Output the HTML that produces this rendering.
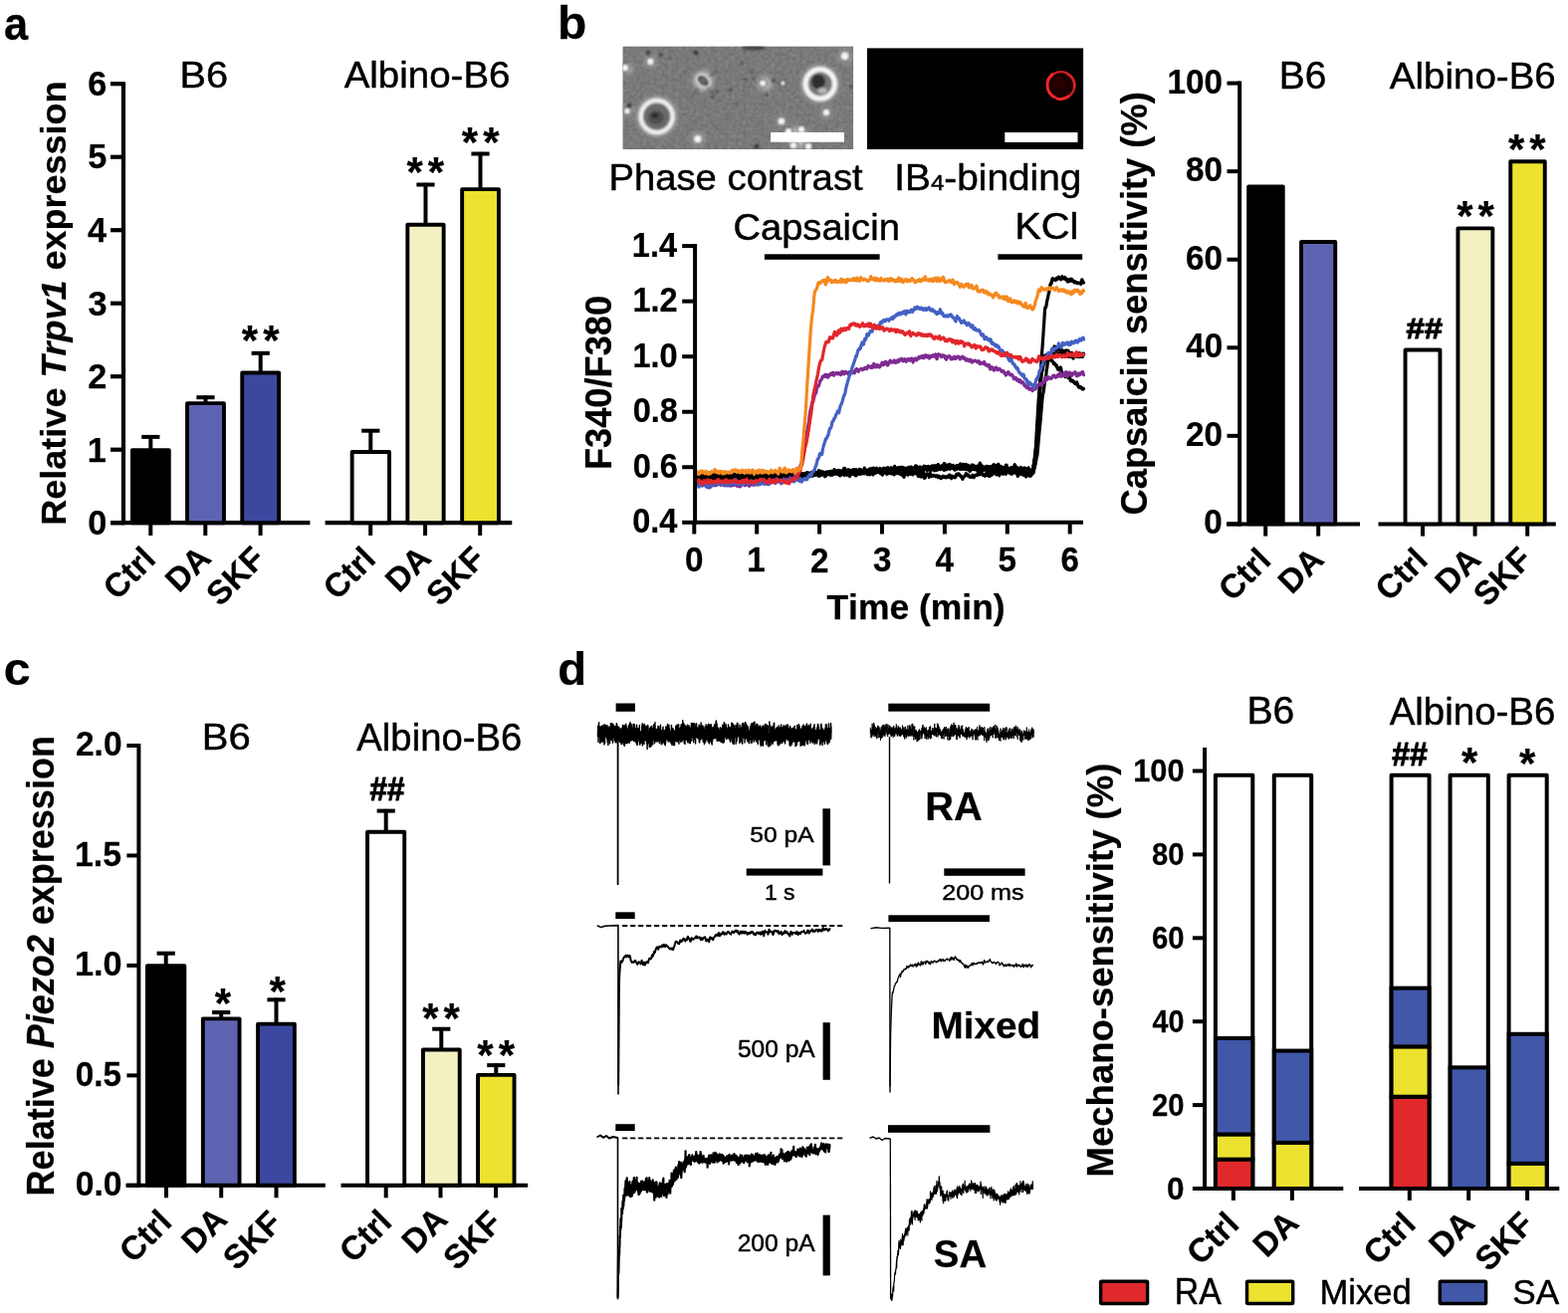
<!DOCTYPE html>
<html><head><meta charset="utf-8"><title>Figure</title>
<style>
html,body{margin:0;padding:0;background:#fff;}
svg{display:block;}
text{font-family:"Liberation Sans",Arial,Helvetica,sans-serif;font-kerning:none;}
</style></head><body>
<svg width="1575" height="1319" viewBox="0 0 1575 1319">
<rect width="1575" height="1319" fill="#fff"/>
<text transform="translate(4.05 39.52) scale(0.931 1)" font-size="46.64" fill="#000" stroke="#000" stroke-width="0.25" stroke-linejoin="round"><tspan font-weight="bold" y="0">a</tspan></text>
<line x1="124" y1="82.2" x2="124" y2="527.2" stroke="#000" stroke-width="4.2"/>
<line x1="111" y1="525.2" x2="124" y2="525.2" stroke="#000" stroke-width="4.2"/>
<line x1="111" y1="451.7" x2="124" y2="451.7" stroke="#000" stroke-width="4.2"/>
<line x1="111" y1="378.2" x2="124" y2="378.2" stroke="#000" stroke-width="4.2"/>
<line x1="111" y1="304.7" x2="124" y2="304.7" stroke="#000" stroke-width="4.2"/>
<line x1="111" y1="231.2" x2="124" y2="231.2" stroke="#000" stroke-width="4.2"/>
<line x1="111" y1="157.7" x2="124" y2="157.7" stroke="#000" stroke-width="4.2"/>
<line x1="111" y1="84.2" x2="124" y2="84.2" stroke="#000" stroke-width="4.2"/>
<text transform="translate(88.29 537.16)" font-size="34.3" fill="#000" stroke="#000" stroke-width="0.25" stroke-linejoin="round"><tspan font-weight="bold" y="0">0</tspan></text>
<text transform="translate(87.66 463.65)" font-size="34.3" fill="#000" stroke="#000" stroke-width="0.25" stroke-linejoin="round"><tspan font-weight="bold" y="0">1</tspan></text>
<text transform="translate(88.35 390.32)" font-size="34.3" fill="#000" stroke="#000" stroke-width="0.25" stroke-linejoin="round"><tspan font-weight="bold" y="0">2</tspan></text>
<text transform="translate(88.49 316.63)" font-size="34.3" fill="#000" stroke="#000" stroke-width="0.25" stroke-linejoin="round"><tspan font-weight="bold" y="0">3</tspan></text>
<text transform="translate(88.09 243.15)" font-size="34.3" fill="#000" stroke="#000" stroke-width="0.25" stroke-linejoin="round"><tspan font-weight="bold" y="0">4</tspan></text>
<text transform="translate(88.21 169.48)" font-size="34.3" fill="#000" stroke="#000" stroke-width="0.25" stroke-linejoin="round"><tspan font-weight="bold" y="0">5</tspan></text>
<text transform="translate(88.25 96.16)" font-size="34.3" fill="#000" stroke="#000" stroke-width="0.25" stroke-linejoin="round"><tspan font-weight="bold" y="0">6</tspan></text>
<line x1="111" y1="525.2" x2="311.4" y2="525.2" stroke="#000" stroke-width="4.2"/>
<line x1="326.6" y1="525.2" x2="514.3" y2="525.2" stroke="#000" stroke-width="4.2"/>
<line x1="151.3" y1="525.2" x2="151.3" y2="538" stroke="#000" stroke-width="4"/>
<line x1="206.3" y1="525.2" x2="206.3" y2="538" stroke="#000" stroke-width="4"/>
<line x1="261.6" y1="525.2" x2="261.6" y2="538" stroke="#000" stroke-width="4"/>
<line x1="372.2" y1="525.2" x2="372.2" y2="538" stroke="#000" stroke-width="4"/>
<line x1="427.1" y1="525.2" x2="427.1" y2="538" stroke="#000" stroke-width="4"/>
<line x1="482.2" y1="525.2" x2="482.2" y2="538" stroke="#000" stroke-width="4"/>
<rect x="132.9" y="452.15" width="36.9" height="73.05" fill="#000" stroke="#000" stroke-width="3.9" stroke-linejoin="round"/>
<rect x="188.05" y="405.15" width="36.9" height="120.05" fill="#5e63b1" stroke="#000" stroke-width="3.9" stroke-linejoin="round"/>
<rect x="243.25" y="374.55" width="36.9" height="150.65" fill="#3c489f" stroke="#000" stroke-width="3.9" stroke-linejoin="round"/>
<line x1="151.35" y1="451.7" x2="151.35" y2="437.2" stroke="#000" stroke-width="4"/>
<line x1="142.25" y1="438.9" x2="160.45" y2="438.9" stroke="#000" stroke-width="4"/>
<line x1="206.5" y1="405" x2="206.5" y2="397.5" stroke="#000" stroke-width="4"/>
<line x1="197.4" y1="399.2" x2="215.6" y2="399.2" stroke="#000" stroke-width="4"/>
<line x1="261.7" y1="374.4" x2="261.7" y2="353.1" stroke="#000" stroke-width="4"/>
<line x1="252.6" y1="354.8" x2="270.8" y2="354.8" stroke="#000" stroke-width="4"/>
<rect x="353.65" y="454.05" width="37.4" height="71.15" fill="#fff" stroke="#000" stroke-width="3.9" stroke-linejoin="round"/>
<rect x="409.35" y="225.75" width="36.3" height="299.45" fill="#f3f1c2" stroke="#000" stroke-width="3.9" stroke-linejoin="round"/>
<rect x="464.15" y="190.15" width="36.8" height="335.05" fill="#ece22f" stroke="#000" stroke-width="3.9" stroke-linejoin="round"/>
<line x1="372.3" y1="453.9" x2="372.3" y2="431" stroke="#000" stroke-width="4"/>
<line x1="363.2" y1="432.7" x2="381.4" y2="432.7" stroke="#000" stroke-width="4"/>
<line x1="427.5" y1="225.6" x2="427.5" y2="183.8" stroke="#000" stroke-width="4"/>
<line x1="418.4" y1="185.5" x2="436.6" y2="185.5" stroke="#000" stroke-width="4"/>
<line x1="482.5" y1="190" x2="482.5" y2="152.8" stroke="#000" stroke-width="4"/>
<line x1="473.4" y1="154.5" x2="491.6" y2="154.5" stroke="#000" stroke-width="4"/>
<text transform="translate(242.83 356.06) scale(1.009 1)" font-size="41.66" fill="#000" stroke="#000" stroke-width="0.2" stroke-linejoin="round"><tspan font-weight="bold" y="0">*</tspan></text>
<text transform="translate(264.13 356.06) scale(1.009 1)" font-size="41.66" fill="#000" stroke="#000" stroke-width="0.2" stroke-linejoin="round"><tspan font-weight="bold" y="0">*</tspan></text>
<text transform="translate(408.43 186.86) scale(1.009 1)" font-size="41.66" fill="#000" stroke="#000" stroke-width="0.2" stroke-linejoin="round"><tspan font-weight="bold" y="0">*</tspan></text>
<text transform="translate(429.73 186.86) scale(1.009 1)" font-size="41.66" fill="#000" stroke="#000" stroke-width="0.2" stroke-linejoin="round"><tspan font-weight="bold" y="0">*</tspan></text>
<text transform="translate(463.83 156.61) scale(1.009 1)" font-size="41.66" fill="#000" stroke="#000" stroke-width="0.2" stroke-linejoin="round"><tspan font-weight="bold" y="0">*</tspan></text>
<text transform="translate(485.13 156.61) scale(1.009 1)" font-size="41.66" fill="#000" stroke="#000" stroke-width="0.2" stroke-linejoin="round"><tspan font-weight="bold" y="0">*</tspan></text>
<text transform="translate(180.47 88.11) scale(1.051 1)" font-size="37.78" fill="#000" stroke="#000" stroke-width="0.45" stroke-linejoin="round"><tspan y="0">B6</tspan></text>
<text transform="translate(345.65 88.11) scale(1.037 1)" font-size="37.11" fill="#000" stroke="#000" stroke-width="0.45" stroke-linejoin="round"><tspan y="0">Albino-B6</tspan></text>
<text transform="translate(66.31 527.68) rotate(-90) scale(1.028 1)" font-size="35.03" fill="#000" stroke="#000" stroke-width="0.25" stroke-linejoin="round"><tspan font-weight="bold" y="0">Relative </tspan><tspan font-weight="bold" font-style="italic" y="0">Trpv1</tspan><tspan font-weight="bold" y="0"> expression</tspan></text>
<text transform="translate(117.6 604.11) rotate(-45)" font-size="33.3" fill="#000" stroke="#000" stroke-width="0.25" stroke-linejoin="round"><tspan font-weight="bold" y="0">Ctrl</tspan></text>
<text transform="translate(179.82 596.54) rotate(-45)" font-size="33.3" fill="#000" stroke="#000" stroke-width="0.25" stroke-linejoin="round"><tspan font-weight="bold" y="0">DA</tspan></text>
<text transform="translate(221.03 610.14) rotate(-45)" font-size="33.3" fill="#000" stroke="#000" stroke-width="0.25" stroke-linejoin="round"><tspan font-weight="bold" y="0">SKF</tspan></text>
<text transform="translate(338.6 604.11) rotate(-45)" font-size="33.3" fill="#000" stroke="#000" stroke-width="0.25" stroke-linejoin="round"><tspan font-weight="bold" y="0">Ctrl</tspan></text>
<text transform="translate(400.82 596.54) rotate(-45)" font-size="33.3" fill="#000" stroke="#000" stroke-width="0.25" stroke-linejoin="round"><tspan font-weight="bold" y="0">DA</tspan></text>
<text transform="translate(442.03 610.14) rotate(-45)" font-size="33.3" fill="#000" stroke="#000" stroke-width="0.25" stroke-linejoin="round"><tspan font-weight="bold" y="0">SKF</tspan></text>
<text transform="translate(3.64 687.82) scale(1.039 1)" font-size="46.45" fill="#000" stroke="#000" stroke-width="0.25" stroke-linejoin="round"><tspan font-weight="bold" y="0">c</tspan></text>
<line x1="139.4" y1="747" x2="139.4" y2="1192.8" stroke="#000" stroke-width="4"/>
<line x1="127.4" y1="1190.8" x2="139.4" y2="1190.8" stroke="#000" stroke-width="4"/>
<text transform="translate(75.79 1201.14) scale(0.978 1)" font-size="34.39" fill="#000" stroke="#000" stroke-width="0.25" stroke-linejoin="round"><tspan font-weight="bold" y="0">0.0</tspan></text>
<line x1="127.4" y1="1080.35" x2="139.4" y2="1080.35" stroke="#000" stroke-width="4"/>
<text transform="translate(75.81 1090.69) scale(0.968 1)" font-size="34.39" fill="#000" stroke="#000" stroke-width="0.25" stroke-linejoin="round"><tspan font-weight="bold" y="0">0.5</tspan></text>
<line x1="127.4" y1="969.9" x2="139.4" y2="969.9" stroke="#000" stroke-width="4"/>
<text transform="translate(74.97 980.24) scale(0.996 1)" font-size="34.39" fill="#000" stroke="#000" stroke-width="0.25" stroke-linejoin="round"><tspan font-weight="bold" y="0">1.0</tspan></text>
<line x1="127.4" y1="859.45" x2="139.4" y2="859.45" stroke="#000" stroke-width="4"/>
<text transform="translate(74.99 869.78) scale(0.971 1)" font-size="34.9" fill="#000" stroke="#000" stroke-width="0.25" stroke-linejoin="round"><tspan font-weight="bold" y="0">1.5</tspan></text>
<line x1="127.4" y1="749" x2="139.4" y2="749" stroke="#000" stroke-width="4"/>
<text transform="translate(75.96 759.34) scale(0.974 1)" font-size="34.39" fill="#000" stroke="#000" stroke-width="0.25" stroke-linejoin="round"><tspan font-weight="bold" y="0">2.0</tspan></text>
<line x1="126.5" y1="1190.8" x2="326.8" y2="1190.8" stroke="#000" stroke-width="4"/>
<line x1="342.5" y1="1190.8" x2="530.2" y2="1190.8" stroke="#000" stroke-width="4"/>
<line x1="167" y1="1190.8" x2="167" y2="1203.3" stroke="#000" stroke-width="4"/>
<line x1="222.2" y1="1190.8" x2="222.2" y2="1203.3" stroke="#000" stroke-width="4"/>
<line x1="277.5" y1="1190.8" x2="277.5" y2="1203.3" stroke="#000" stroke-width="4"/>
<line x1="387.7" y1="1190.8" x2="387.7" y2="1203.3" stroke="#000" stroke-width="4"/>
<line x1="442.5" y1="1190.8" x2="442.5" y2="1203.3" stroke="#000" stroke-width="4"/>
<line x1="498" y1="1190.8" x2="498" y2="1203.3" stroke="#000" stroke-width="4"/>
<rect x="147.95" y="970.15" width="37.4" height="220.65" fill="#000" stroke="#000" stroke-width="3.9" stroke-linejoin="round"/>
<rect x="203.85" y="1023.35" width="36.7" height="167.45" fill="#5e63b1" stroke="#000" stroke-width="3.9" stroke-linejoin="round"/>
<rect x="259.05" y="1028.65" width="36.8" height="162.15" fill="#3c489f" stroke="#000" stroke-width="3.9" stroke-linejoin="round"/>
<line x1="166.7" y1="970" x2="166.7" y2="956" stroke="#000" stroke-width="4"/>
<line x1="157.6" y1="957.7" x2="175.8" y2="957.7" stroke="#000" stroke-width="4"/>
<line x1="222.2" y1="1023.2" x2="222.2" y2="1015.3" stroke="#000" stroke-width="4"/>
<line x1="213.1" y1="1017" x2="231.3" y2="1017" stroke="#000" stroke-width="4"/>
<line x1="277.5" y1="1028.5" x2="277.5" y2="1002.6" stroke="#000" stroke-width="4"/>
<line x1="268.4" y1="1004.3" x2="286.6" y2="1004.3" stroke="#000" stroke-width="4"/>
<rect x="369.05" y="835.75" width="37.2" height="355.05" fill="#fff" stroke="#000" stroke-width="3.9" stroke-linejoin="round"/>
<rect x="424.95" y="1054.45" width="36.8" height="136.35" fill="#f3f1c2" stroke="#000" stroke-width="3.9" stroke-linejoin="round"/>
<rect x="480.05" y="1079.85" width="36.5" height="110.95" fill="#ece22f" stroke="#000" stroke-width="3.9" stroke-linejoin="round"/>
<line x1="387.7" y1="835.6" x2="387.7" y2="812.9" stroke="#000" stroke-width="4"/>
<line x1="378.6" y1="814.6" x2="396.8" y2="814.6" stroke="#000" stroke-width="4"/>
<line x1="443.3" y1="1054.3" x2="443.3" y2="1032" stroke="#000" stroke-width="4"/>
<line x1="434.2" y1="1033.7" x2="452.4" y2="1033.7" stroke="#000" stroke-width="4"/>
<line x1="498.3" y1="1079.7" x2="498.3" y2="1068.4" stroke="#000" stroke-width="4"/>
<line x1="489.2" y1="1070.1" x2="507.4" y2="1070.1" stroke="#000" stroke-width="4"/>
<text transform="translate(215.63 1021.61) scale(1.009 1)" font-size="41.66" fill="#000" stroke="#000" stroke-width="0.2" stroke-linejoin="round"><tspan font-weight="bold" y="0">*</tspan></text>
<text transform="translate(270.38 1009.56) scale(1.009 1)" font-size="41.66" fill="#000" stroke="#000" stroke-width="0.2" stroke-linejoin="round"><tspan font-weight="bold" y="0">*</tspan></text>
<text transform="translate(371.46 803.5) scale(0.930 1)" font-size="33.77" fill="#000" stroke="#000" stroke-width="1" stroke-linejoin="round"><tspan font-weight="bold" y="0">##</tspan></text>
<text transform="translate(424.23 1037.41) scale(1.009 1)" font-size="41.66" fill="#000" stroke="#000" stroke-width="0.2" stroke-linejoin="round"><tspan font-weight="bold" y="0">*</tspan></text>
<text transform="translate(445.53 1037.41) scale(1.009 1)" font-size="41.66" fill="#000" stroke="#000" stroke-width="0.2" stroke-linejoin="round"><tspan font-weight="bold" y="0">*</tspan></text>
<text transform="translate(479.33 1073.91) scale(1.009 1)" font-size="41.66" fill="#000" stroke="#000" stroke-width="0.2" stroke-linejoin="round"><tspan font-weight="bold" y="0">*</tspan></text>
<text transform="translate(500.63 1073.91) scale(1.009 1)" font-size="41.66" fill="#000" stroke="#000" stroke-width="0.2" stroke-linejoin="round"><tspan font-weight="bold" y="0">*</tspan></text>
<text transform="translate(202.74 752.92) scale(1.101 1)" font-size="36.37" fill="#000" stroke="#000" stroke-width="0.45" stroke-linejoin="round"><tspan y="0">B6</tspan></text>
<text transform="translate(358.35 753.6) scale(0.995 1)" font-size="38.47" fill="#000" stroke="#000" stroke-width="0.45" stroke-linejoin="round"><tspan y="0">Albino-B6</tspan></text>
<text transform="translate(53.67 1201.39) rotate(-90) scale(0.934 1)" font-size="38.57" fill="#000" stroke="#000" stroke-width="0.25" stroke-linejoin="round"><tspan font-weight="bold" y="0">Relative </tspan><tspan font-weight="bold" font-style="italic" y="0">Piezo2</tspan><tspan font-weight="bold" y="0"> expression</tspan></text>
<text transform="translate(133.65 1270.11) rotate(-45)" font-size="33.3" fill="#000" stroke="#000" stroke-width="0.25" stroke-linejoin="round"><tspan font-weight="bold" y="0">Ctrl</tspan></text>
<text transform="translate(196.07 1260.64) rotate(-45)" font-size="33.3" fill="#000" stroke="#000" stroke-width="0.25" stroke-linejoin="round"><tspan font-weight="bold" y="0">DA</tspan></text>
<text transform="translate(237.68 1277.54) rotate(-45)" font-size="33.3" fill="#000" stroke="#000" stroke-width="0.25" stroke-linejoin="round"><tspan font-weight="bold" y="0">SKF</tspan></text>
<text transform="translate(354.85 1270.11) rotate(-45)" font-size="33.3" fill="#000" stroke="#000" stroke-width="0.25" stroke-linejoin="round"><tspan font-weight="bold" y="0">Ctrl</tspan></text>
<text transform="translate(417.27 1260.64) rotate(-45)" font-size="33.3" fill="#000" stroke="#000" stroke-width="0.25" stroke-linejoin="round"><tspan font-weight="bold" y="0">DA</tspan></text>
<text transform="translate(458.88 1277.54) rotate(-45)" font-size="33.3" fill="#000" stroke="#000" stroke-width="0.25" stroke-linejoin="round"><tspan font-weight="bold" y="0">SKF</tspan></text>
<text transform="translate(560.07 39.42) scale(1.034 1)" font-size="46.37" fill="#000" stroke="#000" stroke-width="0.25" stroke-linejoin="round"><tspan font-weight="bold" y="0">b</tspan></text>
<defs><clipPath id="pc"><rect x="625.4" y="46.5" width="231.8" height="103.6"/></clipPath><filter id="bl1" x="-50%" y="-50%" width="200%" height="200%"><feGaussianBlur stdDeviation="0.9"/></filter><filter id="bl2" x="-50%" y="-50%" width="200%" height="200%"><feGaussianBlur stdDeviation="2.6"/></filter><filter id="bl05" x="-50%" y="-50%" width="200%" height="200%"><feGaussianBlur stdDeviation="0.6"/></filter><filter id="tex" x="0" y="0" width="100%" height="100%" color-interpolation-filters="sRGB"><feTurbulence type="fractalNoise" baseFrequency="0.28" numOctaves="2" seed="3" result="n"/><feColorMatrix type="matrix" values="0.5 0 0 0 0.225  0.5 0 0 0 0.225  0.5 0 0 0 0.225  0 0 0 0 0.32"/></filter></defs>
<g clip-path="url(#pc)">
<rect x="625.4" y="46.5" width="231.8" height="103.6" fill="#7a7a7a"/>
<rect x="625.4" y="46.5" width="231.8" height="103.6" filter="url(#tex)" opacity="0.9"/>
<g filter="url(#bl2)" fill="#bdbdbd">
<circle cx="659.7" cy="117" r="19.5"/>
<circle cx="823.8" cy="84.3" r="18"/>
<circle cx="706.3" cy="81.2" r="10"/>
<circle cx="768" cy="84" r="7"/>
<circle cx="801" cy="138" r="11"/>
<circle cx="653.4" cy="61.8" r="5"/>
<circle cx="848.7" cy="56.3" r="6"/>
<circle cx="630" cy="69" r="5"/>
<circle cx="630" cy="111" r="5"/>
<circle cx="700.9" cy="139.6" r="6"/>
<circle cx="784.9" cy="121.7" r="5"/>
<circle cx="830" cy="113" r="5"/>
</g>
<g filter="url(#bl1)">
<circle cx="659.7" cy="117" r="15.8" fill="#6b6b6b" stroke="#f0f0f0" stroke-width="4.2"/>
<circle cx="823.8" cy="84.3" r="14.6" fill="#767676" stroke="#f5f5f5" stroke-width="5"/>
<ellipse cx="659" cy="118" rx="8" ry="7" fill="#505050"/><ellipse cx="658" cy="116" rx="3.5" ry="3" fill="#2a2a2a"/>
<ellipse cx="822" cy="82" rx="7" ry="7.5" fill="#2e2e2e"/>
<ellipse cx="826" cy="91" rx="4.5" ry="3" fill="#b8b8b8"/>
<ellipse cx="706.3" cy="81.2" rx="7.5" ry="5.2" fill="#4a4a4a" stroke="#d8d8d8" stroke-width="1.8" transform="rotate(40 706.3 81.2)"/>
<ellipse cx="706.3" cy="81.2" rx="3.5" ry="2" fill="#6e6e6e" transform="rotate(40 706.3 81.2)"/>
<path d="M701 88 L694 99 M712 77 L722 71 M710 88 L718 96" stroke="#555" stroke-width="1.2"/>
<circle cx="653.4" cy="61.8" r="4.0" fill="#f6f6f6" stroke="#3e3e3e" stroke-width="1.3"/>
<circle cx="627.8" cy="68" r="4" fill="#f6f6f6" stroke="#3e3e3e" stroke-width="1.3"/>
<circle cx="848.7" cy="56.3" r="4.6" fill="#f6f6f6" stroke="#3e3e3e" stroke-width="1.3"/>
<circle cx="784.9" cy="121.7" r="4.2" fill="#f6f6f6" stroke="#3e3e3e" stroke-width="1.3"/>
<circle cx="700.9" cy="139.6" r="4.6" fill="#f6f6f6" stroke="#3e3e3e" stroke-width="1.3"/>
<circle cx="830" cy="113" r="4.0" fill="#f6f6f6" stroke="#3e3e3e" stroke-width="1.3"/>
<circle cx="630" cy="111.6" r="3.6" fill="#f6f6f6" stroke="#3e3e3e" stroke-width="1.3"/>
<circle cx="766.2" cy="83.6" r="3.8" fill="#f6f6f6" stroke="#3e3e3e" stroke-width="1.3"/>
<circle cx="786.4" cy="83.6" r="2.8" fill="#f6f6f6" stroke="#3e3e3e" stroke-width="1.3"/>
<circle cx="792" cy="132" r="4" fill="#f6f6f6" stroke="#3e3e3e" stroke-width="1.3"/>
<circle cx="805" cy="130" r="4" fill="#f6f6f6" stroke="#3e3e3e" stroke-width="1.3"/>
<circle cx="797" cy="146" r="4" fill="#f6f6f6" stroke="#3e3e3e" stroke-width="1.3"/>
<circle cx="812" cy="147" r="4" fill="#f6f6f6" stroke="#3e3e3e" stroke-width="1.3"/>
<circle cx="651" cy="53" r="2.2" fill="#3a3a3a"/>
<circle cx="664" cy="55" r="1.8" fill="#3a3a3a"/>
<circle cx="749" cy="80" r="1.4" fill="#3a3a3a"/>
<circle cx="757" cy="79" r="1.2" fill="#3a3a3a"/>
<circle cx="734" cy="90" r="1.4" fill="#3a3a3a"/>
<circle cx="777" cy="81" r="1.8" fill="#3a3a3a"/>
<circle cx="770" cy="95" r="1.5" fill="#3a3a3a"/>
<circle cx="716" cy="98" r="1.3" fill="#3a3a3a"/>
<circle cx="720" cy="92" r="1.3" fill="#3a3a3a"/>
<circle cx="632" cy="106" r="2.5" fill="#3a3a3a"/>
<circle cx="760" cy="147" r="2.5" fill="#3a3a3a"/>
<circle cx="699" cy="53" r="2.5" fill="#3a3a3a"/>
<circle cx="745" cy="64" r="1.2" fill="#3a3a3a"/>
<circle cx="755" cy="72" r="1.2" fill="#3a3a3a"/>
<circle cx="855" cy="87" r="1.5" fill="#3a3a3a"/>
<circle cx="673" cy="59" r="1.0" fill="#3a3a3a"/>
<circle cx="688" cy="72" r="1.0" fill="#3a3a3a"/>
<circle cx="740" cy="104" r="1.0" fill="#3a3a3a"/>
<ellipse cx="757" cy="48" rx="12" ry="2.5" fill="#444"/>
</g>
</g>
<rect x="774" y="132.9" width="73.9" height="9.8" fill="#fff"/>
<rect x="871" y="48.4" width="217.1" height="101.6" fill="#000"/>
<g filter="url(#bl05)"><circle cx="1065.7" cy="85.7" r="13.6" fill="#1c0303" stroke="#cc1c20" stroke-width="2.4"/><path d="M1058 74 A13.8 13.8 0 0 0 1060 98" fill="none" stroke="#f4282c" stroke-width="2.8"/><path d="M1061 99 A13.8 13.8 0 0 0 1074 96" fill="none" stroke="#ec262b" stroke-width="2.6"/><path d="M1072 74 A13.8 13.8 0 0 1 1079.3 88" fill="none" stroke="#e02428" stroke-width="2.4"/><circle cx="1064" cy="84" r="6" fill="#2a0505"/></g>
<rect x="1009.3" y="133" width="73.2" height="9.9" fill="#fff"/>
<text transform="translate(611.38 190.72) scale(1.059 1)" font-size="36.15" fill="#000" stroke="#000" stroke-width="0.45" stroke-linejoin="round"><tspan y="0">Phase contrast</tspan></text>
<text transform="translate(898.24 191.31) scale(1.050 1)" font-size="36.96" fill="#000" stroke="#000" stroke-width="0.45" stroke-linejoin="round"><tspan y="0">IB</tspan><tspan font-size="22.91" y="0">4</tspan><tspan y="0">-binding</tspan></text>
<path d="M699.5 475.98 699.93 475.66 700.37 476.12 700.8 476.69 701.23 476.14 701.67 475.67 702.1 476.62 702.53 476.88 702.96 476.5 703.4 476.78 703.83 477.08 704.26 478.8 704.69 478.77 705.13 479.69 705.56 478.6 705.99 478.6 706.43 477.21 706.86 476.97 707.29 476.26 707.72 478.11 708.16 478.58 708.59 478.5 709.02 476.77 709.45 477.44 709.89 477.73 710.32 478.46 710.75 477.99 711.19 476.99 711.62 476.88 712.05 476.38 712.48 476.51 712.92 476.37 713.35 476.43 713.78 476.95 714.21 476.53 714.65 477.28 715.08 477.31 715.51 476.47 715.95 476.69 716.38 476.18 716.81 477.01 717.24 476.42 717.68 475.68 718.11 475.26 718.54 475.64 718.97 476.92 719.41 477.05 719.84 476.4 720.27 476 720.71 476.44 721.14 475.88 721.57 475.39 722 475.81 722.44 476.12 722.87 477.38 723.3 476.86 723.74 477.79 724.17 477.88 724.6 478.1 725.03 476.73 725.47 475.61 725.9 476.36 726.33 477.48 726.76 477.82 727.2 478.27 727.63 478.06 728.06 478.56 728.5 476.43 728.93 475.68 729.36 475.84 729.79 476.92 730.23 477.55 730.66 476.34 731.09 476.39 731.52 476.44 731.96 477.22 732.39 477.02 732.82 476.96 733.26 477.94 733.69 477.88 734.12 478.05 734.55 476.56 734.99 476.13 735.42 475.86 735.85 476.2 736.28 476.86 736.72 476.16 737.15 476.62 737.58 476.02 738.02 477.57 738.45 477.35 738.88 478.85 739.31 479.35 739.75 479.79 740.18 479.28 740.61 477.84 741.04 476.17 741.48 476.14 741.91 476.67 742.34 478.02 742.78 477.16 743.21 476.87 743.64 477.15 744.07 477.02 744.51 476.58 744.94 477.13 745.37 477.65 745.81 477.98 746.24 478.01 746.67 477.79 747.1 478.39 747.54 477.07 747.97 477.12 748.4 476.5 748.83 477.54 749.27 477.76 749.7 479.14 750.13 479.51 750.57 479.2 751 479.3 751.43 478 751.86 479.4 752.3 477.51 752.73 478.63 753.16 476.98 753.59 477.4 754.03 477.87 754.46 477.57 754.89 476.71 755.33 475.75 755.76 476.77 756.19 477.83 756.62 478.44 757.06 477.55 757.49 477.81 757.92 477.21 758.35 478.46 758.79 478.53 759.22 479.35 759.65 478 760.09 477.7 760.52 476.22 760.95 477.03 761.38 477.38 761.82 478.22 762.25 478.59 762.68 478.12 763.11 478.14 763.55 477.96 763.98 478.86 764.41 479.14 764.85 477.84 765.28 477.36 765.71 477.52 766.14 478.37 766.58 477 767.01 477.25 767.44 477.6 767.87 478.93 768.31 479.13 768.74 478.49 769.17 478.08 769.61 476.87 770.04 477.84 770.47 477.51 770.9 477.91 771.34 477.49 771.77 478.52 772.2 478.95 772.64 477.97 773.07 477.56 773.5 476.56 773.93 477.45 774.37 477.4 774.8 477.92 775.23 477.47 775.66 477.37 776.1 477.12 776.53 477.51 776.96 476.53 777.4 475.97 777.83 475.73 778.26 476.86 778.69 478.21 779.13 477.83 779.56 476.81 779.99 475.98 780.42 476.24 780.86 476.36 781.29 475.71 781.72 475.45 782.16 476.25 782.59 475.79 783.02 477.21 783.45 476.33 783.89 477 784.32 475.59 784.75 474.91 785.18 474.25 785.62 475.57 786.05 477.91 786.48 478.34 786.92 478.24 787.35 477.13 787.78 477.11 788.21 477.51 788.65 478.88 789.08 479.26 789.51 478.13 789.94 476.9 790.38 477.03 790.81 477.62 791.24 478.44 791.68 478.57 792.11 478.63 792.54 478.71 792.97 478.26 793.41 477.65 793.84 476.29 794.27 477.26 794.71 477.65 795.14 478.56 795.57 478.49 796 477.91 796.44 477.76 796.87 476.93 797.3 476.83 797.73 474.97 798.17 476.11 798.6 475.74 799.03 477.13 799.47 476.21 799.9 477.74 800.33 477.97 800.76 477.46 801.2 476.55 801.63 476.19 802.06 476.86 802.49 476.03 802.93 476.09 803.36 477.34 803.79 478.55 804.23 479.82 804.66 480.5 805.09 480.39 805.52 478.2 805.96 476.02 806.39 476.43 806.82 477.92 807.25 477.2 807.69 476.31 808.12 475.65 808.55 476.42 808.99 476.49 809.42 475.98 809.85 475.58 810.28 475.45 810.72 476.66 811.15 476.67 811.58 477.26 812.01 475.84 812.45 477.01 812.88 476.64 813.31 477.35 813.75 477.38 814.18 476.14 814.61 475.17 815.04 474.59 815.48 475.21 815.91 475.91 816.34 477.32 816.78 477.65 817.21 477.93 817.64 476.14 818.07 477.01 818.51 477.14 818.94 477.3 819.37 475.8 819.8 475.39 820.24 475.27 820.67 475.03 821.1 475.61 821.54 475.85 821.97 478.05 822.4 476.64 822.83 475.74 823.27 473.92 823.7 474.48 824.13 475.02 824.56 475.45 825 476.03 825.43 476.21 825.86 476.28 826.3 475.09 826.73 474.56 827.16 474.61 827.59 475.96 828.03 476.71 828.46 475.59 828.89 474.85 829.32 474.36 829.76 475.61 830.19 476.65 830.62 476.71 831.06 475.87 831.49 475.37 831.92 475.45 832.35 476.14 832.79 475.78 833.22 476.66 833.65 476.64 834.08 477.24 834.52 475.58 834.95 475.91 835.38 474.93 835.82 474.48 836.25 474.15 836.68 474.9 837.11 475.75 837.55 475.52 837.98 475.75 838.41 475.54 838.84 474.18 839.28 473.67 839.71 474.08 840.14 476.07 840.58 475.66 841.01 476.32 841.44 476.33 841.87 475.67 842.31 475.41 842.74 473.94 843.17 473.75 843.61 472.96 844.04 473.28 844.47 472.97 844.9 473.24 845.34 473.96 845.77 476.11 846.2 475.93 846.63 474.53 847.07 472.98 847.5 473.6 847.93 475.11 848.37 476.05 848.8 475.2 849.23 474.75 849.66 474.24 850.1 474.21 850.53 474.25 850.96 474.39 851.39 474.42 851.83 474.25 852.26 473.86 852.69 472.73 853.13 472.26 853.56 472.53 853.99 474.84 854.42 474.95 854.86 476.24 855.29 476.03 855.72 475.69 856.15 473.91 856.59 473.06 857.02 474.72 857.45 475.4 857.89 475.72 858.32 474.14 858.75 472.38 859.18 471.76 859.62 472.67 860.05 474.9 860.48 475.05 860.91 474.62 861.35 474.58 861.78 474.44 862.21 475.05 862.65 473.53 863.08 472.88 863.51 471.38 863.94 472.4 864.38 472.73 864.81 473.5 865.24 473.42 865.68 473.95 866.11 474.69 866.54 475.36 866.97 474.58 867.41 473.82 867.84 472.7 868.27 472.53 868.7 473.52 869.14 474.15 869.57 474.67 870 473.24 870.44 472.94 870.87 472.35 871.3 472.44 871.73 472.96 872.17 474.23 872.6 473.81 873.03 472.67 873.46 473.28 873.9 472.9 874.33 472.78 874.76 470.61 875.2 471.73 875.63 472.29 876.06 473.88 876.49 471.93 876.93 471.82 877.36 470.01 877.79 472.08 878.22 471.82 878.66 473.94 879.09 473.74 879.52 473.17 879.96 472.87 880.39 471.88 880.82 472.28 881.25 472.11 881.69 473.12 882.12 473.61 882.55 472.93 882.98 472.92 883.42 473.14 883.85 473.28 884.28 473.57 884.72 473.85 885.15 473.65 885.58 472.36 886.01 472.49 886.45 472.43 886.88 473.41 887.31 473.02 887.74 472.43 888.18 472.32 888.61 470.66 889.04 471.7 889.48 471.08 889.91 472.19 890.34 472.14 890.77 471.98 891.21 471.9 891.64 470.98 892.07 471.37 892.51 471.96 892.94 472.39 893.37 472.3 893.8 470.92 894.24 471.42 894.67 471.45 895.1 473.19 895.53 472.14 895.97 472.79 896.4 472.82 896.83 473.26 897.27 471.79 897.7 471.58 898.13 472.23 898.56 473.42 899 473.13 899.43 472.13 899.86 472.14 900.29 471.85 900.73 471.68 901.16 471.62 901.59 470.83 902.03 471.83 902.46 472.1 902.89 473.57 903.32 471.67 903.76 471.06 904.19 469.66 904.62 470.87 905.05 470.53 905.49 470.63 905.92 469.32 906.35 470.08 906.79 471.11 907.22 473.01 907.65 473.17 908.08 471.63 908.52 470.39 908.95 470.12 909.38 471.5 909.81 472.24 910.25 470.66 910.68 471.58 911.11 470.97 911.55 472.56 911.98 469.99 912.41 471.02 912.84 470.47 913.28 472.12 913.71 472.03 914.14 470.9 914.58 469.33 915.01 468.93 915.44 470.38 915.87 472.14 916.31 472.11 916.74 471.53 917.17 470.31 917.6 470.08 918.04 470.77 918.47 470.73 918.9 470.67 919.34 469.05 919.77 467.75 920.2 467.78 920.63 469.11 921.07 470.35 921.5 470.63 921.93 470.59 922.36 470.56 922.8 470.82 923.23 469.9 923.66 469.9 924.1 469.02 924.53 469.51 924.96 469.89 925.39 470.65 925.83 470.66 926.26 470.51 926.69 469.71 927.12 469.52 927.56 470.03 927.99 470.11 928.42 470.97 928.86 470.45 929.29 470.65 929.72 471.11 930.15 470.61 930.59 470.29 931.02 469 931.45 469.31 931.88 469.63 932.32 470.14 932.75 470.01 933.18 470.1 933.62 469.36 934.05 469.95 934.48 469.4 934.91 469.34 935.35 468.61 935.78 469.03 936.21 468.73 936.64 469.71 937.08 469.08 937.51 469.26 937.94 467.95 938.38 467.97 938.81 468.53 939.24 468.86 939.67 468.66 940.11 467.92 940.54 467.59 940.97 468.97 941.41 468.87 941.84 468.21 942.27 466.52 942.7 466.69 943.14 468.46 943.57 468.48 944 468.7 944.43 469.31 944.87 469.66 945.3 470.51 945.73 469.67 946.17 470.31 946.6 468.46 947.03 467.82 947.46 467.19 947.9 466.85 948.33 465.53 948.76 465.75 949.19 467.06 949.63 468.95 950.06 469.34 950.49 468.91 950.93 467.83 951.36 467.31 951.79 466.95 952.22 467.73 952.66 467.84 953.09 468.03 953.52 467.14 953.95 466.41 954.39 466.64 954.82 467.24 955.25 467.72 955.69 468.65 956.12 469.53 956.55 469.4 956.98 468.78 957.42 467.51 957.85 469.02 958.28 469.23 958.71 469.84 959.15 469.3 959.58 470.56 960.01 470.39 960.45 469.24 960.88 467.51 961.31 467.7 961.74 468.31 962.18 468.07 962.61 469.5 963.04 469.59 963.48 469.74 963.91 467.48 964.34 466.28 964.77 465.9 965.21 466.16 965.64 467.09 966.07 467.33 966.5 467.9 966.94 468.13 967.37 468.06 967.8 466.43 968.24 466.52 968.67 467.16 969.1 468.32 969.53 467.34 969.97 467.34 970.4 466.51 970.83 468.04 971.26 468.16 971.7 469.26 972.13 468.12 972.56 467.32 973 468.19 973.43 469.32 973.86 469.8 974.29 469.25 974.73 469.66 975.16 469.2 975.59 468.45 976.02 467.14 976.46 468.14 976.89 467.8 977.32 468.29 977.76 467.27 978.19 468.55 978.62 468.97 979.05 469.57 979.49 469.44 979.92 468.44 980.35 468.41 980.78 468.57 981.22 468.97 981.65 469.39 982.08 468.18 982.52 468.66 982.95 468.73 983.38 468.54 983.81 466.66 984.25 465.06 984.68 465.83 985.11 467.17 985.55 467.48 985.98 467.62 986.41 468.41 986.84 469.36 987.28 468.99 987.71 468.9 988.14 470.07 988.57 471.32 989.01 470.35 989.44 469.77 989.87 468.93 990.31 469.24 990.74 468.34 991.17 468.48 991.6 468.3 992.04 469.3 992.47 469.33 992.9 470.34 993.33 469.02 993.77 468.81 994.2 468.63 994.63 469.62 995.07 469.76 995.5 468.82 995.93 469.65 996.36 470.19 996.8 470.91 997.23 468.2 997.66 466.9 998.09 466.73 998.53 467.94 998.96 467.23 999.39 467.32 999.83 468.04 1000.26 468.6 1000.69 468.13 1001.12 467.46 1001.56 468.6 1001.99 467.67 1002.42 466.99 1002.85 466.3 1003.29 467.12 1003.72 469.59 1004.15 469.56 1004.59 470.14 1005.02 468.53 1005.45 468.51 1005.88 468.62 1006.32 470.03 1006.75 470.24 1007.18 470.52 1007.61 469.63 1008.05 470.28 1008.48 470.03 1008.91 471.34 1009.35 470.15 1009.78 469.77 1010.21 467.52 1010.64 467.03 1011.08 467.19 1011.51 469.12 1011.94 471.04 1012.38 471.89 1012.81 471.09 1013.24 470.49 1013.67 471.06 1014.11 470.56 1014.54 471.65 1014.97 470.18 1015.4 470.53 1015.84 469.79 1016.27 470.08 1016.7 470.41 1017.14 470.66 1017.57 471.76 1018 471.48 1018.43 469.9 1018.87 467.54 1019.3 466.7 1019.73 467.5 1020.16 469.29 1020.6 469.26 1021.03 469.81 1021.46 469.46 1021.9 470.65 1022.33 470.6 1022.76 470.89 1023.19 470.8 1023.63 471.62 1024.06 471.63 1024.49 470.12 1024.92 469.5 1025.36 469.46 1025.79 470.66 1026.22 470.19 1026.66 470.82 1027.09 471.35 1027.52 471.26 1027.95 470.4 1028.39 470.23 1028.82 469.86 1029.25 470.53 1029.68 470.6 1030.12 472.02 1030.55 470.64 1030.98 472.02 1031.42 472.17 1031.85 473.55 1032.28 471.87 1032.71 471.08 1033.15 469.86 1033.58 471.38 1034.01 471.34 1034.45 472.5 1034.88 471.94 1035.31 472.13 1035.74 472.59 1036.18 473.57 1036.61 474.22 1037.04 474.28 1037.47 471.42 1037.91 469.03 1038.34 465.92 1038.77 462.54 1039.21 461.01 1039.64 460.31 1040.07 459.94 1040.5 458.51 1040.94 453.56 1041.37 444.82 1041.8 436.67 1042.23 429.21 1042.67 421.08 1043.1 412.77 1043.53 403.27 1043.97 395.7 1044.4 387.25 1044.83 380.63 1045.26 373.44 1045.7 367.12 1046.13 360.44 1046.56 354.54 1046.99 349.33 1047.43 343.25 1047.86 337.24 1048.29 329.7 1048.73 324.04 1049.16 316.34 1049.59 310.5 1050.02 308.58 1050.46 308.95 1050.89 307.37 1051.32 304.8 1051.75 302.32 1052.19 300.24 1052.62 298.77 1053.05 296.11 1053.49 294.81 1053.92 292.58 1054.35 290.47 1054.78 286.47 1055.22 285.28 1055.65 284.4 1056.08 284.81 1056.51 281.8 1056.95 280.42 1057.38 279.59 1057.81 280.13 1058.25 280.02 1058.68 280.33 1059.11 280.62 1059.54 281.36 1059.98 281.68 1060.41 281.64 1060.84 280.16 1061.28 279.33 1061.71 280.23 1062.14 280.63 1062.57 279.98 1063.01 278.45 1063.44 278.2 1063.87 279.31 1064.3 279.26 1064.74 279.59 1065.17 279.77 1065.6 280.83 1066.04 279.64 1066.47 278.86 1066.9 277.71 1067.33 279.13 1067.77 278.8 1068.2 280.1 1068.63 280.03 1069.06 279.16 1069.5 278.4 1069.93 278.77 1070.36 280.6 1070.8 281.04 1071.23 280.05 1071.66 280.46 1072.09 281.97 1072.53 283.09 1072.96 282.9 1073.39 281.83 1073.82 280.92 1074.26 280.87 1074.69 280.54 1075.12 282.28 1075.56 282.06 1075.99 281.36 1076.42 280.27 1076.85 280.82 1077.29 282.24 1077.72 281.71 1078.15 282.57 1078.58 282.8 1079.02 283.73 1079.45 282.69 1079.88 282.96 1080.32 283.12 1080.75 283.85 1081.18 283.54 1081.61 283.88 1082.05 284.51 1082.48 284.66 1082.91 284.05 1083.35 283.99 1083.78 284.19 1084.21 284.39 1084.64 284.51 1085.08 284.29 1085.51 285.48 1085.94 284.08 1086.37 282.74 1086.81 280.76 1087.24 281.71 1087.67 282.8 1088.11 284.11 1088.54 283.95" fill="none" stroke="#000" stroke-width="3.2" stroke-linejoin="round" stroke-linecap="round"/>
<path d="M699.5 481.66 699.93 481.39 700.37 480.63 700.8 479.21 701.23 479.72 701.67 479.5 702.1 479.86 702.53 480.33 702.96 481.08 703.4 480.05 703.83 480.46 704.26 479.6 704.69 480.72 705.13 480.53 705.56 480.48 705.99 480.14 706.43 480.25 706.86 481.24 707.29 480.6 707.72 479.05 708.16 479.08 708.59 479.4 709.02 479.68 709.45 479.81 709.89 479.83 710.32 480.28 710.75 480.2 711.19 480.72 711.62 480.65 712.05 480.29 712.48 480.32 712.92 480.62 713.35 479.94 713.78 479.45 714.21 478.63 714.65 478.56 715.08 478.32 715.51 477.46 715.95 478.7 716.38 478.56 716.81 480.14 717.24 478.48 717.68 477.92 718.11 478.92 718.54 480.65 718.97 481.28 719.41 479.58 719.84 478.52 720.27 478.96 720.71 479.16 721.14 479.2 721.57 479.2 722 478.83 722.44 480.62 722.87 480.17 723.3 481.44 723.74 479.44 724.17 479.96 724.6 479.86 725.03 480.21 725.47 480.63 725.9 480.63 726.33 481.82 726.76 481.26 727.2 480.39 727.63 478.78 728.06 478.84 728.5 478.49 728.93 479.1 729.36 479.06 729.79 479.34 730.23 478.69 730.66 478.84 731.09 479.33 731.52 480.07 731.96 479.8 732.39 480.2 732.82 479.45 733.26 479.74 733.69 478.89 734.12 480.03 734.55 479.55 734.99 479.58 735.42 479.32 735.85 478.29 736.28 478.29 736.72 476.92 737.15 477.57 737.58 478.2 738.02 479.52 738.45 479.84 738.88 479.38 739.31 479.1 739.75 479.54 740.18 480.68 740.61 480.84 741.04 482.03 741.48 480.67 741.91 480.97 742.34 480.03 742.78 480.39 743.21 479.76 743.64 480.2 744.07 481.13 744.51 481.95 744.94 482.31 745.37 481.82 745.81 480.17 746.24 479.55 746.67 478.55 747.1 480.37 747.54 479.52 747.97 480.11 748.4 479.29 748.83 479.11 749.27 477.82 749.7 477.66 750.13 477.92 750.57 479.6 751 479.35 751.43 479.57 751.86 478.44 752.3 478.82 752.73 477.58 753.16 479.31 753.59 479.46 754.03 479.98 754.46 478.96 754.89 479.26 755.33 479.96 755.76 480.58 756.19 480.01 756.62 478.33 757.06 476.76 757.49 477.51 757.92 479.55 758.35 480.49 758.79 479.18 759.22 479.14 759.65 479.3 760.09 479.37 760.52 478.31 760.95 478.1 761.38 479.31 761.82 480.79 762.25 480.97 762.68 481.63 763.11 480.2 763.55 480.13 763.98 478.44 764.41 477.73 764.85 476.6 765.28 477.59 765.71 478.19 766.14 478.18 766.58 477.91 767.01 479.01 767.44 479.78 767.87 480.29 768.31 478.77 768.74 480.17 769.17 479.84 769.61 480.9 770.04 479.53 770.47 478.73 770.9 478.38 771.34 478.35 771.77 477.73 772.2 479.2 772.64 479.05 773.07 480.17 773.5 478.75 773.93 478.6 774.37 478.7 774.8 479.16 775.23 478.79 775.66 477.99 776.1 477.99 776.53 477.2 776.96 475.97 777.4 476.44 777.83 477.49 778.26 477.35 778.69 475.94 779.13 475.97 779.56 477.63 779.99 478.43 780.42 478.68 780.86 478.87 781.29 478.06 781.72 478.16 782.16 478.07 782.59 479.25 783.02 479.02 783.45 479.28 783.89 478.63 784.32 477.94 784.75 477.14 785.18 476.7 785.62 477.1 786.05 477.27 786.48 477.64 786.92 478.03 787.35 477.58 787.78 478.15 788.21 477.12 788.65 477.54 789.08 477.32 789.51 478.43 789.94 478.85 790.38 478.27 790.81 478.39 791.24 477.25 791.68 477.81 792.11 478.75 792.54 479.89 792.97 480.63 793.41 479.23 793.84 478.1 794.27 476.45 794.71 477.23 795.14 478.33 795.57 477.62 796 476.57 796.44 476.08 796.87 476.51 797.3 475.17 797.73 474.36 798.17 474.9 798.6 476.18 799.03 476.58 799.47 477.02 799.9 477.88 800.33 478.21 800.76 478.39 801.2 477.76 801.63 477.71 802.06 475.66 802.49 476.13 802.93 476.25 803.36 477.78 803.79 476.96 804.23 476.22 804.66 476.4 805.09 477.16 805.52 478.8 805.96 479.05 806.39 478.19 806.82 477.13 807.25 477.17 807.69 477.71 808.12 477.7 808.55 476.74 808.99 476.86 809.42 477.02 809.85 478.43 810.28 478.76 810.72 477.58 811.15 477.79 811.58 477.27 812.01 478.12 812.45 476.98 812.88 477.25 813.31 477.4 813.75 477.16 814.18 476.69 814.61 477.79 815.04 477.86 815.48 478.32 815.91 477.48 816.34 477.23 816.78 476.28 817.21 475.37 817.64 475.8 818.07 475.61 818.51 475.42 818.94 474.39 819.37 474.08 819.8 474.88 820.24 475.67 820.67 476 821.1 476.73 821.54 476.48 821.97 477.29 822.4 476.66 822.83 477.84 823.27 478.05 823.7 477.81 824.13 476.17 824.56 474.99 825 475.01 825.43 475.65 825.86 476.76 826.3 476.44 826.73 476.46 827.16 475.55 827.59 474.7 828.03 474.55 828.46 475.83 828.89 477.42 829.32 478.28 829.76 478.08 830.19 476.72 830.62 475.66 831.06 475.84 831.49 476.23 831.92 475.57 832.35 474.83 832.79 475.64 833.22 476.6 833.65 476.19 834.08 475.36 834.52 474.4 834.95 473.81 835.38 473.45 835.82 473.32 836.25 473.64 836.68 475.3 837.11 476.2 837.55 476.4 837.98 475.67 838.41 475.01 838.84 475.4 839.28 475.72 839.71 475.37 840.14 474.72 840.58 473.99 841.01 474.29 841.44 474.03 841.87 473.94 842.31 476.01 842.74 477.06 843.17 477.53 843.61 476.6 844.04 476.04 844.47 475.01 844.9 474.68 845.34 475.48 845.77 474.95 846.2 474.91 846.63 474.95 847.07 476.04 847.5 475.48 847.93 475.13 848.37 474.77 848.8 475.32 849.23 475.43 849.66 475.79 850.1 474.99 850.53 474.8 850.96 474.68 851.39 475.2 851.83 473.04 852.26 473.67 852.69 472.74 853.13 474.49 853.56 474.11 853.99 474.5 854.42 473.9 854.86 473.02 855.29 473.24 855.72 474.15 856.15 475.24 856.59 475.11 857.02 474.36 857.45 473.15 857.89 473.19 858.32 472.87 858.75 472.78 859.18 472.92 859.62 474.47 860.05 476.11 860.48 477.08 860.91 475.17 861.35 474.94 861.78 473.28 862.21 473.88 862.65 472.28 863.08 472.4 863.51 472.8 863.94 473.97 864.38 474.51 864.81 474.32 865.24 474.51 865.68 474.56 866.11 473.66 866.54 474.36 866.97 474.16 867.41 475.7 867.84 474.51 868.27 474.13 868.7 473.59 869.14 473.21 869.57 474.69 870 473.95 870.44 474.78 870.87 473.4 871.3 473.95 871.73 475.15 872.17 475.99 872.6 475.94 873.03 473.37 873.46 472.71 873.9 472.66 874.33 474.48 874.76 473.75 875.2 472.78 875.63 471.87 876.06 472.87 876.49 474.96 876.93 474.42 877.36 472.59 877.79 471.13 878.22 470.88 878.66 472.19 879.09 473.22 879.52 473.16 879.96 474.24 880.39 473.74 880.82 474.37 881.25 473.05 881.69 472.64 882.12 472.56 882.55 473.55 882.98 474.59 883.42 474.77 883.85 474.72 884.28 474.71 884.72 475.51 885.15 475.35 885.58 475.67 886.01 475.7 886.45 476.39 886.88 475.12 887.31 474.01 887.74 471.75 888.18 472.76 888.61 473.42 889.04 474.07 889.48 473.26 889.91 473.03 890.34 472.51 890.77 472.57 891.21 473.06 891.64 474.91 892.07 474.48 892.51 473.56 892.94 473.57 893.37 474.37 893.8 474.21 894.24 472.98 894.67 472.75 895.1 472.68 895.53 472.66 895.97 473.35 896.4 473.91 896.83 473.98 897.27 473.22 897.7 474.33 898.13 474.74 898.56 473.9 899 471.59 899.43 472.75 899.86 471.58 900.29 473.23 900.73 471.27 901.16 472.1 901.59 470.78 902.03 471.26 902.46 472.72 902.89 472.92 903.32 473.43 903.76 474.25 904.19 472.87 904.62 471.98 905.05 469.28 905.49 471.57 905.92 471.08 906.35 471.2 906.79 469.66 907.22 470.56 907.65 472.27 908.08 473.32 908.52 474.64 908.95 474.93 909.38 474.75 909.81 473.98 910.25 473.01 910.68 473.12 911.11 471.29 911.55 470.37 911.98 470.31 912.41 470.74 912.84 472 913.28 472.16 913.71 472.33 914.14 472.6 914.58 472.54 915.01 473.9 915.44 473.04 915.87 471.84 916.31 471.47 916.74 471.39 917.17 472.93 917.6 473.15 918.04 474.04 918.47 472.57 918.9 470.38 919.34 469.3 919.77 470.62 920.2 471.62 920.63 472.11 921.07 471.15 921.5 471.39 921.93 470.99 922.36 471.09 922.8 471.61 923.23 472.01 923.66 473.43 924.1 473.33 924.53 473.94 924.96 472.95 925.39 473.24 925.83 472.29 926.26 471.9 926.69 472.16 927.12 472.71 927.56 473.55 927.99 472.2 928.42 470.62 928.86 469.49 929.29 470.15 929.72 470.28 930.15 471.72 930.59 470.56 931.02 471.85 931.45 472.61 931.88 471.88 932.32 470.49 932.75 469.39 933.18 470.9 933.62 471.99 934.05 471.27 934.48 472.27 934.91 472.54 935.35 472.29 935.78 471.22 936.21 470.04 936.64 470.26 937.08 468.93 937.51 470.09 937.94 469.96 938.38 472.58 938.81 472.89 939.24 472.21 939.67 471.59 940.11 470.47 940.54 471.31 940.97 471.35 941.41 471.88 941.84 472.14 942.27 471.77 942.7 471.08 943.14 470.34 943.57 470.37 944 471.38 944.43 471.59 944.87 471.27 945.3 470.06 945.73 468.58 946.17 467.98 946.6 468.61 947.03 470.34 947.46 471.37 947.9 471.89 948.33 472.38 948.76 472.08 949.19 471.78 949.63 470.71 950.06 470.72 950.49 470.59 950.93 471.81 951.36 470.56 951.79 470.14 952.22 468.29 952.66 468.82 953.09 468.23 953.52 469.49 953.95 469.55 954.39 468.81 954.82 469.42 955.25 469.15 955.69 469.78 956.12 468.77 956.55 469.04 956.98 469.3 957.42 469.99 957.85 470.21 958.28 471.56 958.71 471.58 959.15 472.24 959.58 471.79 960.01 471.28 960.45 470.62 960.88 471.43 961.31 470.28 961.74 469.85 962.18 468.5 962.61 469.99 963.04 470.78 963.48 470.91 963.91 470.43 964.34 471.45 964.77 471.33 965.21 469.76 965.64 469.87 966.07 469.72 966.5 471.34 966.94 470.25 967.37 470.02 967.8 471.02 968.24 470.85 968.67 470.8 969.1 470.19 969.53 470.57 969.97 471.43 970.4 471.6 970.83 470.36 971.26 471.02 971.7 470.19 972.13 471.98 972.56 470.99 973 471.62 973.43 472.47 973.86 472.91 974.29 473.53 974.73 472.18 975.16 471.21 975.59 471.25 976.02 471.65 976.46 471.72 976.89 470.95 977.32 469.31 977.76 470.03 978.19 470.67 978.62 471.7 979.05 471.14 979.49 469.99 979.92 469.96 980.35 470.71 980.78 471.39 981.22 471.77 981.65 470.58 982.08 470.52 982.52 470.88 982.95 472.42 983.38 471.97 983.81 470.85 984.25 470.65 984.68 471.54 985.11 471.94 985.55 472.93 985.98 473.34 986.41 472.86 986.84 472.11 987.28 471.05 987.71 470.8 988.14 470.09 988.57 470.33 989.01 469.76 989.44 469.76 989.87 470 990.31 470.9 990.74 471.07 991.17 471.4 991.6 471.83 992.04 472.2 992.47 472.92 992.9 473.08 993.33 473.17 993.77 472.21 994.2 473.15 994.63 473.21 995.07 472.96 995.5 471.86 995.93 472.37 996.36 471.95 996.8 472.8 997.23 472.23 997.66 471.81 998.09 471.49 998.53 471.68 998.96 471.84 999.39 471.65 999.83 471.52 1000.26 472.07 1000.69 471.17 1001.12 472.39 1001.56 473.07 1001.99 474.38 1002.42 473.68 1002.85 473.71 1003.29 473.61 1003.72 472.74 1004.15 472.77 1004.59 472.17 1005.02 472.12 1005.45 472.03 1005.88 472.03 1006.32 471.26 1006.75 470.6 1007.18 471.1 1007.61 472.19 1008.05 472.98 1008.48 472.41 1008.91 471.84 1009.35 471.78 1009.78 472.1 1010.21 471.95 1010.64 471.76 1011.08 471.51 1011.51 472.87 1011.94 473.09 1012.38 473.55 1012.81 471.59 1013.24 471.34 1013.67 471.37 1014.11 473.09 1014.54 472.96 1014.97 472.25 1015.4 471.81 1015.84 470.46 1016.27 470.75 1016.7 470 1017.14 471.12 1017.57 470.9 1018 472.71 1018.43 472.98 1018.87 473.42 1019.3 472.7 1019.73 473.98 1020.16 473.41 1020.6 473.52 1021.03 472.49 1021.46 473.21 1021.9 473.14 1022.33 472.64 1022.76 473.29 1023.19 473.74 1023.63 473.84 1024.06 472.99 1024.49 472.67 1024.92 473.22 1025.36 473.85 1025.79 473.68 1026.22 472.62 1026.66 472.78 1027.09 471.82 1027.52 472.06 1027.95 471.7 1028.39 472.18 1028.82 473.63 1029.25 474.44 1029.68 475.75 1030.12 475.12 1030.55 474.27 1030.98 473.82 1031.42 473.53 1031.85 474.67 1032.28 474.06 1032.71 475.02 1033.15 474.14 1033.58 474.72 1034.01 474.58 1034.45 475.04 1034.88 475.43 1035.31 474.75 1035.74 473.56 1036.18 472.61 1036.61 473.24 1037.04 474.12 1037.47 475.06 1037.91 474.19 1038.34 474.48 1038.77 471.4 1039.21 470.22 1039.64 467.7 1040.07 466.5 1040.5 463.81 1040.94 461.37 1041.37 459.17 1041.8 457.98 1042.23 453.85 1042.67 448.72 1043.1 443.85 1043.53 438.7 1043.97 434.35 1044.4 429.22 1044.83 425.66 1045.26 420.93 1045.7 415.49 1046.13 410.71 1046.56 405.12 1046.99 400.37 1047.43 396.38 1047.86 395.27 1048.29 392.69 1048.73 389.59 1049.16 385.84 1049.59 382.85 1050.02 381.85 1050.46 378.1 1050.89 375.7 1051.32 370.83 1051.75 369.51 1052.19 365.81 1052.62 363.63 1053.05 359.13 1053.49 358.15 1053.92 357.75 1054.35 356.22 1054.78 355.53 1055.22 354.94 1055.65 355.86 1056.08 355.34 1056.51 353.54 1056.95 351.66 1057.38 350.83 1057.81 351.99 1058.25 351.7 1058.68 349.94 1059.11 347.97 1059.54 348.11 1059.98 349.46 1060.41 350.2 1060.84 351.89 1061.28 352.36 1061.71 351.78 1062.14 351.47 1062.57 349.31 1063.01 350 1063.44 350.11 1063.87 351.15 1064.3 350.21 1064.74 349.64 1065.17 351.01 1065.6 352.02 1066.04 351.6 1066.47 351.28 1066.9 352.11 1067.33 352.46 1067.77 352.2 1068.2 352.53 1068.63 353.5 1069.06 354.14 1069.5 353.37 1069.93 353.16 1070.36 352.07 1070.8 351.9 1071.23 353.03 1071.66 353.57 1072.09 353.55 1072.53 352.39 1072.96 352.1 1073.39 353.08 1073.82 354.04 1074.26 354.19 1074.69 354.6 1075.12 355.43 1075.56 355.46 1075.99 355.34 1076.42 354.29 1076.85 355.87 1077.29 356.33 1077.72 356.95 1078.15 356.4 1078.58 355.44 1079.02 356.23 1079.45 355.64 1079.88 356.68 1080.32 356.01 1080.75 356.15 1081.18 355.55 1081.61 355.93 1082.05 355.3 1082.48 355.88 1082.91 354.87 1083.35 355.97 1083.78 354.66 1084.21 355.18 1084.64 354.77 1085.08 356.19 1085.51 355.31 1085.94 356.49 1086.37 356.35 1086.81 355.96 1087.24 355.38 1087.67 355.18 1088.11 355.05 1088.54 355.12" fill="none" stroke="#000" stroke-width="3.2" stroke-linejoin="round" stroke-linecap="round"/>
<path d="M699.5 484.27 699.93 484.87 700.37 483.72 700.8 483.23 701.23 483.73 701.67 483.16 702.1 483.46 702.53 483.07 702.96 484.3 703.4 484.92 703.83 484.26 704.26 483.98 704.69 483.16 705.13 482.7 705.56 481.4 705.99 480.42 706.43 481.27 706.86 482.61 707.29 482.93 707.72 482.53 708.16 481.1 708.59 481.72 709.02 481.14 709.45 481.3 709.89 480.83 710.32 481.25 710.75 481.52 711.19 481.81 711.62 481.97 712.05 481.57 712.48 482.02 712.92 481.04 713.35 481.72 713.78 480.75 714.21 481.89 714.65 481.96 715.08 481.28 715.51 481.4 715.95 482.04 716.38 483.77 716.81 483.76 717.24 481.55 717.68 480.94 718.11 480.12 718.54 482.12 718.97 482.01 719.41 482.15 719.84 480.34 720.27 480.99 720.71 481.02 721.14 481.96 721.57 482.15 722 482.53 722.44 482.87 722.87 483.68 723.3 483.27 723.74 482.74 724.17 481.51 724.6 482.73 725.03 482.11 725.47 481.64 725.9 480.12 726.33 480.14 726.76 480.63 727.2 480.74 727.63 481.77 728.06 481.46 728.5 482.02 728.93 481.84 729.36 481.07 729.79 480.92 730.23 481 730.66 481.87 731.09 481.71 731.52 482.16 731.96 482.29 732.39 482.52 732.82 482.29 733.26 482.03 733.69 482.37 734.12 480.7 734.55 479.76 734.99 479.06 735.42 480.36 735.85 479.79 736.28 479.85 736.72 479.85 737.15 481.04 737.58 481.03 738.02 480.06 738.45 480.24 738.88 479.08 739.31 480.52 739.75 480.05 740.18 482.01 740.61 480.27 741.04 480.9 741.48 480.28 741.91 480.83 742.34 479.8 742.78 480.45 743.21 481.25 743.64 482.92 744.07 482.11 744.51 481.93 744.94 481.24 745.37 481.75 745.81 481.91 746.24 482.15 746.67 481.35 747.1 480.12 747.54 480.85 747.97 481.25 748.4 482.46 748.83 480.9 749.27 481.41 749.7 481.22 750.13 482.18 750.57 481.11 751 480.93 751.43 480.35 751.86 480.54 752.3 480.74 752.73 481.61 753.16 481.45 753.59 481.09 754.03 480.17 754.46 479.91 754.89 479.29 755.33 479.87 755.76 480.98 756.19 480.75 756.62 479.13 757.06 479.08 757.49 480.81 757.92 482.1 758.35 481.93 758.79 482.17 759.22 481.72 759.65 482.2 760.09 481.95 760.52 481.35 760.95 480.94 761.38 480.19 761.82 480.34 762.25 479.36 762.68 479.5 763.11 479.84 763.55 480.86 763.98 479.5 764.41 479.08 764.85 479.23 765.28 480.32 765.71 480.25 766.14 479.21 766.58 478.01 767.01 477.56 767.44 478.19 767.87 479.38 768.31 481.05 768.74 480.52 769.17 480.34 769.61 477.76 770.04 477.83 770.47 479.24 770.9 481.36 771.34 481.33 771.77 480.76 772.2 480.86 772.64 481.14 773.07 480.09 773.5 479.61 773.93 479.91 774.37 479.6 774.8 479.81 775.23 479.53 775.66 480.89 776.1 481.02 776.53 480.25 776.96 480.38 777.4 479.89 777.83 479.82 778.26 479 778.69 478.77 779.13 479.92 779.56 478.81 779.99 478.23 780.42 477.34 780.86 479.27 781.29 480.61 781.72 480.11 782.16 477.86 782.59 476.98 783.02 476.77 783.45 478.23 783.89 478.51 784.32 479.28 784.75 478.59 785.18 479.42 785.62 478.79 786.05 478.19 786.48 477.91 786.92 479.35 787.35 479.95 787.78 479.6 788.21 480.22 788.65 479.9 789.08 479.35 789.51 478.12 789.94 477.25 790.38 477.23 790.81 477.38 791.24 478.64 791.68 479.37 792.11 479.34 792.54 479.13 792.97 478.79 793.41 478.56 793.84 477.72 794.27 476.78 794.71 475.95 795.14 476.65 795.57 476.86 796 476.42 796.44 476.74 796.87 475.83 797.3 477.35 797.73 477.47 798.17 479.51 798.6 479.09 799.03 478.57 799.47 476.73 799.9 476.9 800.33 477.2 800.76 478.33 801.2 478.35 801.63 479.09 802.06 478.79 802.49 479.4 802.93 478.54 803.36 478.53 803.79 477.82 804.23 478.51 804.66 479.38 805.09 477.73 805.52 477.91 805.96 476 806.39 476.79 806.82 476.13 807.25 477.84 807.69 477.53 808.12 476.16 808.55 475.99 808.99 476.82 809.42 477.22 809.85 476.38 810.28 474.89 810.72 475.89 811.15 475.73 811.58 477.78 812.01 476.05 812.45 476.83 812.88 477.42 813.31 478.81 813.75 478.4 814.18 475.74 814.61 475.85 815.04 475.74 815.48 476.55 815.91 475.29 816.34 475.3 816.78 474.98 817.21 475.64 817.64 475.76 818.07 476.34 818.51 476.63 818.94 477 819.37 476.24 819.8 477.12 820.24 475.75 820.67 475.89 821.1 475.04 821.54 476.24 821.97 476.97 822.4 476.58 822.83 475.59 823.27 475.24 823.7 474.9 824.13 475.72 824.56 475.74 825 477.37 825.43 476.52 825.86 476.56 826.3 475.81 826.73 475.55 827.16 475.19 827.59 476.72 828.03 477.43 828.46 478.79 828.89 476.3 829.32 474.72 829.76 474.11 830.19 474.74 830.62 476.48 831.06 475.92 831.49 475.54 831.92 474.55 832.35 475.39 832.79 474.79 833.22 476.2 833.65 475.38 834.08 475.64 834.52 474.58 834.95 475.34 835.38 476.52 835.82 477.27 836.25 476.69 836.68 475.5 837.11 476.02 837.55 475.68 837.98 476.01 838.41 474.82 838.84 474.81 839.28 474.22 839.71 474.26 840.14 474 840.58 474.6 841.01 473.75 841.44 475.51 841.87 475.04 842.31 476.34 842.74 475.3 843.17 476.73 843.61 477.74 844.04 477.8 844.47 477.61 844.9 476.09 845.34 476.78 845.77 475.41 846.2 475.54 846.63 474.75 847.07 476.11 847.5 476.78 847.93 477.33 848.37 477.22 848.8 476.7 849.23 476.08 849.66 476.63 850.1 476.79 850.53 477.24 850.96 476.23 851.39 474.85 851.83 473.87 852.26 474.17 852.69 476.39 853.13 477.68 853.56 478.55 853.99 477.04 854.42 476.61 854.86 475.49 855.29 476.34 855.72 475.78 856.15 474.92 856.59 474.95 857.02 475.21 857.45 476.62 857.89 475.61 858.32 476.04 858.75 476.24 859.18 477.67 859.62 477.91 860.05 476.87 860.48 474.33 860.91 474.06 861.35 473.74 861.78 475.22 862.21 475.27 862.65 476.05 863.08 476.35 863.51 476.08 863.94 474.66 864.38 475.72 864.81 475.02 865.24 476.04 865.68 475.18 866.11 475.32 866.54 474.96 866.97 474.48 867.41 474.3 867.84 474.41 868.27 475.79 868.7 475.11 869.14 474.08 869.57 472.15 870 472.44 870.44 474.78 870.87 475.48 871.3 476.63 871.73 476.1 872.17 475.4 872.6 475.38 873.03 475.08 873.46 476.91 873.9 476.49 874.33 476.34 874.76 475.56 875.2 475.91 875.63 474.75 876.06 475.06 876.49 475.26 876.93 476.98 877.36 475.43 877.79 473.4 878.22 472.66 878.66 473.88 879.09 475.49 879.52 475.01 879.96 475.12 880.39 473.91 880.82 473.68 881.25 473.04 881.69 473.55 882.12 473.96 882.55 473 882.98 474.08 883.42 473.79 883.85 475.02 884.28 474.83 884.72 475.51 885.15 475.4 885.58 475.53 886.01 476.6 886.45 477.09 886.88 475.55 887.31 473.29 887.74 472.29 888.18 472.48 888.61 474.09 889.04 474.57 889.48 475.17 889.91 475.55 890.34 476.15 890.77 476.29 891.21 475.82 891.64 475.89 892.07 475.72 892.51 475.7 892.94 474.39 893.37 474.66 893.8 474.7 894.24 475.29 894.67 475.42 895.1 475.67 895.53 476.03 895.97 475.46 896.4 474.64 896.83 473.58 897.27 475.16 897.7 475.84 898.13 476.95 898.56 475.78 899 475.83 899.43 475.91 899.86 475.54 900.29 475.16 900.73 475.6 901.16 475.26 901.59 474.76 902.03 474.4 902.46 474.74 902.89 475.87 903.32 474.8 903.76 475.49 904.19 475.55 904.62 476.53 905.05 476.9 905.49 476.28 905.92 475.95 906.35 475.45 906.79 475.95 907.22 478.42 907.65 478.41 908.08 479.28 908.52 476.8 908.95 476.16 909.38 474.79 909.81 475.22 910.25 476.07 910.68 476.35 911.11 476.47 911.55 476.75 911.98 477.28 912.41 476.18 912.84 475.84 913.28 474.66 913.71 475.6 914.14 475.56 914.58 476.3 915.01 475.86 915.44 475.4 915.87 475.16 916.31 475.9 916.74 476.95 917.17 476.06 917.6 475.83 918.04 475.56 918.47 475.72 918.9 474.88 919.34 474.4 919.77 475.63 920.2 474.85 920.63 474.98 921.07 474.42 921.5 476.07 921.93 477.26 922.36 478.5 922.8 478.17 923.23 477.06 923.66 476.39 924.1 477.44 924.53 478.65 924.96 478.75 925.39 478.97 925.83 477.51 926.26 476.6 926.69 473.9 927.12 473.95 927.56 475.1 927.99 477.51 928.42 480.31 928.86 480.35 929.29 479.95 929.72 477.16 930.15 476.43 930.59 475.98 931.02 476.5 931.45 476.5 931.88 475.99 932.32 476.85 932.75 477.6 933.18 479.45 933.62 477.78 934.05 476.69 934.48 475.36 934.91 477.2 935.35 477.96 935.78 478.63 936.21 477.85 936.64 478.12 937.08 477.67 937.51 478.01 937.94 477.39 938.38 477.6 938.81 477.58 939.24 478.23 939.67 478.71 940.11 478.04 940.54 478.18 940.97 477.74 941.41 478.55 941.84 479.37 942.27 479.02 942.7 479.48 943.14 478.13 943.57 478.48 944 478.9 944.43 479.98 944.87 480.61 945.3 480.12 945.73 480.31 946.17 479.55 946.6 479.21 947.03 478.25 947.46 479.03 947.9 478.72 948.33 479.49 948.76 479.27 949.19 479.09 949.63 478.56 950.06 478.82 950.49 479.87 950.93 479.77 951.36 479.24 951.79 478.69 952.22 479.27 952.66 479.12 953.09 477.35 953.52 477.04 953.95 477.15 954.39 478.47 954.82 479.9 955.25 480.02 955.69 480.69 956.12 478.15 956.55 478.37 956.98 478.4 957.42 479.4 957.85 479.11 958.28 478.96 958.71 478.83 959.15 479.78 959.58 479.55 960.01 479 960.45 476.86 960.88 476.24 961.31 476.55 961.74 477.03 962.18 476.81 962.61 475.9 963.04 475.95 963.48 476.66 963.91 477.53 964.34 478.09 964.77 477.81 965.21 477.82 965.64 478.42 966.07 479.94 966.5 480.48 966.94 481.25 967.37 479.85 967.8 479.39 968.24 479.15 968.67 478.74 969.1 478.16 969.53 477.01 969.97 476.37 970.4 475.71 970.83 476.52 971.26 476.9 971.7 477.8 972.13 476.74 972.56 476.79 973 477.51 973.43 478.14 973.86 479.24 974.29 479.25 974.73 478.91 975.16 479.29 975.59 479.46 976.02 479.01 976.46 478.11 976.89 477.18 977.32 478.73 977.76 479.17 978.19 479.75 978.62 478.5 979.05 478.36 979.49 477.39 979.92 477.43 980.35 477.02 980.78 477.57 981.22 477.04 981.65 477.32 982.08 476.57 982.52 476.69 982.95 476.25 983.38 476.9 983.81 476.83 984.25 476.24 984.68 475.62 985.11 475.68 985.55 475.73 985.98 476.22 986.41 475.62 986.84 476.16 987.28 477.52 987.71 477.43 988.14 477.31 988.57 476.69 989.01 477.63 989.44 478.23 989.87 476.1 990.31 475.62 990.74 476.02 991.17 476.97 991.6 477.51 992.04 475.24 992.47 476.22 992.9 477.37 993.33 478.51 993.77 478.02 994.2 476.81 994.63 478.19 995.07 477.65 995.5 476.28 995.93 476.09 996.36 475.58 996.8 476.97 997.23 474.21 997.66 474.65 998.09 474.36 998.53 475.12 998.96 475.02 999.39 475.25 999.83 475.46 1000.26 476.08 1000.69 476.81 1001.12 475.93 1001.56 475.79 1001.99 474.99 1002.42 476.04 1002.85 476.77 1003.29 477.21 1003.72 477.71 1004.15 477.01 1004.59 476.06 1005.02 474.98 1005.45 474.91 1005.88 474.61 1006.32 474.9 1006.75 475.25 1007.18 475.38 1007.61 476.33 1008.05 474.92 1008.48 474.74 1008.91 474.09 1009.35 475.59 1009.78 475.76 1010.21 476.23 1010.64 474.88 1011.08 474.99 1011.51 474.98 1011.94 474.83 1012.38 474.35 1012.81 474.26 1013.24 474.16 1013.67 474.86 1014.11 474.73 1014.54 475.44 1014.97 475.78 1015.4 475.92 1015.84 476.15 1016.27 474.74 1016.7 473.55 1017.14 473.66 1017.57 473.66 1018 474.7 1018.43 474.34 1018.87 474.85 1019.3 474.69 1019.73 473.44 1020.16 473.9 1020.6 474.9 1021.03 475.66 1021.46 476.13 1021.9 475.61 1022.33 478.41 1022.76 477.55 1023.19 476.89 1023.63 474.51 1024.06 474.58 1024.49 474.07 1024.92 474.66 1025.36 474.74 1025.79 476.34 1026.22 476.59 1026.66 476.57 1027.09 475.89 1027.52 476.57 1027.95 477.06 1028.39 477.48 1028.82 477.2 1029.25 477.2 1029.68 477.4 1030.12 477.93 1030.55 478.97 1030.98 477.63 1031.42 477.64 1031.85 476.84 1032.28 477.63 1032.71 476.3 1033.15 477.28 1033.58 477.92 1034.01 478.29 1034.45 477.05 1034.88 477.31 1035.31 478.19 1035.74 477.95 1036.18 475.24 1036.61 472.67 1037.04 472.11 1037.47 470.96 1037.91 469.54 1038.34 467.02 1038.77 466.49 1039.21 464.89 1039.64 461.79 1040.07 454.38 1040.5 446.99 1040.94 439.54 1041.37 431.77 1041.8 424.33 1042.23 417.94 1042.67 410.39 1043.1 403.04 1043.53 396.92 1043.97 392.37 1044.4 389.6 1044.83 386.92 1045.26 383.63 1045.7 378.75 1046.13 372.61 1046.56 368.55 1046.99 365.58 1047.43 362.6 1047.86 361.39 1048.29 361.46 1048.73 359.99 1049.16 358.92 1049.59 357.2 1050.02 358.19 1050.46 356.92 1050.89 356.88 1051.32 356.14 1051.75 358.22 1052.19 359.74 1052.62 360.05 1053.05 358.9 1053.49 358.14 1053.92 359.35 1054.35 360.64 1054.78 361.86 1055.22 361.47 1055.65 361.6 1056.08 361.29 1056.51 362.48 1056.95 362.68 1057.38 363.13 1057.81 363.34 1058.25 365.21 1058.68 365.66 1059.11 365.19 1059.54 365.22 1059.98 366.08 1060.41 367.35 1060.84 366.86 1061.28 366.83 1061.71 368.88 1062.14 369.62 1062.57 371.16 1063.01 371.03 1063.44 371.39 1063.87 371.2 1064.3 370.54 1064.74 369.26 1065.17 368.95 1065.6 369.39 1066.04 372.36 1066.47 373.65 1066.9 375.17 1067.33 375.32 1067.77 375.99 1068.2 376.12 1068.63 376.29 1069.06 376.61 1069.5 377.48 1069.93 378.6 1070.36 378.05 1070.8 377.49 1071.23 376.35 1071.66 376.35 1072.09 376.99 1072.53 377.6 1072.96 379.57 1073.39 378.27 1073.82 378.32 1074.26 377.92 1074.69 380.5 1075.12 381.37 1075.56 382.78 1075.99 382.88 1076.42 382.99 1076.85 382.1 1077.29 382.26 1077.72 382.48 1078.15 383.54 1078.58 383.39 1079.02 384.66 1079.45 384.89 1079.88 385.12 1080.32 385.78 1080.75 384.37 1081.18 385.39 1081.61 383.83 1082.05 386.09 1082.48 385.68 1082.91 388.07 1083.35 388.57 1083.78 389.21 1084.21 388.35 1084.64 388.66 1085.08 388.35 1085.51 389.64 1085.94 389.09 1086.37 389.95 1086.81 389.41 1087.24 390.99 1087.67 390.54 1088.11 390.91 1088.54 390.38" fill="none" stroke="#000" stroke-width="3.2" stroke-linejoin="round" stroke-linecap="round"/>
<path d="M699.5 476.42 699.93 477.72 700.37 479.05 700.8 479.86 701.23 479.78 701.67 478.92 702.1 477.92 702.53 477.25 702.96 476.97 703.4 477.07 703.83 478.11 704.26 479.68 704.69 480.18 705.13 480.15 705.56 479.17 705.99 479.02 706.43 479.22 706.86 479.53 707.29 479.43 707.72 478.54 708.16 478.25 708.59 477.87 709.02 478.1 709.45 478.35 709.89 478.66 710.32 477.28 710.75 477.07 711.19 476.34 711.62 476.68 712.05 475.26 712.48 476.58 712.92 476.17 713.35 477.08 713.78 476.72 714.21 478.21 714.65 477.9 715.08 477.71 715.51 477.68 715.95 477.24 716.38 477.76 716.81 478.34 717.24 478.67 717.68 477.74 718.11 476.35 718.54 477.58 718.97 477.34 719.41 477.76 719.84 475.9 720.27 477.44 720.71 477.63 721.14 478.98 721.57 479.21 722 479.83 722.44 478.92 722.87 478.19 723.3 478.21 723.74 478.39 724.17 477.44 724.6 476.32 725.03 477.42 725.47 478.12 725.9 478.1 726.33 478.02 726.76 478.49 727.2 478.63 727.63 477.18 728.06 477.46 728.5 479.72 728.93 481.71 729.36 481.63 729.79 480.02 730.23 478.67 730.66 478.11 731.09 478.49 731.52 478.8 731.96 479.35 732.39 478.93 732.82 479.46 733.26 477.07 733.69 476.52 734.12 476.65 734.55 479.08 734.99 479.92 735.42 480.46 735.85 480.29 736.28 480.5 736.72 478.85 737.15 478.66 737.58 478.7 738.02 480.17 738.45 480.67 738.88 480.21 739.31 479.48 739.75 477.97 740.18 478.35 740.61 477.52 741.04 478.1 741.48 477.7 741.91 479.73 742.34 480.76 742.78 480.28 743.21 478.05 743.64 477.07 744.07 477.07 744.51 478.26 744.94 478.65 745.37 479.6 745.81 478.7 746.24 478.24 746.67 477.97 747.1 478.83 747.54 478.7 747.97 478.35 748.4 478.69 748.83 477.93 749.27 477.99 749.7 477.44 750.13 477.61 750.57 477.11 751 477.19 751.43 477.82 751.86 479.2 752.3 479.58 752.73 481.43 753.16 479.93 753.59 480.77 754.03 478.84 754.46 480.2 754.89 479.6 755.33 480.19 755.76 479.48 756.19 478.44 756.62 477.16 757.06 477.11 757.49 476.94 757.92 478.51 758.35 478.28 758.79 478.77 759.22 478.69 759.65 479.23 760.09 479.39 760.52 478.94 760.95 478.58 761.38 478.85 761.82 479.43 762.25 479.17 762.68 479.93 763.11 479.82 763.55 479.26 763.98 479.9 764.41 479.92 764.85 480.46 765.28 479.73 765.71 477.54 766.14 479.66 766.58 477.61 767.01 478.26 767.44 475.93 767.87 476.99 768.31 477.75 768.74 478.91 769.17 478.21 769.61 479.15 770.04 478.71 770.47 478.56 770.9 478.53 771.34 478.56 771.77 479.08 772.2 479.2 772.64 478.16 773.07 478.02 773.5 478.11 773.93 478.87 774.37 479.58 774.8 478.99 775.23 478.88 775.66 478.8 776.1 477.71 776.53 478.19 776.96 477.05 777.4 477.69 777.83 476.63 778.26 477.61 778.69 477.88 779.13 479.17 779.56 478.41 779.99 477.43 780.42 475.25 780.86 474.75 781.29 475.18 781.72 476.68 782.16 477.24 782.59 477.4 783.02 476.27 783.45 475.87 783.89 476.38 784.32 477.76 784.75 477.46 785.18 476.68 785.62 476.35 786.05 476.44 786.48 476.87 786.92 476.87 787.35 477.92 787.78 478.93 788.21 478.15 788.65 478.61 789.08 477.67 789.51 478.7 789.94 477.39 790.38 477.04 790.81 476.51 791.24 478.06 791.68 478.05 792.11 479 792.54 477.66 792.97 477.34 793.41 476.35 793.84 475.18 794.27 475.04 794.71 474.61 795.14 475.83 795.57 476.28 796 476.01 796.44 475.35 796.87 476.05 797.3 475.96 797.73 476.32 798.17 474.8 798.6 475.16 799.03 476.29 799.47 477.66 799.9 476.74 800.33 475.73 800.76 475.86 801.2 476.8 801.63 477.18 802.06 477.43 802.49 479.14 802.93 479.92 803.36 478.5 803.79 477 804.23 476.08 804.66 476.04 805.09 475.59 805.52 476.78 805.96 477.13 806.39 478.05 806.82 477.45 807.25 477.58 807.69 477.09 808.12 476.42 808.55 476.99 808.99 477.2 809.42 475.67 809.85 475.38 810.28 476.14 810.72 477.26 811.15 476.14 811.58 474.7 812.01 475.59 812.45 475.29 812.88 476.09 813.31 476.07 813.75 477.1 814.18 476.62 814.61 475.38 815.04 474.54 815.48 474.45 815.91 474.28 816.34 474.61 816.78 473.98 817.21 475.48 817.64 476.54 818.07 476.6 818.51 476.56 818.94 475.69 819.37 476.24 819.8 475.62 820.24 475.69 820.67 474.68 821.1 475.99 821.54 475.08 821.97 474.46 822.4 472.75 822.83 473.32 823.27 474.33 823.7 473.12 824.13 473.87 824.56 474.27 825 475.58 825.43 474.41 825.86 474.34 826.3 473.77 826.73 474.39 827.16 474.45 827.59 475.3 828.03 475.44 828.46 475.55 828.89 475.18 829.32 475.5 829.76 474.35 830.19 474.33 830.62 474.45 831.06 474.74 831.49 475.12 831.92 473.86 832.35 474.57 832.79 473.9 833.22 474.1 833.65 474.45 834.08 474.57 834.52 473.32 834.95 474.4 835.38 474.36 835.82 475.39 836.25 474.6 836.68 475.52 837.11 474.37 837.55 473.9 837.98 471.61 838.41 472.66 838.84 472.35 839.28 473.38 839.71 473.3 840.14 472.55 840.58 472.56 841.01 472.87 841.44 473.51 841.87 472.88 842.31 472.42 842.74 473.18 843.17 474.47 843.61 474.77 844.04 474.5 844.47 474.31 844.9 475.14 845.34 474.88 845.77 474.34 846.2 473.03 846.63 472.84 847.07 471.73 847.5 472.42 847.93 470.3 848.37 470.99 848.8 470.59 849.23 473 849.66 475.5 850.1 475.91 850.53 475.45 850.96 472.3 851.39 473.09 851.83 471.94 852.26 473.35 852.69 471.94 853.13 474.85 853.56 474.57 853.99 475.26 854.42 473.12 854.86 473.13 855.29 473.64 855.72 473.44 856.15 473.03 856.59 471.86 857.02 471.8 857.45 471.52 857.89 471.9 858.32 473.44 858.75 475.06 859.18 474.14 859.62 472.76 860.05 471.76 860.48 472.92 860.91 473.34 861.35 473.37 861.78 473.29 862.21 473.75 862.65 472.33 863.08 471.93 863.51 471.85 863.94 474.12 864.38 474.72 864.81 473.83 865.24 472.46 865.68 472.11 866.11 472.53 866.54 473.21 866.97 473.77 867.41 472.93 867.84 472.47 868.27 470.09 868.7 471.42 869.14 471.74 869.57 472.77 870 472.41 870.44 473.22 870.87 474.4 871.3 474.16 871.73 473 872.17 472.42 872.6 471.81 873.03 471.36 873.46 471.07 873.9 471.69 874.33 472.49 874.76 472.32 875.2 471.71 875.63 471.49 876.06 471.54 876.49 472.33 876.93 473.28 877.36 474.22 877.79 473.48 878.22 472.24 878.66 470.52 879.09 470.97 879.52 470.67 879.96 470.83 880.39 470.19 880.82 471.14 881.25 472.11 881.69 472.66 882.12 472.89 882.55 472.44 882.98 471.83 883.42 471.48 883.85 470.48 884.28 471.32 884.72 471.12 885.15 472.56 885.58 472.81 886.01 472.38 886.45 472.2 886.88 470.62 887.31 470.47 887.74 470.11 888.18 471.33 888.61 472.64 889.04 473.04 889.48 473.43 889.91 471.86 890.34 471.8 890.77 470.12 891.21 470.25 891.64 469.66 892.07 470.58 892.51 470.91 892.94 471.01 893.37 470.54 893.8 471.12 894.24 471.21 894.67 470.07 895.1 469.65 895.53 470.12 895.97 472.28 896.4 473.15 896.83 472.19 897.27 471.67 897.7 470.5 898.13 470.05 898.56 468.42 899 469.18 899.43 469.68 899.86 470.91 900.29 470.04 900.73 470.4 901.16 470.8 901.59 470 902.03 469.89 902.46 469.63 902.89 469.84 903.32 469.63 903.76 469.54 904.19 470.12 904.62 469.54 905.05 469.49 905.49 469.74 905.92 471.44 906.35 471.98 906.79 472.59 907.22 471.94 907.65 471.53 908.08 472.17 908.52 472.21 908.95 471.93 909.38 470.45 909.81 471.07 910.25 470.65 910.68 471.19 911.11 471.35 911.55 472.88 911.98 472.41 912.41 470.94 912.84 469.44 913.28 469.28 913.71 470.69 914.14 471.87 914.58 472.58 915.01 471.89 915.44 472.61 915.87 471.93 916.31 471.37 916.74 470.28 917.17 470.03 917.6 471.05 918.04 471.89 918.47 472.59 918.9 471.2 919.34 469.54 919.77 469.41 920.2 469.36 920.63 470.23 921.07 468.91 921.5 469.37 921.93 469.43 922.36 469.89 922.8 470.69 923.23 470.99 923.66 472.45 924.1 471.75 924.53 471.15 924.96 470.23 925.39 470.65 925.83 469.65 926.26 469.86 926.69 470.05 927.12 470.16 927.56 468.92 927.99 468.21 928.42 470.15 928.86 471.46 929.29 471.26 929.72 470.09 930.15 468.65 930.59 469.93 931.02 469.48 931.45 470.9 931.88 469.11 932.32 469.58 932.75 468.47 933.18 469.75 933.62 470.61 934.05 472 934.48 471.95 934.91 471.68 935.35 470.14 935.78 468.84 936.21 467.97 936.64 469.42 937.08 470.36 937.51 470.97 937.94 469.32 938.38 469.01 938.81 468.22 939.24 469.42 939.67 470.93 940.11 471.74 940.54 472.19 940.97 470.61 941.41 470.02 941.84 469.79 942.27 470.27 942.7 469.29 943.14 469.37 943.57 469.7 944 470.86 944.43 470.67 944.87 470.33 945.3 469.81 945.73 468.19 946.17 469.06 946.6 469.4 947.03 470.5 947.46 469.36 947.9 469.46 948.33 469.69 948.76 468.95 949.19 469.15 949.63 469.04 950.06 469.73 950.49 469.38 950.93 469.44 951.36 468.81 951.79 468.91 952.22 468.71 952.66 469.43 953.09 470.12 953.52 470.81 953.95 471.49 954.39 470.73 954.82 470.69 955.25 470.72 955.69 470.72 956.12 469.93 956.55 470.42 956.98 469.5 957.42 469.85 957.85 468.79 958.28 469.23 958.71 469.23 959.15 469.59 959.58 468.88 960.01 469.66 960.45 469.35 960.88 470.27 961.31 470.29 961.74 470.32 962.18 470.66 962.61 468.4 963.04 468.95 963.48 469.26 963.91 470.44 964.34 469.83 964.77 470.62 965.21 470.81 965.64 470.82 966.07 469.76 966.5 469.32 966.94 468.75 967.37 468.8 967.8 469.37 968.24 470.79 968.67 471.18 969.1 471.26 969.53 470.83 969.97 470.71 970.4 471.43 970.83 470.18 971.26 468.86 971.7 468.6 972.13 469.38 972.56 470.97 973 469.92 973.43 469.92 973.86 469.75 974.29 470.75 974.73 470.98 975.16 471.72 975.59 471.16 976.02 471.74 976.46 470.76 976.89 471.15 977.32 469.99 977.76 470.38 978.19 469.82 978.62 471.17 979.05 470.79 979.49 471.64 979.92 470.93 980.35 471.32 980.78 470.58 981.22 472.07 981.65 471.93 982.08 473.56 982.52 471.46 982.95 473 983.38 472.71 983.81 474.63 984.25 472.28 984.68 472.5 985.11 471.35 985.55 472.81 985.98 473.18 986.41 473.5 986.84 472.74 987.28 471.71 987.71 470.9 988.14 471.6 988.57 471.5 989.01 472.4 989.44 471.97 989.87 470.75 990.31 470.29 990.74 470.42 991.17 472.1 991.6 472.86 992.04 472.06 992.47 472.41 992.9 472.54 993.33 473.6 993.77 473.18 994.2 471.32 994.63 472.84 995.07 472.35 995.5 473.2 995.93 472.41 996.36 473.1 996.8 473.31 997.23 471.53 997.66 471.74 998.09 473.09 998.53 473.55 998.96 471.97 999.39 471.18 999.83 473.31 1000.26 473.38 1000.69 473.32 1001.12 471.15 1001.56 472.17 1001.99 472.31 1002.42 473.38 1002.85 472.41 1003.29 471.25 1003.72 472.38 1004.15 474 1004.59 473.8 1005.02 472.66 1005.45 472.97 1005.88 474.17 1006.32 474.03 1006.75 473.22 1007.18 473.57 1007.61 473.73 1008.05 474 1008.48 473.49 1008.91 473.85 1009.35 473.77 1009.78 474.11 1010.21 472.75 1010.64 472.34 1011.08 472.35 1011.51 472.88 1011.94 472.89 1012.38 472.12 1012.81 472.16 1013.24 471.27 1013.67 471.13 1014.11 471.51 1014.54 472.99 1014.97 473.32 1015.4 472.97 1015.84 472.78 1016.27 474.36 1016.7 475.93 1017.14 475.66 1017.57 474.21 1018 472.49 1018.43 473.59 1018.87 473.44 1019.3 474.34 1019.73 473.27 1020.16 473.7 1020.6 473.9 1021.03 474.57 1021.46 476.23 1021.9 476.32 1022.33 477.14 1022.76 475.52 1023.19 474.9 1023.63 473.13 1024.06 473.21 1024.49 473.69 1024.92 474.09 1025.36 474.6 1025.79 473.81 1026.22 473.85 1026.66 474.27 1027.09 474.69 1027.52 474.88 1027.95 474.46 1028.39 473.9 1028.82 472.83 1029.25 472.89 1029.68 473.73 1030.12 476.36 1030.55 476.23 1030.98 476.31 1031.42 476.27 1031.85 476.02 1032.28 475.37 1032.71 474.46 1033.15 474.91 1033.58 475.96 1034.01 475 1034.45 475.78 1034.88 475.37 1035.31 474.61 1035.74 473.6 1036.18 473.11 1036.61 474.52 1037.04 475.35 1037.47 475.7 1037.91 472.53 1038.34 468.61 1038.77 464.54 1039.21 460.17 1039.64 454.97 1040.07 452.42 1040.5 450.06 1040.94 448 1041.37 442.41 1041.8 435.39 1042.23 427.9 1042.67 423.21 1043.1 418.41 1043.53 412.85 1043.97 406.24 1044.4 400.06 1044.83 394.05 1045.26 387.72 1045.7 381.04 1046.13 375.84 1046.56 373.46 1046.99 372.42 1047.43 370.26 1047.86 367.68 1048.29 366.42 1048.73 365.62 1049.16 363.62 1049.59 362 1050.02 360.1 1050.46 359.85 1050.89 359.12 1051.32 358.99 1051.75 358.91 1052.19 359.22 1052.62 359.44 1053.05 357.88 1053.49 356.82 1053.92 355.54 1054.35 356.31 1054.78 356.53 1055.22 358.3 1055.65 358.49 1056.08 357.23 1056.51 356 1056.95 355.03 1057.38 355.4 1057.81 355.52 1058.25 356.03 1058.68 356.31 1059.11 355.76 1059.54 355.21 1059.98 354.86 1060.41 355.1 1060.84 355.8 1061.28 356.19 1061.71 356.8 1062.14 355.54 1062.57 356.79 1063.01 356.36 1063.44 355.5 1063.87 354.38 1064.3 355.03 1064.74 356.66 1065.17 355.63 1065.6 355.04 1066.04 354.67 1066.47 355.5 1066.9 355.68 1067.33 354.06 1067.77 354.12 1068.2 354.28 1068.63 356.72 1069.06 356.56 1069.5 355.98 1069.93 355.2 1070.36 355.4 1070.8 356.66 1071.23 356.86 1071.66 357.2 1072.09 356.49 1072.53 357.86 1072.96 358.08 1073.39 358.42 1073.82 357.51 1074.26 358.14 1074.69 357.67 1075.12 357.61 1075.56 357.44 1075.99 357.93 1076.42 358.62 1076.85 357.33 1077.29 358.63 1077.72 358.33 1078.15 360.07 1078.58 358.74 1079.02 358 1079.45 357.37 1079.88 357.04 1080.32 358.2 1080.75 356.55 1081.18 356.09 1081.61 354.83 1082.05 357.03 1082.48 358.4 1082.91 358.48 1083.35 357.78 1083.78 357.27 1084.21 357.8 1084.64 358.55 1085.08 357.91 1085.51 358.17 1085.94 357.07 1086.37 358.07 1086.81 357.79 1087.24 358.61 1087.67 357.59 1088.11 357.23 1088.54 356.21" fill="none" stroke="#000" stroke-width="3.2" stroke-linejoin="round" stroke-linecap="round"/>
<path d="M699.5 487.33 699.93 487.3 700.37 487.45 700.8 485.57 701.23 486.44 701.67 486.43 702.1 487.11 702.53 486.06 702.96 486.4 703.4 486.03 703.83 487.27 704.26 485.41 704.69 486.63 705.13 487.43 705.56 488.05 705.99 487.21 706.43 484.89 706.86 484.11 707.29 484.24 707.72 485.7 708.16 487.11 708.59 487.73 709.02 488.09 709.45 487.93 709.89 489.33 710.32 488.69 710.75 488.52 711.19 485.29 711.62 484.92 712.05 485.19 712.48 486.44 712.92 487.69 713.35 487.75 713.78 489.28 714.21 487.59 714.65 486.83 715.08 486.38 715.51 487.31 715.95 487.08 716.38 486.02 716.81 485.73 717.24 486.86 717.68 487.56 718.11 487.73 718.54 486.6 718.97 486.71 719.41 487.47 719.84 487.32 720.27 487.38 720.71 485.98 721.14 486.54 721.57 485.39 722 484.96 722.44 484.67 722.87 484.72 723.3 486.39 723.74 487.25 724.17 487.33 724.6 485.77 725.03 484.45 725.47 483.38 725.9 484.14 726.33 484.88 726.76 485.7 727.2 485.88 727.63 486.03 728.06 487.32 728.5 486.7 728.93 487.32 729.36 486.33 729.79 487.84 730.23 486.46 730.66 487.43 731.09 485.99 731.52 487.67 731.96 487.29 732.39 487.07 732.82 486.57 733.26 486.24 733.69 487.27 734.12 488.21 734.55 488.05 734.99 487.47 735.42 486.7 735.85 486.52 736.28 487.29 736.72 487.21 737.15 487.56 737.58 487.48 738.02 485.39 738.45 486.37 738.88 485.46 739.31 486.27 739.75 486.53 740.18 488.08 740.61 488.34 741.04 487.39 741.48 486.04 741.91 485.67 742.34 485.59 742.78 486.49 743.21 488.92 743.64 488.55 744.07 488.46 744.51 486.53 744.94 486.5 745.37 486.78 745.81 485.88 746.24 485.33 746.67 483.92 747.1 485.74 747.54 486.67 747.97 487.54 748.4 487.05 748.83 487.49 749.27 486.86 749.7 486.44 750.13 485.5 750.57 486.08 751 485.4 751.43 485.5 751.86 486.9 752.3 488.11 752.73 488.25 753.16 485.91 753.59 485.68 754.03 485.8 754.46 486.81 754.89 486.2 755.33 486.31 755.76 486.26 756.19 487.14 756.62 486.5 757.06 486.44 757.49 487.02 757.92 486.97 758.35 487.07 758.79 485.78 759.22 485.93 759.65 484.71 760.09 484.27 760.52 484.83 760.95 485.64 761.38 487.06 761.82 485.59 762.25 485.15 762.68 483.41 763.11 484.61 763.55 486.13 763.98 485.99 764.41 485.68 764.85 484.25 765.28 485.13 765.71 484.73 766.14 484.43 766.58 485.41 767.01 485.08 767.44 485.7 767.87 484.94 768.31 484.48 768.74 483.52 769.17 483.38 769.61 485.59 770.04 486.02 770.47 485.41 770.9 484.24 771.34 485.08 771.77 485.86 772.2 486.55 772.64 485.58 773.07 484.51 773.5 483.02 773.93 483.57 774.37 483.88 774.8 484.13 775.23 483.94 775.66 484.13 776.1 483.08 776.53 482.58 776.96 481.88 777.4 483.44 777.83 483.49 778.26 485.08 778.69 484.77 779.13 483.99 779.56 481.53 779.99 480.71 780.42 480.98 780.86 482.21 781.29 483.29 781.72 483.78 782.16 483.37 782.59 483.44 783.02 482.69 783.45 483.65 783.89 484.22 784.32 485.4 784.75 485.78 785.18 485.47 785.62 484.06 786.05 483.09 786.48 482.03 786.92 481.96 787.35 480.99 787.78 481.39 788.21 481.24 788.65 481.73 789.08 481.36 789.51 481.87 789.94 482.96 790.38 483.4 790.81 483.7 791.24 482.36 791.68 482.05 792.11 482.01 792.54 481.73 792.97 480.55 793.41 479.94 793.84 479.7 794.27 480.79 794.71 481.42 795.14 481.8 795.57 481.47 796 481.34 796.44 480.24 796.87 479.91 797.3 479.94 797.73 480.42 798.17 478.87 798.6 477.95 799.03 477.22 799.47 478.39 799.9 478.49 800.33 479.44 800.76 479 801.2 477.27 801.63 477.3 802.06 474.76 802.49 474.86 802.93 472.58 803.36 471.39 803.79 468.66 804.23 466.63 804.66 466.5 805.09 464.97 805.52 464.1 805.96 459.74 806.39 458.4 806.82 455.94 807.25 456.59 807.69 454.21 808.12 452.28 808.55 448.07 808.99 445.07 809.42 441.03 809.85 439.22 810.28 436.5 810.72 433.18 811.15 430.5 811.58 428.45 812.01 426.14 812.45 423.38 812.88 419.66 813.31 416.47 813.75 413.65 814.18 411.29 814.61 410.77 815.04 407.78 815.48 405.97 815.91 404.31 816.34 403.86 816.78 403.69 817.21 401.74 817.64 399.35 818.07 398.21 818.51 396.23 818.94 396.26 819.37 394.36 819.8 394.54 820.24 391.29 820.67 389.85 821.1 387.71 821.54 388.6 821.97 387.1 822.4 387.72 822.83 386.42 823.27 384.84 823.7 382.9 824.13 382.04 824.56 382.15 825 381.56 825.43 380.7 825.86 379.66 826.3 378.24 826.73 377.83 827.16 378.47 827.59 378.2 828.03 378.21 828.46 376.88 828.89 376.43 829.32 376.43 829.76 378.7 830.19 378.51 830.62 377.69 831.06 376.53 831.49 378.05 831.92 379.06 832.35 377.71 832.79 377.02 833.22 376.55 833.65 376.95 834.08 375.47 834.52 375.16 834.95 375.32 835.38 376.4 835.82 375.32 836.25 374.55 836.68 374.22 837.11 376.09 837.55 377.23 837.98 376.76 838.41 376.3 838.84 375.2 839.28 375.3 839.71 374.62 840.14 374.73 840.58 374.61 841.01 375.3 841.44 375.87 841.87 374.68 842.31 374.86 842.74 374.91 843.17 375.68 843.61 374.98 844.04 375.16 844.47 376.62 844.9 376.15 845.34 374.95 845.77 373.2 846.2 373.46 846.63 373.41 847.07 374.91 847.5 374.8 847.93 375.84 848.37 375.03 848.8 374.57 849.23 373.37 849.66 374.01 850.1 373.59 850.53 374.47 850.96 374.39 851.39 375.2 851.83 375.73 852.26 374.99 852.69 374.6 853.13 373.71 853.56 373.28 853.99 373.56 854.42 373.34 854.86 374.49 855.29 374.17 855.72 374.61 856.15 373.89 856.59 373.88 857.02 373.13 857.45 373.79 857.89 374.62 858.32 374.84 858.75 373.4 859.18 372.09 859.62 371.25 860.05 370.63 860.48 370.45 860.91 370.93 861.35 372.3 861.78 373.12 862.21 373.3 862.65 372.39 863.08 371.56 863.51 371.16 863.94 371.33 864.38 370.98 864.81 370.76 865.24 370.38 865.68 370.48 866.11 370.86 866.54 371.61 866.97 371.4 867.41 370.69 867.84 370.09 868.27 370.56 868.7 369.29 869.14 369.54 869.57 369.32 870 370.49 870.44 370.64 870.87 370.34 871.3 369.28 871.73 367.86 872.17 367.44 872.6 368.11 873.03 368.53 873.46 368.23 873.9 368.61 874.33 368.85 874.76 369.29 875.2 368.53 875.63 367.96 876.06 367.5 876.49 369.25 876.93 368.61 877.36 367.47 877.79 365.25 878.22 366.11 878.66 368.03 879.09 368.6 879.52 368.92 879.96 367.84 880.39 368.25 880.82 366.92 881.25 366.43 881.69 367.28 882.12 367.61 882.55 368.81 882.98 368.32 883.42 368.8 883.85 368.4 884.28 366.77 884.72 367.24 885.15 366.34 885.58 365.63 886.01 364.2 886.45 364.42 886.88 365.6 887.31 366.63 887.74 366.54 888.18 366.19 888.61 364.89 889.04 363.52 889.48 363.2 889.91 363.3 890.34 363.84 890.77 365.05 891.21 365.95 891.64 367.07 892.07 366.54 892.51 365.29 892.94 365.16 893.37 363.55 893.8 362.93 894.24 362.15 894.67 363.4 895.1 363.87 895.53 363.75 895.97 364.08 896.4 364.16 896.83 364.13 897.27 363.22 897.7 362.36 898.13 361.94 898.56 362.5 899 363.34 899.43 364.56 899.86 363.6 900.29 364.16 900.73 362.98 901.16 363.03 901.59 361.8 902.03 362.4 902.46 363.49 902.89 362.92 903.32 362.86 903.76 361 904.19 361.77 904.62 361.17 905.05 360.81 905.49 360.8 905.92 360.27 906.35 362.29 906.79 361.88 907.22 362.84 907.65 361.92 908.08 362.39 908.52 361.95 908.95 360.75 909.38 361.85 909.81 361.97 910.25 363.4 910.68 361.42 911.11 361.64 911.55 360.83 911.98 361.75 912.41 360.99 912.84 360.56 913.28 360.49 913.71 360.81 914.14 362.27 914.58 361.76 915.01 361.18 915.44 360.56 915.87 359.97 916.31 361.75 916.74 362.5 917.17 364.01 917.6 362.93 918.04 361.68 918.47 360.78 918.9 360.45 919.34 359.93 919.77 360.11 920.2 360.79 920.63 361.96 921.07 360.26 921.5 360.87 921.93 360.13 922.36 360.47 922.8 358.61 923.23 358.95 923.66 359.8 924.1 359.49 924.53 358.14 924.96 358.65 925.39 358.65 925.83 359.19 926.26 357.86 926.69 357.4 927.12 357.71 927.56 359.26 927.99 359.82 928.42 358.42 928.86 357.01 929.29 357.05 929.72 356.6 930.15 357.62 930.59 357.13 931.02 358.94 931.45 358.19 931.88 358.64 932.32 357.26 932.75 357.82 933.18 358.15 933.62 360.05 934.05 359.09 934.48 358.97 934.91 357.64 935.35 358.56 935.78 358.43 936.21 357.98 936.64 357.35 937.08 356.67 937.51 356.92 937.94 356.97 938.38 358.29 938.81 357.94 939.24 357.54 939.67 355.87 940.11 357.7 940.54 358.79 940.97 360.7 941.41 359.92 941.84 358.15 942.27 356.38 942.7 355.81 943.14 356.43 943.57 356.36 944 356.57 944.43 356.45 944.87 356.89 945.3 358.13 945.73 358.67 946.17 357.95 946.6 356.87 947.03 356.76 947.46 358.05 947.9 358.15 948.33 357.4 948.76 357.24 949.19 357.62 949.63 360.34 950.06 360.58 950.49 361.23 950.93 360.46 951.36 359.65 951.79 358.01 952.22 358.11 952.66 358.13 953.09 358.33 953.52 357.66 953.95 357.78 954.39 359.15 954.82 359.46 955.25 360.88 955.69 360.6 956.12 359.34 956.55 359.32 956.98 359.39 957.42 360.59 957.85 359.68 958.28 359.21 958.71 358.12 959.15 358.74 959.58 359.38 960.01 360.29 960.45 359.87 960.88 359.69 961.31 359.25 961.74 358.18 962.18 358.01 962.61 358.2 963.04 358.55 963.48 358.64 963.91 359.25 964.34 360.84 964.77 360.23 965.21 359.42 965.64 358.88 966.07 359.15 966.5 358.72 966.94 358.13 967.37 359.09 967.8 359.96 968.24 360.57 968.67 359.36 969.1 359.62 969.53 360.22 969.97 361.1 970.4 362.21 970.83 361.94 971.26 362.16 971.7 360.87 972.13 361.63 972.56 361.66 973 362.7 973.43 362.86 973.86 362.27 974.29 362.07 974.73 361.25 975.16 362.53 975.59 362.3 976.02 363.78 976.46 363.5 976.89 364.01 977.32 362.7 977.76 362.42 978.19 362.34 978.62 362.31 979.05 362.43 979.49 362.11 979.92 362.28 980.35 362.57 980.78 363.22 981.22 363.63 981.65 363.98 982.08 363.68 982.52 363.31 982.95 362.64 983.38 363.25 983.81 364.89 984.25 365.59 984.68 365.55 985.11 364.18 985.55 364.51 985.98 364.69 986.41 365.05 986.84 365.26 987.28 365.39 987.71 364.95 988.14 363.87 988.57 363.54 989.01 364.62 989.44 366.34 989.87 366.55 990.31 366.85 990.74 366.27 991.17 367.11 991.6 367.32 992.04 367.75 992.47 367.39 992.9 366.65 993.33 366.47 993.77 367.88 994.2 369.56 994.63 370.95 995.07 370.57 995.5 369.78 995.93 368.7 996.36 368.74 996.8 369.09 997.23 369.99 997.66 370.67 998.09 371.89 998.53 372.12 998.96 370.5 999.39 370.63 999.83 369.47 1000.26 369.7 1000.69 369.14 1001.12 370.12 1001.56 371.51 1001.99 371.58 1002.42 371.3 1002.85 371.08 1003.29 370.6 1003.72 370.44 1004.15 370.39 1004.59 370.98 1005.02 371.93 1005.45 372.1 1005.88 373.18 1006.32 373.05 1006.75 373.31 1007.18 373.31 1007.61 372.38 1008.05 373.29 1008.48 373.46 1008.91 374.81 1009.35 375.58 1009.78 375.7 1010.21 377 1010.64 376.56 1011.08 376.31 1011.51 375.32 1011.94 374.22 1012.38 373.89 1012.81 373.62 1013.24 374.21 1013.67 375.28 1014.11 375.59 1014.54 376.54 1014.97 376.9 1015.4 376.9 1015.84 376.37 1016.27 376.11 1016.7 376.87 1017.14 377.08 1017.57 378.34 1018 379.14 1018.43 380.71 1018.87 380.04 1019.3 380.67 1019.73 379.34 1020.16 379.36 1020.6 379.71 1021.03 380.85 1021.46 382.21 1021.9 381.94 1022.33 381.85 1022.76 381.19 1023.19 382.69 1023.63 383.52 1024.06 383.63 1024.49 382.49 1024.92 381.82 1025.36 383.21 1025.79 383.35 1026.22 384.75 1026.66 384.09 1027.09 384.43 1027.52 383.85 1027.95 384.72 1028.39 385.24 1028.82 386.8 1029.25 387.7 1029.68 387.85 1030.12 387.53 1030.55 388.05 1030.98 389.31 1031.42 389.65 1031.85 388.03 1032.28 387.22 1032.71 387.11 1033.15 389.6 1033.58 390.7 1034.01 391.29 1034.45 390.29 1034.88 390.35 1035.31 391.18 1035.74 390.7 1036.18 390.42 1036.61 390.71 1037.04 392.68 1037.47 391.93 1037.91 391.84 1038.34 390.08 1038.77 389.79 1039.21 389.66 1039.64 389.85 1040.07 390.89 1040.5 389.59 1040.94 389.18 1041.37 387.36 1041.8 386.93 1042.23 386.75 1042.67 386.89 1043.1 387.05 1043.53 386.89 1043.97 385.81 1044.4 385.77 1044.83 385.47 1045.26 386.47 1045.7 386.24 1046.13 386.88 1046.56 385.86 1046.99 385.3 1047.43 383.93 1047.86 384.45 1048.29 384.19 1048.73 384.15 1049.16 383.43 1049.59 380.91 1050.02 379.39 1050.46 378.64 1050.89 380.72 1051.32 380.82 1051.75 381.65 1052.19 379.83 1052.62 379.58 1053.05 378.69 1053.49 379.15 1053.92 379.3 1054.35 380.21 1054.78 379.71 1055.22 380.14 1055.65 379.85 1056.08 380.32 1056.51 379.82 1056.95 378.83 1057.38 377.93 1057.81 377.25 1058.25 377.22 1058.68 377.76 1059.11 377.3 1059.54 378.52 1059.98 378.22 1060.41 379.28 1060.84 378.81 1061.28 378.96 1061.71 378.54 1062.14 377.32 1062.57 376.56 1063.01 377.7 1063.44 378.04 1063.87 377.42 1064.3 375.33 1064.74 374.3 1065.17 375.39 1065.6 376.77 1066.04 378.31 1066.47 377.85 1066.9 376.26 1067.33 375.94 1067.77 376.48 1068.2 376.84 1068.63 377.43 1069.06 377.46 1069.5 376.57 1069.93 374.06 1070.36 373.88 1070.8 373.71 1071.23 375.39 1071.66 375.8 1072.09 378.34 1072.53 377.38 1072.96 377.07 1073.39 374.15 1073.82 374.52 1074.26 374.13 1074.69 376.72 1075.12 375.95 1075.56 376.27 1075.99 375.2 1076.42 377.51 1076.85 376.67 1077.29 375.91 1077.72 374.87 1078.15 375.37 1078.58 375.71 1079.02 374.69 1079.45 374.66 1079.88 373.79 1080.32 374.52 1080.75 374.94 1081.18 376.29 1081.61 377.7 1082.05 377.8 1082.48 376.84 1082.91 375.04 1083.35 375.02 1083.78 375.4 1084.21 376.81 1084.64 376.45 1085.08 376.31 1085.51 374.56 1085.94 374.84 1086.37 374.57 1086.81 373.8 1087.24 373.55 1087.67 373.63 1088.11 375.76 1088.54 376.7" fill="none" stroke="#7f2b92" stroke-width="3.2" stroke-linejoin="round" stroke-linecap="round"/>
<path d="M699.5 486.38 699.93 485.26 700.37 485.63 700.8 485.4 701.23 488.04 701.67 488.44 702.1 489.18 702.53 488 702.96 487.39 703.4 487.41 703.83 486.27 704.26 487.15 704.69 486.94 705.13 487.88 705.56 487.98 705.99 487.31 706.43 487.04 706.86 486.41 707.29 485.53 707.72 485.87 708.16 485.48 708.59 487.29 709.02 488.39 709.45 488.95 709.89 488.53 710.32 487.73 710.75 486.82 711.19 488.12 711.62 488.53 712.05 490.17 712.48 487.77 712.92 487.39 713.35 486.53 713.78 488.07 714.21 487.12 714.65 487.03 715.08 486.17 715.51 488.02 715.95 486.99 716.38 486.86 716.81 485.2 717.24 485.13 717.68 485.49 718.11 485.93 718.54 486.24 718.97 485.83 719.41 485.86 719.84 486.27 720.27 486.84 720.71 486.21 721.14 485.62 721.57 485.28 722 484.52 722.44 486.07 722.87 486.21 723.3 486.29 723.74 485.56 724.17 486.42 724.6 486.6 725.03 485.96 725.47 485.68 725.9 486.06 726.33 487.04 726.76 487.12 727.2 487.69 727.63 487.32 728.06 487.15 728.5 487.27 728.93 487.58 729.36 486.82 729.79 486.58 730.23 485.45 730.66 485.76 731.09 486.57 731.52 487.87 731.96 487.72 732.39 485.87 732.82 484.47 733.26 484.7 733.69 485.06 734.12 486.32 734.55 485.25 734.99 486.08 735.42 484.82 735.85 485.05 736.28 484.97 736.72 485.23 737.15 486.29 737.58 486.14 738.02 485.64 738.45 482.32 738.88 481.81 739.31 482.42 739.75 485.67 740.18 485.42 740.61 486.52 741.04 486.36 741.48 486.79 741.91 486.48 742.34 484.97 742.78 484.48 743.21 484.05 743.64 485.37 744.07 486.89 744.51 487.41 744.94 486.75 745.37 485.49 745.81 484.35 746.24 484.45 746.67 485.18 747.1 485.16 747.54 486.25 747.97 485.87 748.4 485.14 748.83 483.33 749.27 483.61 749.7 484.75 750.13 484.69 750.57 483.24 751 483.96 751.43 485.1 751.86 486.07 752.3 484.31 752.73 484.56 753.16 484.28 753.59 485.23 754.03 483.16 754.46 483.27 754.89 483.15 755.33 484.86 755.76 484.44 756.19 483.9 756.62 484.36 757.06 484.88 757.49 486.15 757.92 485.92 758.35 486.87 758.79 486.84 759.22 486.78 759.65 486.56 760.09 485.35 760.52 484.39 760.95 483.9 761.38 484.94 761.82 484.91 762.25 486.04 762.68 486.54 763.11 486.58 763.55 484.85 763.98 482.97 764.41 483.56 764.85 484.77 765.28 485.7 765.71 485.19 766.14 484.85 766.58 484.96 767.01 486.2 767.44 486.44 767.87 485.43 768.31 484.24 768.74 484.22 769.17 485.43 769.61 486.07 770.04 484.96 770.47 485 770.9 484.73 771.34 486.44 771.77 486.48 772.2 486.08 772.64 484.12 773.07 484.04 773.5 484.79 773.93 484.84 774.37 484.33 774.8 484.17 775.23 484.33 775.66 483.94 776.1 482.86 776.53 482.67 776.96 483.15 777.4 483.92 777.83 484.45 778.26 484.94 778.69 485.47 779.13 484.79 779.56 484.92 779.99 483.65 780.42 484.07 780.86 483.13 781.29 483.4 781.72 483.26 782.16 482.39 782.59 482.97 783.02 483.4 783.45 484.32 783.89 482.84 784.32 482.08 784.75 482.49 785.18 483.89 785.62 484.93 786.05 484.32 786.48 483.95 786.92 482.02 787.35 483.18 787.78 482.64 788.21 483.81 788.65 483.08 789.08 483.81 789.51 484.39 789.94 483.9 790.38 483.14 790.81 483.78 791.24 482.95 791.68 483.82 792.11 481.87 792.54 482.43 792.97 481.39 793.41 481.97 793.84 481.52 794.27 482.26 794.71 483.14 795.14 483.38 795.57 482.95 796 481.06 796.44 482.75 796.87 483.32 797.3 483.96 797.73 483.47 798.17 483.45 798.6 482.71 799.03 480.95 799.47 481.3 799.9 481.69 800.33 481.77 800.76 480.66 801.2 481.26 801.63 481.81 802.06 482.8 802.49 483.31 802.93 482.93 803.36 482.23 803.79 480.66 804.23 481.28 804.66 482.84 805.09 484.17 805.52 483.72 805.96 481.89 806.39 481.57 806.82 482.21 807.25 481.44 807.69 481.85 808.12 480.74 808.55 481.56 808.99 481.58 809.42 480.81 809.85 481.91 810.28 481.37 810.72 481.68 811.15 479.99 811.58 478.65 812.01 478.67 812.45 478.41 812.88 477.19 813.31 476.95 813.75 476.44 814.18 478.19 814.61 478.21 815.04 477.37 815.48 476.01 815.91 474.68 816.34 474.59 816.78 473.55 817.21 473.68 817.64 472.5 818.07 472.14 818.51 470.64 818.94 469.37 819.37 468.68 819.8 467.69 820.24 465.68 820.67 463.83 821.1 461.6 821.54 461.76 821.97 460.66 822.4 459.97 822.83 458.27 823.27 456.35 823.7 455.86 824.13 455.34 824.56 455.75 825 456.72 825.43 456.65 825.86 455.47 826.3 451.7 826.73 450.04 827.16 448.2 827.59 446.66 828.03 445.42 828.46 444.11 828.89 442.68 829.32 440.99 829.76 441.4 830.19 440.45 830.62 439.72 831.06 438.2 831.49 437.93 831.92 437.04 832.35 434.99 832.79 433.44 833.22 431.19 833.65 430.37 834.08 430.24 834.52 429.99 834.95 428.68 835.38 427.3 835.82 424.21 836.25 423.79 836.68 422.78 837.11 422.87 837.55 421.36 837.98 420.11 838.41 420.11 838.84 419.42 839.28 417.99 839.71 416.47 840.14 416.04 840.58 415.41 841.01 414.47 841.44 412.91 841.87 414.26 842.31 414.48 842.74 414.58 843.17 411.87 843.61 410.3 844.04 408.33 844.47 406.9 844.9 406.21 845.34 405.9 845.77 404.24 846.2 402.96 846.63 401.19 847.07 399.72 847.5 397.52 847.93 397.42 848.37 396.59 848.8 395.46 849.23 392.64 849.66 390.62 850.1 388.48 850.53 386.98 850.96 385.49 851.39 383.92 851.83 382.1 852.26 380.88 852.69 379.4 853.13 378.09 853.56 377.17 853.99 376.02 854.42 375.11 854.86 374.33 855.29 372.22 855.72 370.47 856.15 368.38 856.59 368 857.02 366.54 857.45 365.21 857.89 363.79 858.32 363.02 858.75 361.14 859.18 360.33 859.62 357.86 860.05 358.38 860.48 357.32 860.91 356.05 861.35 353.62 861.78 352.08 862.21 351.34 862.65 351.24 863.08 350.09 863.51 351.06 863.94 350.01 864.38 349.8 864.81 347.37 865.24 345.84 865.68 345.3 866.11 343.94 866.54 344.2 866.97 344.29 867.41 346.16 867.84 344.13 868.27 342.2 868.7 340.42 869.14 341.2 869.57 341.17 870 339.22 870.44 338.12 870.87 335.61 871.3 335.92 871.73 336.83 872.17 337.05 872.6 336.77 873.03 335.04 873.46 334.2 873.9 333.75 874.33 332.48 874.76 333.1 875.2 333.03 875.63 333.06 876.06 333.06 876.49 331.42 876.93 330.75 877.36 329.94 877.79 329.95 878.22 329.82 878.66 329.66 879.09 329.09 879.52 329.21 879.96 328.26 880.39 329.06 880.82 328.47 881.25 328.21 881.69 327.73 882.12 327.67 882.55 327.89 882.98 326.54 883.42 326.36 883.85 325.35 884.28 324.46 884.72 323.39 885.15 324.32 885.58 324.83 886.01 324.01 886.45 322.95 886.88 322.1 887.31 322.15 887.74 321.48 888.18 322.14 888.61 322.64 889.04 322.85 889.48 322.43 889.91 321.55 890.34 320.9 890.77 320.91 891.21 320.98 891.64 320.78 892.07 321.41 892.51 321.72 892.94 322.26 893.37 321.13 893.8 320.6 894.24 320.04 894.67 320.24 895.1 319.47 895.53 318.98 895.97 319.32 896.4 319.6 896.83 320.34 897.27 318.06 897.7 318.22 898.13 317.6 898.56 318.48 899 318.17 899.43 317.81 899.86 316.73 900.29 316.31 900.73 315.6 901.16 315.72 901.59 316.34 902.03 315.64 902.46 315.78 902.89 314.4 903.32 315.88 903.76 315.65 904.19 315.85 904.62 315.49 905.05 314.41 905.49 314.17 905.92 313.83 906.35 315.01 906.79 314.65 907.22 313.63 907.65 313.23 908.08 312.89 908.52 312.53 908.95 313.54 909.38 314.47 909.81 315.86 910.25 314.87 910.68 313.49 911.11 312.33 911.55 312.9 911.98 313.85 912.41 313.46 912.84 312.98 913.28 312.7 913.71 313 914.14 313.67 914.58 312.96 915.01 312.78 915.44 311.1 915.87 312.07 916.31 312.62 916.74 313.21 917.17 312.27 917.6 311.58 918.04 310.97 918.47 309.83 918.9 308.89 919.34 309.27 919.77 310.68 920.2 310.26 920.63 309.85 921.07 308.4 921.5 308.32 921.93 308.31 922.36 309.2 922.8 310.02 923.23 310.07 923.66 310.36 924.1 310.52 924.53 309.36 924.96 309.13 925.39 309.1 925.83 310.04 926.26 310.73 926.69 309.75 927.12 311.05 927.56 310.7 927.99 311.39 928.42 310.89 928.86 310.19 929.29 309.85 929.72 309.61 930.15 309.96 930.59 311.57 931.02 310.8 931.45 310.98 931.88 310.24 932.32 309.79 932.75 309.65 933.18 309.03 933.62 309.6 934.05 310.76 934.48 311.56 934.91 311.75 935.35 312.01 935.78 311.43 936.21 311.8 936.64 310.74 937.08 312.26 937.51 312.36 937.94 312.51 938.38 312.25 938.81 312.34 939.24 313.99 939.67 313.01 940.11 313.87 940.54 314.02 940.97 315.6 941.41 315.52 941.84 313.89 942.27 313.96 942.7 313.35 943.14 314.41 943.57 312.52 944 312.45 944.43 310.7 944.87 312.92 945.3 313.03 945.73 315.07 946.17 314.23 946.6 314.41 947.03 315 947.46 316.27 947.9 317.63 948.33 317.76 948.76 317.68 949.19 317.73 949.63 317.88 950.06 317.53 950.49 316.76 950.93 316.86 951.36 317.46 951.79 317.98 952.22 317.47 952.66 317.75 953.09 317.42 953.52 316.92 953.95 316.22 954.39 317.05 954.82 316.51 955.25 316.02 955.69 316.32 956.12 317.85 956.55 318.38 956.98 318.82 957.42 318.67 957.85 319.58 958.28 319.7 958.71 320.29 959.15 321.5 959.58 321.58 960.01 322.89 960.45 320.61 960.88 319.49 961.31 317.62 961.74 319.06 962.18 319.57 962.61 319.73 963.04 319.45 963.48 319.69 963.91 321.26 964.34 321.82 964.77 322.93 965.21 323.28 965.64 324.46 966.07 324.03 966.5 322.79 966.94 323.12 967.37 322.47 967.8 322.38 968.24 321.94 968.67 323.53 969.1 324.69 969.53 324.01 969.97 324.14 970.4 324.98 970.83 325.57 971.26 326.82 971.7 326.21 972.13 325.88 972.56 324.67 973 324.59 973.43 325.33 973.86 325.38 974.29 326.11 974.73 327.27 975.16 328.2 975.59 328.66 976.02 327.65 976.46 326.79 976.89 326.79 977.32 328.39 977.76 330.21 978.19 330.92 978.62 329.88 979.05 329.52 979.49 329.76 979.92 331.45 980.35 331.42 980.78 331.52 981.22 331.38 981.65 332.2 982.08 331.63 982.52 332.02 982.95 331.33 983.38 331.93 983.81 332.12 984.25 332.95 984.68 334.14 985.11 335.02 985.55 336.07 985.98 336.89 986.41 336.36 986.84 336.5 987.28 335.88 987.71 336 988.14 338.32 988.57 338.8 989.01 340.79 989.44 339.02 989.87 340.1 990.31 339.2 990.74 338.76 991.17 339.61 991.6 339.87 992.04 341.11 992.47 341.55 992.9 341.58 993.33 341.83 993.77 341.26 994.2 342.46 994.63 340.75 995.07 341 995.5 342.01 995.93 344.97 996.36 345.27 996.8 344.69 997.23 344.46 997.66 345.22 998.09 344.95 998.53 345.52 998.96 346.04 999.39 347.29 999.83 347.7 1000.26 346.77 1000.69 346.41 1001.12 346.86 1001.56 347.86 1001.99 348.51 1002.42 347.47 1002.85 348.35 1003.29 348.66 1003.72 349.97 1004.15 350.66 1004.59 351.31 1005.02 352.14 1005.45 352.31 1005.88 352.54 1006.32 352.47 1006.75 351.92 1007.18 352.88 1007.61 353.89 1008.05 353.59 1008.48 354.64 1008.91 355.09 1009.35 356.5 1009.78 356.18 1010.21 356.37 1010.64 357.3 1011.08 357.39 1011.51 357.47 1011.94 358.19 1012.38 359.02 1012.81 360.35 1013.24 360.94 1013.67 361.55 1014.11 362.71 1014.54 362.46 1014.97 361.83 1015.4 360.5 1015.84 360.64 1016.27 362.81 1016.7 363.4 1017.14 365.14 1017.57 365.04 1018 365.33 1018.43 366.04 1018.87 365.97 1019.3 367.45 1019.73 367.36 1020.16 368.95 1020.6 369.35 1021.03 370.04 1021.46 369.3 1021.9 369.28 1022.33 370.36 1022.76 371.84 1023.19 373.31 1023.63 373.68 1024.06 374.56 1024.49 374.79 1024.92 374.66 1025.36 375.49 1025.79 376.38 1026.22 376.41 1026.66 376.62 1027.09 377.36 1027.52 377.17 1027.95 376.05 1028.39 376.99 1028.82 379.35 1029.25 380.44 1029.68 380.66 1030.12 380.45 1030.55 381.47 1030.98 380.86 1031.42 382.82 1031.85 384.44 1032.28 386.09 1032.71 384.34 1033.15 383.55 1033.58 384.36 1034.01 385.2 1034.45 385.16 1034.88 384.74 1035.31 385.78 1035.74 386.46 1036.18 386.04 1036.61 386.24 1037.04 386.69 1037.47 388 1037.91 388.85 1038.34 389.82 1038.77 388.51 1039.21 387.33 1039.64 385.78 1040.07 384.23 1040.5 382.61 1040.94 380.77 1041.37 381.25 1041.8 380.08 1042.23 379.89 1042.67 378.28 1043.1 378.05 1043.53 375.71 1043.97 373.42 1044.4 372.09 1044.83 372.35 1045.26 371.62 1045.7 370.22 1046.13 367.19 1046.56 366.89 1046.99 366.52 1047.43 366.5 1047.86 364.32 1048.29 361.85 1048.73 360.68 1049.16 358.84 1049.59 358.62 1050.02 358.92 1050.46 360.84 1050.89 359.94 1051.32 358.52 1051.75 357.04 1052.19 355.92 1052.62 355.92 1053.05 354.26 1053.49 354.28 1053.92 354.44 1054.35 355.29 1054.78 355.95 1055.22 355.86 1055.65 354.76 1056.08 352.86 1056.51 350.25 1056.95 350.19 1057.38 350.64 1057.81 352.33 1058.25 351.41 1058.68 350.75 1059.11 350.16 1059.54 350.09 1059.98 349.72 1060.41 350.28 1060.84 349.98 1061.28 349.99 1061.71 348.79 1062.14 349.27 1062.57 347.99 1063.01 346.5 1063.44 344.81 1063.87 346.4 1064.3 347.53 1064.74 347.89 1065.17 347.8 1065.6 347.71 1066.04 349.3 1066.47 347.22 1066.9 345.95 1067.33 344.38 1067.77 345.29 1068.2 346.1 1068.63 346.52 1069.06 346.13 1069.5 346.19 1069.93 345.02 1070.36 345.6 1070.8 345.57 1071.23 345.39 1071.66 345.04 1072.09 344 1072.53 344.96 1072.96 346.17 1073.39 346.04 1073.82 346.5 1074.26 344.25 1074.69 345.45 1075.12 345.65 1075.56 346.02 1075.99 344.63 1076.42 343.24 1076.85 344.08 1077.29 343.66 1077.72 344.53 1078.15 343.92 1078.58 344.86 1079.02 344.03 1079.45 343.06 1079.88 342.84 1080.32 342.11 1080.75 342.08 1081.18 342.63 1081.61 343.6 1082.05 344.16 1082.48 343.32 1082.91 342.25 1083.35 343.1 1083.78 342.14 1084.21 341.73 1084.64 340.48 1085.08 341.69 1085.51 342.03 1085.94 342.13 1086.37 340.76 1086.81 340.69 1087.24 339.75 1087.67 340.26 1088.11 339.15 1088.54 340.95" fill="none" stroke="#4461c4" stroke-width="3.2" stroke-linejoin="round" stroke-linecap="round"/>
<path d="M699.5 483.37 699.93 483.73 700.37 484.49 700.8 483.97 701.23 482.58 701.67 482.03 702.1 483.13 702.53 483.22 702.96 483.62 703.4 483.02 703.83 483.52 704.26 486.11 704.69 486.46 705.13 485.48 705.56 484.71 705.99 484.68 706.43 485.61 706.86 484.12 707.29 482.75 707.72 484.02 708.16 484.35 708.59 484.82 709.02 484.53 709.45 484.58 709.89 483.92 710.32 482.26 710.75 481.89 711.19 484.7 711.62 485.6 712.05 485.69 712.48 484.23 712.92 484.18 713.35 482.48 713.78 482.41 714.21 482.97 714.65 484.74 715.08 484.8 715.51 484.37 715.95 484.57 716.38 483.88 716.81 483.52 717.24 484.21 717.68 484.77 718.11 484.61 718.54 484.14 718.97 483.33 719.41 483.13 719.84 483.45 720.27 483.96 720.71 483.19 721.14 481.58 721.57 481.81 722 482.48 722.44 483.87 722.87 484.74 723.3 484.94 723.74 484.36 724.17 483.12 724.6 483.47 725.03 483.41 725.47 484.04 725.9 483.72 726.33 483.39 726.76 483.1 727.2 482.88 727.63 484.5 728.06 484.95 728.5 484.54 728.93 482.32 729.36 481.66 729.79 482.62 730.23 484.51 730.66 484.43 731.09 483.87 731.52 483.99 731.96 483.86 732.39 484.03 732.82 482.81 733.26 483.86 733.69 483.82 734.12 485.03 734.55 483.38 734.99 483.62 735.42 483.4 735.85 483.48 736.28 482.83 736.72 482.5 737.15 481.95 737.58 483.3 738.02 482.68 738.45 483.32 738.88 484.1 739.31 483.66 739.75 484.43 740.18 483.01 740.61 484.3 741.04 484.05 741.48 484.72 741.91 484.64 742.34 485.12 742.78 485.19 743.21 483.58 743.64 484.13 744.07 483.82 744.51 485 744.94 484.15 745.37 483.17 745.81 482.45 746.24 482.63 746.67 483.36 747.1 483.84 747.54 483.13 747.97 482.44 748.4 482.78 748.83 484.57 749.27 483.66 749.7 482.73 750.13 481.26 750.57 482.38 751 483.3 751.43 484.08 751.86 484.49 752.3 484.3 752.73 484.05 753.16 484.75 753.59 484.79 754.03 484.03 754.46 483.42 754.89 483.2 755.33 484.85 755.76 484.66 756.19 484.74 756.62 484.2 757.06 485.15 757.49 484.8 757.92 484.53 758.35 483.13 758.79 483.64 759.22 482.73 759.65 483.24 760.09 483.91 760.52 484.36 760.95 484.35 761.38 482.99 761.82 483.22 762.25 483.26 762.68 483.13 763.11 482.12 763.55 481.4 763.98 481.29 764.41 481.73 764.85 481.73 765.28 481.83 765.71 481.86 766.14 482.3 766.58 482.76 767.01 481.51 767.44 481.54 767.87 481.78 768.31 483.51 768.74 483.54 769.17 483.24 769.61 483.72 770.04 484.94 770.47 484.91 770.9 485.21 771.34 483.81 771.77 483.9 772.2 482.17 772.64 481.29 773.07 481.14 773.5 482.21 773.93 484 774.37 484.73 774.8 484.35 775.23 484.92 775.66 484.37 776.1 484.4 776.53 482.7 776.96 482.96 777.4 482.89 777.83 483.75 778.26 483.83 778.69 485.01 779.13 484.47 779.56 483.21 779.99 481.99 780.42 481.84 780.86 483.43 781.29 482.63 781.72 483.34 782.16 482.22 782.59 483.06 783.02 483.18 783.45 483.03 783.89 483.09 784.32 482.38 784.75 482.74 785.18 482.76 785.62 483.11 786.05 483.1 786.48 483.34 786.92 483.07 787.35 483.78 787.78 484.46 788.21 484.92 788.65 484.81 789.08 483.87 789.51 482.7 789.94 483.45 790.38 483.38 790.81 485.51 791.24 485.11 791.68 485.5 792.11 485.45 792.54 485.88 792.97 485.38 793.41 483.84 793.84 482.67 794.27 483.19 794.71 481.81 795.14 481.76 795.57 481.71 796 481.93 796.44 481.37 796.87 480.98 797.3 481.2 797.73 481.41 798.17 480.7 798.6 481.22 799.03 481.88 799.47 481.11 799.9 480.3 800.33 479.43 800.76 479.66 801.2 478.3 801.63 477.04 802.06 475.67 802.49 475 802.93 473.83 803.36 473.95 803.79 473.11 804.23 471.74 804.66 469.38 805.09 467.9 805.52 467.28 805.96 465.05 806.39 462.77 806.82 460.89 807.25 458 807.69 455.61 808.12 452.65 808.55 450.29 808.99 448.55 809.42 447.3 809.85 445.45 810.28 443.49 810.72 440.38 811.15 438.71 811.58 435.76 812.01 432.94 812.45 430.37 812.88 427.81 813.31 424.6 813.75 421.51 814.18 418.98 814.61 416.58 815.04 413.4 815.48 409.8 815.91 405.82 816.34 401.15 816.78 397.51 817.21 395.11 817.64 393.24 818.07 390.82 818.51 389.36 818.94 387.31 819.37 385.61 819.8 383.12 820.24 381.51 820.67 379.69 821.1 377.44 821.54 375.6 821.97 372.62 822.4 370.13 822.83 367.66 823.27 366.29 823.7 364.34 824.13 363.29 824.56 362.08 825 362.06 825.43 361.6 825.86 361.26 826.3 357.8 826.73 356.07 827.16 353.07 827.59 351.62 828.03 349.28 828.46 347.55 828.89 346.49 829.32 344.77 829.76 343.47 830.19 343.4 830.62 343.62 831.06 343.94 831.49 343.77 831.92 343.29 832.35 343.59 832.79 341.02 833.22 339.77 833.65 338.68 834.08 340.25 834.52 339.52 834.95 339.35 835.38 338.89 835.82 339.43 836.25 339.87 836.68 339.77 837.11 338.53 837.55 336.03 837.98 334.6 838.41 333.34 838.84 334.03 839.28 334.45 839.71 336.12 840.14 336.12 840.58 337.11 841.01 336.16 841.44 334.84 841.87 332.99 842.31 331.79 842.74 332.74 843.17 333.51 843.61 334.22 844.04 333.93 844.47 332 844.9 330.16 845.34 330.12 845.77 330.91 846.2 332.04 846.63 331.59 847.07 331.95 847.5 331.6 847.93 330.95 848.37 329.73 848.8 330.34 849.23 330.44 849.66 331.57 850.1 330.04 850.53 330.41 850.96 329.29 851.39 329.94 851.83 329.47 852.26 329.76 852.69 330.39 853.13 328.74 853.56 327.71 853.99 326.23 854.42 325.8 854.86 325.83 855.29 325.45 855.72 326.55 856.15 325.54 856.59 325.37 857.02 324.99 857.45 325.69 857.89 325.63 858.32 324.9 858.75 325.84 859.18 326.03 859.62 327.07 860.05 326.01 860.48 327.22 860.91 326.55 861.35 326.94 861.78 325.89 862.21 326.72 862.65 327.28 863.08 327.47 863.51 328.36 863.94 327.95 864.38 327.92 864.81 326.82 865.24 326.24 865.68 326.18 866.11 324.88 866.54 324.69 866.97 325.42 867.41 327.2 867.84 327.94 868.27 327.33 868.7 327.37 869.14 327.55 869.57 326.45 870 326.1 870.44 325.82 870.87 327.06 871.3 327.28 871.73 326.24 872.17 325.83 872.6 325.04 873.03 327.92 873.46 328.07 873.9 328.21 874.33 325.12 874.76 325.41 875.2 327.26 875.63 328.23 876.06 328.72 876.49 328.87 876.93 329.73 877.36 328.8 877.79 327.02 878.22 326.28 878.66 327.71 879.09 326.98 879.52 328.27 879.96 327.77 880.39 330.36 880.82 328.9 881.25 328.67 881.69 327.31 882.12 328.18 882.55 328.61 882.98 329.16 883.42 330.5 883.85 329.94 884.28 329.58 884.72 328.74 885.15 329.47 885.58 329.96 886.01 328.83 886.45 328.65 886.88 328.92 887.31 330.32 887.74 331.64 888.18 332.14 888.61 331.88 889.04 331.2 889.48 330.88 889.91 330.55 890.34 330.18 890.77 330.12 891.21 330.24 891.64 330.46 892.07 330.72 892.51 330.9 892.94 332.17 893.37 331.43 893.8 332.6 894.24 331.06 894.67 331.9 895.1 330.46 895.53 331.03 895.97 331.69 896.4 331.78 896.83 331.75 897.27 331.15 897.7 331.84 898.13 331.39 898.56 331.02 899 330.99 899.43 332.66 899.86 333.49 900.29 333.63 900.73 331.6 901.16 331.17 901.59 331.36 902.03 331.8 902.46 332.17 902.89 332.2 903.32 332.92 903.76 333.85 904.19 333.3 904.62 333.2 905.05 332.5 905.49 333.88 905.92 334.08 906.35 333.09 906.79 332.84 907.22 333.71 907.65 334.39 908.08 335.05 908.52 335.85 908.95 336.46 909.38 335.95 909.81 334.8 910.25 334.93 910.68 334.35 911.11 334.38 911.55 334.48 911.98 335.04 912.41 334.57 912.84 333.66 913.28 332.87 913.71 332.89 914.14 335.63 914.58 336.89 915.01 337.59 915.44 335.46 915.87 335.91 916.31 334.89 916.74 334.89 917.17 334.33 917.6 335.19 918.04 335.66 918.47 335.81 918.9 335.66 919.34 335.8 919.77 336.27 920.2 337.05 920.63 336.91 921.07 336.76 921.5 335.64 921.93 336.32 922.36 334.6 922.8 334.9 923.23 334.87 923.66 335.96 924.1 335.84 924.53 335.44 924.96 336.33 925.39 337.07 925.83 335.76 926.26 336.02 926.69 335.82 927.12 337.15 927.56 336.37 927.99 337.05 928.42 337.34 928.86 336.7 929.29 336.17 929.72 336.68 930.15 336.44 930.59 337.71 931.02 336.75 931.45 337.7 931.88 336.22 932.32 336.5 932.75 336.04 933.18 336.89 933.62 336.59 934.05 337.12 934.48 335.84 934.91 336.97 935.35 336.52 935.78 337.67 936.21 337.2 936.64 338.39 937.08 338.49 937.51 339.61 937.94 340.2 938.38 340.12 938.81 340.25 939.24 338.58 939.67 339.28 940.11 338.24 940.54 339.18 940.97 338.83 941.41 339.24 941.84 339.61 942.27 340.03 942.7 339.29 943.14 338.43 943.57 337.64 944 338.15 944.43 339.07 944.87 341.01 945.3 340.92 945.73 340.35 946.17 339.64 946.6 339.62 947.03 339.43 947.46 339.2 947.9 339.13 948.33 339.83 948.76 341.06 949.19 342.11 949.63 342.64 950.06 341.31 950.49 341.64 950.93 341.74 951.36 342.76 951.79 342.33 952.22 342.1 952.66 340.97 953.09 340.53 953.52 340.56 953.95 341.1 954.39 341.62 954.82 341.74 955.25 341 955.69 342.72 956.12 342.98 956.55 343.84 956.98 341.66 957.42 342.32 957.85 342.39 958.28 342.64 958.71 342.32 959.15 343.82 959.58 344.67 960.01 345.23 960.45 343.71 960.88 344.11 961.31 342.32 961.74 342.73 962.18 342.78 962.61 344.3 963.04 345.18 963.48 344.54 963.91 343.39 964.34 342.95 964.77 342.72 965.21 344.36 965.64 344.14 966.07 343.38 966.5 343.78 966.94 343.31 967.37 344.13 967.8 344.54 968.24 346.32 968.67 347.78 969.1 346.1 969.53 345.58 969.97 345.18 970.4 345.45 970.83 345.22 971.26 345.08 971.7 345.83 972.13 345.31 972.56 346.05 973 344.9 973.43 345.93 973.86 346.05 974.29 346.81 974.73 346.42 975.16 347.27 975.59 347.65 976.02 348.89 976.46 348.27 976.89 348.03 977.32 347.83 977.76 347.2 978.19 348.04 978.62 346.39 979.05 346.79 979.49 347.39 979.92 349.41 980.35 350.03 980.78 349.32 981.22 348.74 981.65 347.67 982.08 347.76 982.52 347.78 982.95 348.3 983.38 348.59 983.81 348.6 984.25 348.42 984.68 347.96 985.11 348.59 985.55 350.3 985.98 351.41 986.41 351 986.84 351.56 987.28 351.46 987.71 351.47 988.14 350.37 988.57 350.88 989.01 350.17 989.44 349.06 989.87 348.63 990.31 349.01 990.74 349.17 991.17 349.83 991.6 349.09 992.04 350.6 992.47 350.17 992.9 352.65 993.33 352.12 993.77 352.89 994.2 352.32 994.63 351.79 995.07 350.94 995.5 351.22 995.93 351.03 996.36 351.84 996.8 351.18 997.23 352.45 997.66 351.86 998.09 352.55 998.53 352.39 998.96 352.67 999.39 353.3 999.83 353.85 1000.26 353.65 1000.69 353.35 1001.12 353.84 1001.56 354.67 1001.99 355.15 1002.42 354.57 1002.85 354.14 1003.29 353.76 1003.72 354.25 1004.15 354.47 1004.59 355.5 1005.02 357.02 1005.45 357.18 1005.88 357.47 1006.32 356.37 1006.75 357.21 1007.18 355.9 1007.61 356.18 1008.05 355.36 1008.48 356.18 1008.91 356.32 1009.35 357.59 1009.78 357.12 1010.21 356.21 1010.64 354.86 1011.08 354.11 1011.51 354.3 1011.94 354.73 1012.38 356.07 1012.81 356.29 1013.24 356.81 1013.67 357.41 1014.11 356.34 1014.54 357.4 1014.97 356.8 1015.4 357.89 1015.84 356.74 1016.27 357.62 1016.7 358.14 1017.14 358.64 1017.57 358.82 1018 358.85 1018.43 358.93 1018.87 358.72 1019.3 358.38 1019.73 358.91 1020.16 358.4 1020.6 359.33 1021.03 358.51 1021.46 358.86 1021.9 358.44 1022.33 359.44 1022.76 360.09 1023.19 360.89 1023.63 360.28 1024.06 359.45 1024.49 358.35 1024.92 358.9 1025.36 359.45 1025.79 361.27 1026.22 362.47 1026.66 363.2 1027.09 362.73 1027.52 362.44 1027.95 363.14 1028.39 362.52 1028.82 362.18 1029.25 362.24 1029.68 361.25 1030.12 360.77 1030.55 360.05 1030.98 361.2 1031.42 361.92 1031.85 360.85 1032.28 362.37 1032.71 362.84 1033.15 364.05 1033.58 363.7 1034.01 362.12 1034.45 363.17 1034.88 363.28 1035.31 364.14 1035.74 362.89 1036.18 361.7 1036.61 361.52 1037.04 360.39 1037.47 361.2 1037.91 361.19 1038.34 361.93 1038.77 361.72 1039.21 361.9 1039.64 362.62 1040.07 362.71 1040.5 363.13 1040.94 363.07 1041.37 363.53 1041.8 362.48 1042.23 363.01 1042.67 360.64 1043.1 359.71 1043.53 357.92 1043.97 359.24 1044.4 360.57 1044.83 360.4 1045.26 360.05 1045.7 359.24 1046.13 360.35 1046.56 359.7 1046.99 360.45 1047.43 359.83 1047.86 361.48 1048.29 361.29 1048.73 360.94 1049.16 360.04 1049.59 359.81 1050.02 359.53 1050.46 359.19 1050.89 358.04 1051.32 359.94 1051.75 359.44 1052.19 359.8 1052.62 359.15 1053.05 360.22 1053.49 359.89 1053.92 359.49 1054.35 359.03 1054.78 359.17 1055.22 358.67 1055.65 357.94 1056.08 358.82 1056.51 358.39 1056.95 357.97 1057.38 357.19 1057.81 358.71 1058.25 358.94 1058.68 359.07 1059.11 358.22 1059.54 357.72 1059.98 358.81 1060.41 357.03 1060.84 358.26 1061.28 356.15 1061.71 357.31 1062.14 357.71 1062.57 358.6 1063.01 358.32 1063.44 357.12 1063.87 356.47 1064.3 357.2 1064.74 357.2 1065.17 357.36 1065.6 356.93 1066.04 357.79 1066.47 358.81 1066.9 358.13 1067.33 357.01 1067.77 356.89 1068.2 358.16 1068.63 357.84 1069.06 358.26 1069.5 357.28 1069.93 358.52 1070.36 358.61 1070.8 358.6 1071.23 358.17 1071.66 356.14 1072.09 354.76 1072.53 354.72 1072.96 354.94 1073.39 355.67 1073.82 355.84 1074.26 356.98 1074.69 356.59 1075.12 356.46 1075.56 355.89 1075.99 357.04 1076.42 356.86 1076.85 357.18 1077.29 356.49 1077.72 355.59 1078.15 355.41 1078.58 356.7 1079.02 357.41 1079.45 358.07 1079.88 357.57 1080.32 356.79 1080.75 354.38 1081.18 353.7 1081.61 355.1 1082.05 356.02 1082.48 357.62 1082.91 357.35 1083.35 356.85 1083.78 354.95 1084.21 355.34 1084.64 357.29 1085.08 357.18 1085.51 356.31 1085.94 355.6 1086.37 355.84 1086.81 356.13 1087.24 356.92 1087.67 356.64 1088.11 356.65 1088.54 356.03" fill="none" stroke="#e2262b" stroke-width="3.2" stroke-linejoin="round" stroke-linecap="round"/>
<path d="M699.5 473.14 699.93 474.34 700.37 476.21 700.8 475.01 701.23 474.75 701.67 474.92 702.1 476.34 702.53 476.07 702.96 475.5 703.4 473.25 703.83 473.15 704.26 473.94 704.69 474.75 705.13 473.86 705.56 473.34 705.99 474.16 706.43 474.66 706.86 474.32 707.29 474.29 707.72 475.44 708.16 475.75 708.59 475 709.02 473.4 709.45 473.68 709.89 474.37 710.32 475.32 710.75 476.08 711.19 476.28 711.62 476.36 712.05 475.97 712.48 474.54 712.92 474.99 713.35 474.68 713.78 475.84 714.21 473.96 714.65 473.74 715.08 473.58 715.51 474.03 715.95 474.16 716.38 474.22 716.81 473.71 717.24 473.26 717.68 471.73 718.11 471.98 718.54 471.92 718.97 473.01 719.41 474.55 719.84 474.58 720.27 474.61 720.71 473.39 721.14 473.88 721.57 474.39 722 475.54 722.44 475.04 722.87 473.67 723.3 473.16 723.74 473.32 724.17 473.25 724.6 473.61 725.03 474.15 725.47 475.86 725.9 474.47 726.33 474.04 726.76 473.58 727.2 475.52 727.63 475.81 728.06 474.8 728.5 473.85 728.93 474.01 729.36 474.25 729.79 474.88 730.23 474.54 730.66 474.56 731.09 474.24 731.52 474.84 731.96 475.07 732.39 474.59 732.82 474.17 733.26 474.19 733.69 473.96 734.12 474.42 734.55 475.01 734.99 474.85 735.42 473.43 735.85 472.03 736.28 472.91 736.72 472.92 737.15 473.32 737.58 472.75 738.02 473.16 738.45 473.1 738.88 471.84 739.31 472.89 739.75 473.03 740.18 474.35 740.61 473.76 741.04 473.37 741.48 472.7 741.91 473.25 742.34 474.22 742.78 474.61 743.21 474.88 743.64 474.08 744.07 474.28 744.51 473.19 744.94 473.54 745.37 472.24 745.81 472.31 746.24 472.78 746.67 472.82 747.1 473.18 747.54 473.28 747.97 475.42 748.4 474.32 748.83 473.76 749.27 472.48 749.7 473.1 750.13 473.37 750.57 474.22 751 474.86 751.43 474.46 751.86 473.83 752.3 472.16 752.73 472.97 753.16 473.38 753.59 475.19 754.03 473.71 754.46 474.21 754.89 472.97 755.33 472.92 755.76 472.16 756.19 472.19 756.62 474.62 757.06 474.78 757.49 476.4 757.92 474.82 758.35 474.54 758.79 473.92 759.22 473.38 759.65 473.13 760.09 472.95 760.52 473.95 760.95 475.2 761.38 474.97 761.82 473.16 762.25 472.64 762.68 472.23 763.11 474.05 763.55 473.02 763.98 473 764.41 472.79 764.85 474.56 765.28 475.21 765.71 474.23 766.14 473.18 766.58 472.39 767.01 473.54 767.44 474.65 767.87 474.79 768.31 474.24 768.74 473.36 769.17 473.91 769.61 473.93 770.04 473.94 770.47 473.45 770.9 473.78 771.34 474.99 771.77 475.33 772.2 475.6 772.64 474.56 773.07 474.18 773.5 474.11 773.93 473.16 774.37 472.69 774.8 472.26 775.23 473.69 775.66 474.94 776.1 474.41 776.53 473.53 776.96 473.58 777.4 474.26 777.83 473.74 778.26 473.01 778.69 472.51 779.13 473.42 779.56 473.78 779.99 474.4 780.42 473.85 780.86 475.09 781.29 475.08 781.72 475.98 782.16 473.6 782.59 472.37 783.02 470.3 783.45 470.7 783.89 472.09 784.32 472.59 784.75 473.28 785.18 472.53 785.62 473.8 786.05 474.07 786.48 474.17 786.92 472.33 787.35 471.95 787.78 470.72 788.21 470.05 788.65 470.91 789.08 472.47 789.51 475.01 789.94 474.23 790.38 474.57 790.81 473.97 791.24 473.21 791.68 472.2 792.11 471.98 792.54 472.64 792.97 473.2 793.41 473.29 793.84 472.9 794.27 472.98 794.71 472.72 795.14 474.01 795.57 473.47 796 472.61 796.44 471.59 796.87 473.1 797.3 473.37 797.73 473.72 798.17 474.65 798.6 475.44 799.03 474.51 799.47 471.92 799.9 470.63 800.33 470.33 800.76 470.22 801.2 472.14 801.63 473.04 802.06 472.72 802.49 470.61 802.93 470.27 803.36 470.52 803.79 470.38 804.23 470.7 804.66 466.88 805.09 462.58 805.52 456.33 805.96 450.54 806.39 447.18 806.82 442.56 807.25 438.37 807.69 431.57 808.12 426.88 808.55 421.01 808.99 416.25 809.42 410.9 809.85 403.35 810.28 395.77 810.72 387.97 811.15 380.46 811.58 374.58 812.01 367.06 812.45 360.62 812.88 353.7 813.31 347.22 813.75 340.6 814.18 333.14 814.61 328.32 815.04 323.4 815.48 319.42 815.91 315.57 816.34 313.49 816.78 309.37 817.21 304.85 817.64 299.47 818.07 295.39 818.51 292.72 818.94 291.8 819.37 291.37 819.8 291.11 820.24 290.47 820.67 288.94 821.1 287.83 821.54 284.94 821.97 285.74 822.4 284 822.83 285.22 823.27 283.6 823.7 284.58 824.13 283.71 824.56 283.91 825 283.47 825.43 283.12 825.86 281.95 826.3 282.01 826.73 281.72 827.16 282.67 827.59 282.25 828.03 281.32 828.46 282.84 828.89 283.25 829.32 285.96 829.76 284.66 830.19 284.32 830.62 280.43 831.06 279.95 831.49 278.52 831.92 280.22 832.35 280.72 832.79 281.6 833.22 281.31 833.65 280.86 834.08 281.01 834.52 281.78 834.95 282.9 835.38 283.57 835.82 283.65 836.25 282.21 836.68 282.25 837.11 282.67 837.55 283.1 837.98 282.54 838.41 281.81 838.84 281.62 839.28 281.37 839.71 282.79 840.14 283.55 840.58 283.42 841.01 283.51 841.44 282.57 841.87 283.21 842.31 282.65 842.74 282.37 843.17 282.37 843.61 282.38 844.04 283.27 844.47 282.75 844.9 280.25 845.34 281.23 845.77 281.26 846.2 283.3 846.63 281.17 847.07 281.39 847.5 282.9 847.93 282.63 848.37 283.11 848.8 281.43 849.23 283.26 849.66 283.25 850.1 283.53 850.53 281.98 850.96 280.63 851.39 280.68 851.83 280.91 852.26 281.73 852.69 281.22 853.13 281.44 853.56 280.74 853.99 281.22 854.42 281.4 854.86 281.66 855.29 281.16 855.72 281.59 856.15 280.54 856.59 280.9 857.02 279.81 857.45 280.84 857.89 279.66 858.32 281.67 858.75 280.38 859.18 281.35 859.62 280.67 860.05 281.98 860.48 280.26 860.91 279.05 861.35 279.96 861.78 281.82 862.21 281.23 862.65 281.33 863.08 281.11 863.51 282.21 863.94 279.74 864.38 279.8 864.81 278.67 865.24 280.61 865.68 280.94 866.11 281.14 866.54 280.22 866.97 280.84 867.41 281.07 867.84 281.04 868.27 280.25 868.7 280.52 869.14 280.76 869.57 280.66 870 281.19 870.44 281.82 870.87 281.65 871.3 282.15 871.73 281.69 872.17 282.52 872.6 281.53 873.03 281.54 873.46 281.21 873.9 280.69 874.33 279.32 874.76 277.71 875.2 279.25 875.63 279.73 876.06 280.5 876.49 279.62 876.93 280.92 877.36 281.09 877.79 280.11 878.22 279.35 878.66 279.64 879.09 281.07 879.52 281.75 879.96 281.08 880.39 279.35 880.82 279.81 881.25 280.23 881.69 281.79 882.12 281.6 882.55 281.34 882.98 280.71 883.42 281.18 883.85 282.19 884.28 281.76 884.72 280.58 885.15 279.53 885.58 280.71 886.01 281.21 886.45 281.26 886.88 281.28 887.31 281.79 887.74 282.13 888.18 281.18 888.61 281.14 889.04 280.43 889.48 280.59 889.91 280.49 890.34 281.22 890.77 281.75 891.21 280.74 891.64 280.3 892.07 281.18 892.51 282.56 892.94 282.33 893.37 281.37 893.8 280.18 894.24 280.67 894.67 279.71 895.1 280.84 895.53 280.34 895.97 281.97 896.4 280.66 896.83 280.5 897.27 280.9 897.7 281.14 898.13 282.27 898.56 281.53 899 281.8 899.43 282.34 899.86 282.82 900.29 282.41 900.73 281.13 901.16 280.87 901.59 282.34 902.03 281.35 902.46 280.22 902.89 278.99 903.32 281.3 903.76 282.47 904.19 282.56 904.62 282.53 905.05 281.05 905.49 281.14 905.92 280.23 906.35 282.05 906.79 282.78 907.22 283.6 907.65 282.73 908.08 282.3 908.52 281.98 908.95 281.97 909.38 281.65 909.81 280.45 910.25 280.82 910.68 281.68 911.11 282.72 911.55 281.57 911.98 281.23 912.41 281.17 912.84 282.4 913.28 281.72 913.71 281.56 914.14 281.85 914.58 282.27 915.01 281.78 915.44 280.46 915.87 279.66 916.31 279.69 916.74 280.65 917.17 281.5 917.6 281.44 918.04 281.99 918.47 281.76 918.9 283.64 919.34 283.08 919.77 283.51 920.2 283.04 920.63 282.37 921.07 282.37 921.5 281.78 921.93 282.33 922.36 282.31 922.8 281.08 923.23 281.22 923.66 280.56 924.1 282.4 924.53 282.37 924.96 282.7 925.39 282 925.83 282.06 926.26 281.72 926.69 280.43 927.12 280.11 927.56 280.28 927.99 281.59 928.42 279.75 928.86 278.54 929.29 277.88 929.72 279.1 930.15 280.67 930.59 281.13 931.02 281.45 931.45 280.86 931.88 281.32 932.32 281.98 932.75 281.69 933.18 280.87 933.62 281.76 934.05 282.02 934.48 281.35 934.91 280.34 935.35 280.22 935.78 282.05 936.21 281.03 936.64 281.93 937.08 281.77 937.51 282.54 937.94 280.15 938.38 279.7 938.81 280.32 939.24 281.6 939.67 281.01 940.11 279 940.54 280.16 940.97 281.38 941.41 282.7 941.84 281.56 942.27 280.22 942.7 279.27 943.14 280.64 943.57 281.54 944 282.46 944.43 280.97 944.87 280.18 945.3 280.47 945.73 281.83 946.17 281.65 946.6 280.82 947.03 278.38 947.46 279.19 947.9 278.83 948.33 281.59 948.76 281.93 949.19 283.59 949.63 283.18 950.06 283.5 950.49 283.5 950.93 283.32 951.36 283.13 951.79 282.41 952.22 282.52 952.66 282.31 953.09 281.86 953.52 281.68 953.95 281.67 954.39 282.78 954.82 283.05 955.25 282.86 955.69 283.48 956.12 282.85 956.55 282.26 956.98 281.03 957.42 282.24 957.85 284.48 958.28 285.66 958.71 285.31 959.15 283.77 959.58 283.69 960.01 284.09 960.45 283.72 960.88 284.15 961.31 283.31 961.74 283.83 962.18 284.37 962.61 285 963.04 286.09 963.48 285.92 963.91 287.46 964.34 288.24 964.77 287.41 965.21 286.52 965.64 285.37 966.07 286.46 966.5 286.51 966.94 286.98 967.37 287.4 967.8 288.41 968.24 288.07 968.67 287.06 969.1 286.71 969.53 287.22 969.97 287.02 970.4 285.29 970.83 285.96 971.26 286.14 971.7 286.09 972.13 285.58 972.56 285.15 973 288.48 973.43 287.69 973.86 288.83 974.29 288.5 974.73 289.09 975.16 288.52 975.59 286.57 976.02 286.43 976.46 287.3 976.89 288.77 977.32 290.04 977.76 290.19 978.19 289.55 978.62 289.71 979.05 289.79 979.49 289.62 979.92 289.21 980.35 287.83 980.78 287.1 981.22 288.25 981.65 290.33 982.08 292.83 982.52 292.99 982.95 292.37 983.38 292.3 983.81 292.37 984.25 293.06 984.68 291.99 985.11 291.66 985.55 291.86 985.98 291.93 986.41 291.51 986.84 291.1 987.28 291.22 987.71 292.37 988.14 292.68 988.57 293.9 989.01 292.66 989.44 292.39 989.87 292.81 990.31 292.75 990.74 294.24 991.17 292.88 991.6 293.79 992.04 293.73 992.47 295.43 992.9 295.92 993.33 295.49 993.77 295.35 994.2 294.91 994.63 295.99 995.07 295.65 995.5 296.18 995.93 296.64 996.36 296.57 996.8 297.57 997.23 298.14 997.66 298.92 998.09 298.36 998.53 296.18 998.96 296.24 999.39 295.22 999.83 295 1000.26 294.07 1000.69 294.31 1001.12 295.2 1001.56 296.47 1001.99 297.07 1002.42 296.79 1002.85 296.39 1003.29 297.15 1003.72 299.02 1004.15 298.86 1004.59 298.6 1005.02 298.56 1005.45 299.1 1005.88 298.99 1006.32 298.32 1006.75 297.99 1007.18 298.12 1007.61 299.19 1008.05 300.08 1008.48 300.4 1008.91 298.91 1009.35 297.89 1009.78 299.67 1010.21 300.49 1010.64 301.1 1011.08 299.1 1011.51 298.05 1011.94 299.32 1012.38 300.55 1012.81 302.57 1013.24 301.51 1013.67 302.31 1014.11 300.92 1014.54 300.98 1014.97 299.89 1015.4 302.32 1015.84 303.57 1016.27 303.54 1016.7 303.16 1017.14 303.01 1017.57 303.73 1018 302.3 1018.43 302.09 1018.87 301.99 1019.3 303.05 1019.73 303.39 1020.16 303.83 1020.6 303.18 1021.03 303.46 1021.46 302.81 1021.9 304.63 1022.33 303.83 1022.76 304.81 1023.19 303.03 1023.63 303.95 1024.06 303.4 1024.49 303.3 1024.92 303.89 1025.36 304.57 1025.79 305.87 1026.22 305.5 1026.66 306.81 1027.09 306.97 1027.52 307.43 1027.95 307.02 1028.39 307.18 1028.82 308.22 1029.25 306.88 1029.68 306.59 1030.12 304.4 1030.55 306.11 1030.98 307.37 1031.42 308.62 1031.85 309.31 1032.28 308.51 1032.71 309.34 1033.15 308.58 1033.58 308.72 1034.01 308.35 1034.45 306.98 1034.88 306.86 1035.31 307.91 1035.74 308.65 1036.18 310.14 1036.61 309.33 1037.04 310.99 1037.47 310.78 1037.91 310.08 1038.34 309.27 1038.77 307.59 1039.21 307.32 1039.64 305.6 1040.07 302.62 1040.5 301.49 1040.94 300.57 1041.37 299.61 1041.8 298.34 1042.23 296.2 1042.67 294.27 1043.1 291.62 1043.53 291.04 1043.97 292.11 1044.4 292.55 1044.83 292.43 1045.26 291.66 1045.7 290 1046.13 288.74 1046.56 289.03 1046.99 290.19 1047.43 290.19 1047.86 290.85 1048.29 290.46 1048.73 290.97 1049.16 290.3 1049.59 290.52 1050.02 290.11 1050.46 290.53 1050.89 290.52 1051.32 291.25 1051.75 290.12 1052.19 290.48 1052.62 289.34 1053.05 289.66 1053.49 288.95 1053.92 289.99 1054.35 290.29 1054.78 290.83 1055.22 289.85 1055.65 289.3 1056.08 288.75 1056.51 288.9 1056.95 289.58 1057.38 289.12 1057.81 289.84 1058.25 290.01 1058.68 289.97 1059.11 291.05 1059.54 290.05 1059.98 291.22 1060.41 289.97 1060.84 289.52 1061.28 288.58 1061.71 289.32 1062.14 290.34 1062.57 291.07 1063.01 291.56 1063.44 292.39 1063.87 292.21 1064.3 291.14 1064.74 291.68 1065.17 291.86 1065.6 291.98 1066.04 290.8 1066.47 291.53 1066.9 291.27 1067.33 292.27 1067.77 291.24 1068.2 290.95 1068.63 291.61 1069.06 291.97 1069.5 292.95 1069.93 291.5 1070.36 292.29 1070.8 292.82 1071.23 294.02 1071.66 293.5 1072.09 293.02 1072.53 292.62 1072.96 293.44 1073.39 294.22 1073.82 293.87 1074.26 293.3 1074.69 293.14 1075.12 293.09 1075.56 294.03 1075.99 295.81 1076.42 295.44 1076.85 293.58 1077.29 292.69 1077.72 293.56 1078.15 294.33 1078.58 292.72 1079.02 291.82 1079.45 291.16 1079.88 291.85 1080.32 292.01 1080.75 292.59 1081.18 292.85 1081.61 292.32 1082.05 292.17 1082.48 291.22 1082.91 292.3 1083.35 292.02 1083.78 293.4 1084.21 292.87 1084.64 295.34 1085.08 295.31 1085.51 295.08 1085.94 293.61 1086.37 292.81 1086.81 294.41 1087.24 293.06 1087.67 292.77 1088.11 291.69 1088.54 292.46" fill="none" stroke="#f4891f" stroke-width="3.2" stroke-linejoin="round" stroke-linecap="round"/>
<line x1="698.1" y1="245.1" x2="698.1" y2="526.8" stroke="#000" stroke-width="4"/>
<line x1="685.2" y1="524.8" x2="698.1" y2="524.8" stroke="#000" stroke-width="4"/>
<text transform="translate(635.22 535.35) scale(0.930 1)" font-size="35" fill="#000" stroke="#000" stroke-width="0.25" stroke-linejoin="round"><tspan font-weight="bold" y="0">0.4</tspan></text>
<line x1="685.2" y1="469.26" x2="698.1" y2="469.26" stroke="#000" stroke-width="4"/>
<text transform="translate(635.72 479.81) scale(0.930 1)" font-size="35" fill="#000" stroke="#000" stroke-width="0.25" stroke-linejoin="round"><tspan font-weight="bold" y="0">0.6</tspan></text>
<line x1="685.2" y1="413.72" x2="698.1" y2="413.72" stroke="#000" stroke-width="4"/>
<text transform="translate(635.63 424.27) scale(0.930 1)" font-size="35" fill="#000" stroke="#000" stroke-width="0.25" stroke-linejoin="round"><tspan font-weight="bold" y="0">0.8</tspan></text>
<line x1="685.2" y1="358.18" x2="698.1" y2="358.18" stroke="#000" stroke-width="4"/>
<text transform="translate(635.42 368.73) scale(0.930 1)" font-size="35" fill="#000" stroke="#000" stroke-width="0.25" stroke-linejoin="round"><tspan font-weight="bold" y="0">1.0</tspan></text>
<line x1="685.2" y1="302.64" x2="698.1" y2="302.64" stroke="#000" stroke-width="4"/>
<text transform="translate(635.4 313.36) scale(0.930 1)" font-size="35" fill="#000" stroke="#000" stroke-width="0.25" stroke-linejoin="round"><tspan font-weight="bold" y="0">1.2</tspan></text>
<line x1="685.2" y1="247.1" x2="698.1" y2="247.1" stroke="#000" stroke-width="4"/>
<text transform="translate(634.84 257.64) scale(0.930 1)" font-size="35" fill="#000" stroke="#000" stroke-width="0.25" stroke-linejoin="round"><tspan font-weight="bold" y="0">1.4</tspan></text>
<line x1="696.1" y1="524.8" x2="1088" y2="524.8" stroke="#000" stroke-width="4"/>
<line x1="697.3" y1="524.8" x2="697.3" y2="536.5" stroke="#000" stroke-width="4"/>
<text transform="translate(688.08 574.35) scale(0.950 1)" font-size="35" fill="#000" stroke="#000" stroke-width="0.25" stroke-linejoin="round"><tspan font-weight="bold" y="0">0</tspan></text>
<line x1="760.2" y1="524.8" x2="760.2" y2="536.5" stroke="#000" stroke-width="4"/>
<text transform="translate(750.37 574.34) scale(0.950 1)" font-size="35" fill="#000" stroke="#000" stroke-width="0.25" stroke-linejoin="round"><tspan font-weight="bold" y="0">1</tspan></text>
<line x1="823.1" y1="524.8" x2="823.1" y2="536.5" stroke="#000" stroke-width="4"/>
<text transform="translate(813.94 574.52) scale(0.950 1)" font-size="35" fill="#000" stroke="#000" stroke-width="0.25" stroke-linejoin="round"><tspan font-weight="bold" y="0">2</tspan></text>
<line x1="886" y1="524.8" x2="886" y2="536.5" stroke="#000" stroke-width="4"/>
<text transform="translate(876.97 574.32) scale(0.950 1)" font-size="35" fill="#000" stroke="#000" stroke-width="0.25" stroke-linejoin="round"><tspan font-weight="bold" y="0">3</tspan></text>
<line x1="948.9" y1="524.8" x2="948.9" y2="536.5" stroke="#000" stroke-width="4"/>
<text transform="translate(939.49 574.34) scale(0.950 1)" font-size="35" fill="#000" stroke="#000" stroke-width="0.25" stroke-linejoin="round"><tspan font-weight="bold" y="0">4</tspan></text>
<line x1="1011.8" y1="524.8" x2="1011.8" y2="536.5" stroke="#000" stroke-width="4"/>
<text transform="translate(1002.51 574.17) scale(0.950 1)" font-size="35" fill="#000" stroke="#000" stroke-width="0.25" stroke-linejoin="round"><tspan font-weight="bold" y="0">5</tspan></text>
<line x1="1074.7" y1="524.8" x2="1074.7" y2="536.5" stroke="#000" stroke-width="4"/>
<text transform="translate(1065.45 574.35) scale(0.950 1)" font-size="35" fill="#000" stroke="#000" stroke-width="0.25" stroke-linejoin="round"><tspan font-weight="bold" y="0">6</tspan></text>
<text transform="translate(830.43 621.82)" font-size="35.46" fill="#000" stroke="#000" stroke-width="0.25" stroke-linejoin="round"><tspan font-weight="bold" y="0">Time (min)</tspan></text>
<text transform="translate(614.42 472) rotate(-90) scale(0.961 1)" font-size="37.67" fill="#000" stroke="#000" stroke-width="0.25" stroke-linejoin="round"><tspan font-weight="bold" y="0">F340/F380</tspan></text>
<rect x="767.9" y="255.3" width="115.7" height="5.5" fill="#000"/>
<rect x="1002.4" y="255.3" width="84.8" height="5.5" fill="#000"/>
<text transform="translate(736.39 240.51) scale(1.032 1)" font-size="36.96" fill="#000" stroke="#000" stroke-width="0.45" stroke-linejoin="round"><tspan y="0">Capsaicin</tspan></text>
<text transform="translate(1019.15 239.92) scale(1.104 1)" font-size="36.15" fill="#000" stroke="#000" stroke-width="0.45" stroke-linejoin="round"><tspan y="0">KCl</tspan></text>
<line x1="1245.2" y1="81.6" x2="1245.2" y2="528.4" stroke="#000" stroke-width="4"/>
<line x1="1232.5" y1="526.4" x2="1245.2" y2="526.4" stroke="#000" stroke-width="4"/>
<text transform="translate(1209.37 536.36) scale(0.970 1)" font-size="34.3" fill="#000" stroke="#000" stroke-width="0.25" stroke-linejoin="round"><tspan font-weight="bold" y="0">0</tspan></text>
<line x1="1232.5" y1="437.84" x2="1245.2" y2="437.84" stroke="#000" stroke-width="4"/>
<text transform="translate(1191 447.8) scale(0.970 1)" font-size="34.3" fill="#000" stroke="#000" stroke-width="0.25" stroke-linejoin="round"><tspan font-weight="bold" y="0">20</tspan></text>
<line x1="1232.5" y1="349.28" x2="1245.2" y2="349.28" stroke="#000" stroke-width="4"/>
<text transform="translate(1191.33 359.24) scale(0.970 1)" font-size="34.3" fill="#000" stroke="#000" stroke-width="0.25" stroke-linejoin="round"><tspan font-weight="bold" y="0">40</tspan></text>
<line x1="1232.5" y1="260.72" x2="1245.2" y2="260.72" stroke="#000" stroke-width="4"/>
<text transform="translate(1190.97 270.68) scale(0.970 1)" font-size="34.3" fill="#000" stroke="#000" stroke-width="0.25" stroke-linejoin="round"><tspan font-weight="bold" y="0">60</tspan></text>
<line x1="1232.5" y1="172.16" x2="1245.2" y2="172.16" stroke="#000" stroke-width="4"/>
<text transform="translate(1191.05 182.12) scale(0.970 1)" font-size="34.3" fill="#000" stroke="#000" stroke-width="0.25" stroke-linejoin="round"><tspan font-weight="bold" y="0">80</tspan></text>
<line x1="1232.5" y1="83.6" x2="1245.2" y2="83.6" stroke="#000" stroke-width="4"/>
<text transform="translate(1172.58 93.56) scale(0.970 1)" font-size="34.3" fill="#000" stroke="#000" stroke-width="0.25" stroke-linejoin="round"><tspan font-weight="bold" y="0">100</tspan></text>
<line x1="1232" y1="526.4" x2="1366" y2="526.4" stroke="#000" stroke-width="4"/>
<line x1="1384.5" y1="526.4" x2="1562.8" y2="526.4" stroke="#000" stroke-width="4"/>
<line x1="1271.2" y1="526.4" x2="1271.2" y2="538.6" stroke="#000" stroke-width="4"/>
<line x1="1324.2" y1="526.4" x2="1324.2" y2="538.6" stroke="#000" stroke-width="4"/>
<line x1="1429" y1="526.4" x2="1429" y2="538.6" stroke="#000" stroke-width="4"/>
<line x1="1481.6" y1="526.4" x2="1481.6" y2="538.6" stroke="#000" stroke-width="4"/>
<line x1="1534.2" y1="526.4" x2="1534.2" y2="538.6" stroke="#000" stroke-width="4"/>
<rect x="1254.15" y="187.35" width="34.6" height="339.05" fill="#000" stroke="#000" stroke-width="3.9" stroke-linejoin="round"/>
<rect x="1307.05" y="242.95" width="34.2" height="283.45" fill="#5e63b1" stroke="#000" stroke-width="3.9" stroke-linejoin="round"/>
<rect x="1411.55" y="351.45" width="34.9" height="174.95" fill="#fff" stroke="#000" stroke-width="3.9" stroke-linejoin="round"/>
<rect x="1464.45" y="229.35" width="34.9" height="297.05" fill="#f3f1c2" stroke="#000" stroke-width="3.9" stroke-linejoin="round"/>
<rect x="1517.25" y="162.25" width="34.5" height="364.15" fill="#ece22f" stroke="#000" stroke-width="3.9" stroke-linejoin="round"/>
<text transform="translate(1412.44 339.8) scale(1.149 1)" font-size="28.63" fill="#000" stroke="#000" stroke-width="1" stroke-linejoin="round"><tspan font-weight="bold" y="0">##</tspan></text>
<text transform="translate(1463.23 231.46) scale(1.009 1)" font-size="41.66" fill="#000" stroke="#000" stroke-width="0.2" stroke-linejoin="round"><tspan font-weight="bold" y="0">*</tspan></text>
<text transform="translate(1484.53 231.46) scale(1.009 1)" font-size="41.66" fill="#000" stroke="#000" stroke-width="0.2" stroke-linejoin="round"><tspan font-weight="bold" y="0">*</tspan></text>
<text transform="translate(1515.03 163.76) scale(1.009 1)" font-size="41.66" fill="#000" stroke="#000" stroke-width="0.2" stroke-linejoin="round"><tspan font-weight="bold" y="0">*</tspan></text>
<text transform="translate(1536.33 163.76) scale(1.009 1)" font-size="41.66" fill="#000" stroke="#000" stroke-width="0.2" stroke-linejoin="round"><tspan font-weight="bold" y="0">*</tspan></text>
<text transform="translate(1284.73 88.8)" font-size="38.91" fill="#000" stroke="#000" stroke-width="0.45" stroke-linejoin="round"><tspan y="0">B6</tspan></text>
<text transform="translate(1395.85 88.72) scale(1.053 1)" font-size="36.56" fill="#000" stroke="#000" stroke-width="0.45" stroke-linejoin="round"><tspan y="0">Albino-B6</tspan></text>
<text transform="translate(1152.49 517.46) rotate(-90) scale(0.993 1)" font-size="36.53" fill="#000" stroke="#000" stroke-width="0.25" stroke-linejoin="round"><tspan font-weight="bold" y="0">Capsaicin sensitivity (%)</tspan></text>
<text transform="translate(560.28 687.72) scale(1.021 1)" font-size="46.37" fill="#000" stroke="#000" stroke-width="0.25" stroke-linejoin="round"><tspan font-weight="bold" y="0">d</tspan></text>
<rect x="618.6" y="706.5" width="19.3" height="8.3" fill="#000"/>
<rect x="618.3" y="916.3" width="19.4" height="6.8" fill="#000"/>
<rect x="618.3" y="1129.2" width="19.4" height="6.9" fill="#000"/>
<rect x="892.3" y="706.7" width="101.9" height="8" fill="#000"/>
<rect x="892.4" y="919.3" width="101.6" height="6.7" fill="#000"/>
<rect x="892" y="1130.2" width="102.4" height="7.6" fill="#000"/>
<path d="M600.4 738.24 600.49 739.5 600.58 735.56 600.67 729.19 600.76 740.56 600.85 733.11 600.94 733.01 601.03 745.51 601.12 740.24 601.21 729.84 601.3 733.12 601.39 734.25 601.48 731.66 601.57 725.65 601.66 740.23 601.75 740.05 601.84 736.83 601.93 733.52 602.02 736.62 602.12 739.01 602.21 730.85 602.3 734.93 602.39 733.52 602.48 740.32 602.57 738.21 602.66 729.87 602.75 733.62 602.84 746.65 602.93 732.01 603.02 737.65 603.11 733.27 603.2 743.12 603.29 736 603.38 734.18 603.47 730.16 603.56 735.35 603.65 741.2 603.74 740.32 603.83 730.09 603.92 745.15 604.01 735.93 604.1 732.22 604.19 738.43 604.28 735.03 604.37 734.79 604.46 734.44 604.55 737.25 604.64 735.18 604.73 729.08 604.82 740.73 604.91 735.32 605 744.31 605.09 740.91 605.18 741.3 605.27 739.03 605.36 745 605.45 737.41 605.55 733.86 605.64 741.08 605.73 728.97 605.82 737.05 605.91 739.74 606 736.55 606.09 744.99 606.18 741.81 606.27 738.64 606.36 736.06 606.45 743.73 606.54 734.23 606.63 735.8 606.72 741.85 606.81 740.88 606.9 747.96 606.99 736.37 607.08 727.81 607.17 740.86 607.26 743.61 607.35 736.4 607.44 745.4 607.53 746.54 607.62 733.37 607.71 734.4 607.8 730.49 607.89 739.82 607.98 740.71 608.07 739.88 608.16 730.02 608.25 732.66 608.34 729.18 608.43 728.48 608.52 730.03 608.61 728.97 608.7 736.16 608.79 739.19 608.88 740.48 608.98 736.81 609.07 732.88 609.16 736.49 609.25 739.53 609.34 735.55 609.43 737.34 609.52 735.69 609.61 734.2 609.7 737.41 609.79 731.24 609.88 742.72 609.97 728.84 610.06 739.45 610.15 730.15 610.24 745.47 610.33 742.52 610.42 733.91 610.51 735.32 610.6 732.31 610.69 737.99 610.78 740.5 610.87 748.43 610.96 731.34 611.05 744.77 611.14 735.46 611.23 739.8 611.32 742.66 611.41 740.77 611.5 739.88 611.59 736.77 611.68 738.04 611.77 738.76 611.86 744.31 611.95 730.1 612.04 735.28 612.13 731.1 612.22 732.57 612.32 733.42 612.41 743.13 612.5 746.89 612.59 744.24 612.68 731.17 612.77 737.89 612.86 731.29 612.95 739.3 613.04 743.46 613.13 739.67 613.22 741.41 613.31 736.12 613.4 726.87 613.49 726.81 613.58 736.29 613.67 739.73 613.76 743.3 613.85 734.5 613.94 736.41 614.03 737.17 614.12 741.82 614.21 735.84 614.3 730.33 614.39 741.63 614.48 738.34 614.57 738.1 614.66 729.69 614.75 736.39 614.84 727.45 614.93 726.61 615.02 735.25 615.11 734.33 615.2 739.95 615.29 744.61 615.38 736.79 615.47 746.25 615.56 733.81 615.65 740.99 615.75 730.34 615.84 737.69 615.93 735.5 616.02 736.44 616.11 740.76 616.2 727.9 616.29 738.06 616.38 733.11 616.47 738.02 616.56 739.32 616.65 735.26 616.74 735.23 616.83 731.2 616.92 739.73 617.01 733.37 617.1 739.11 617.19 729.39 617.28 744.11 617.37 731.58 617.46 743.07 617.55 734.5 617.64 739.94 617.73 736.14 617.82 740.24 617.91 736.63 618 743.56 618.09 740.43 618.18 740.77 618.27 745.86 618.36 733.18 618.45 743.71 618.54 737.42 618.63 729.71 618.72 740.18 618.81 736.14 618.9 745.91 618.99 734.88 619.08 737.64 619.18 738.57 619.27 726.71 619.36 739.22 619.45 731.59 619.54 744.16 619.63 745.04 619.72 736.28 619.81 727.73 619.9 737.37 619.99 737.28 620.08 740.11 620.17 734.94 620.26 730.14 620.35 735.82 620.44 731.59 620.53 745.72 620.62 732.94 620.71 733.14 620.8 736.45 620.89 730.31 620.98 734.27 621.07 735.49 621.16 734.23 621.25 735.65 621.34 743.36 621.43 739.49 621.52 730.28 621.61 734.84 621.7 740.83 621.79 733.16 621.88 737.22 621.97 736.75 622.06 739.42 622.15 735.99 622.24 736.05 622.33 732.04 622.42 738.45 622.52 731.5 622.61 745.38 622.7 736.28 622.79 735.39 622.88 741.04 622.97 736.42 623.06 737.29 623.15 736.5 623.24 733.8 623.33 732.62 623.42 734.27 623.51 743.48 623.6 734.11 623.69 735.74 623.78 735.39 623.87 741.36 623.96 747.56 624.05 732.91 624.14 740.6 624.23 738.48 624.32 736.65 624.41 740.57 624.5 731.53 624.59 743.03 624.68 740.27 624.77 733.65 624.86 747.25 624.95 743.87 625.04 745.03 625.13 731.3 625.22 737.48 625.31 736.11 625.4 741.88 625.49 745.59 625.58 728.55 625.67 738.96 625.76 738.07 625.85 743.68 625.95 738.44 626.04 732.13 626.13 737.84 626.22 733.42 626.31 734.84 626.4 739.07 626.49 736.7 626.58 740.67 626.67 731.18 626.76 748.85 626.85 745 626.94 742.18 627.03 731.8 627.12 728.67 627.21 734.4 627.3 737.78 627.39 749.24 627.48 746.34 627.57 736.72 627.66 745.31 627.75 745.61 627.84 738.99 627.93 745.01 628.02 740.39 628.11 734.7 628.2 731.94 628.29 737.11 628.38 742.8 628.47 730.29 628.56 728.39 628.65 740 628.74 727.34 628.83 746.82 628.92 734.9 629.01 741.2 629.1 746.57 629.19 729.55 629.28 731.63 629.38 746.72 629.47 735.17 629.56 736.1 629.65 738.18 629.74 742.35 629.83 743.67 629.92 736.86 630.01 734.67 630.1 736.01 630.19 738.34 630.28 743.52 630.37 737.58 630.46 746.26 630.55 732.58 630.64 739.28 630.73 745.66 630.82 743.17 630.91 737.76 631 730.99 631.09 731.94 631.18 735.31 631.27 737.93 631.36 735.11 631.45 729.21 631.54 732.96 631.63 739.51 631.72 741.25 631.81 729.29 631.9 734.89 631.99 728.1 632.08 733.65 632.17 746.59 632.26 736.51 632.35 734.02 632.44 732.93 632.53 729.79 632.62 726.34 632.72 736.27 632.81 734.9 632.9 743.9 632.99 727.68 633.08 738.77 633.17 743.46 633.26 726.03 633.35 739.74 633.44 728.01 633.53 739.67 633.62 744.35 633.71 736.77 633.8 737.95 633.89 732.67 633.98 738.08 634.07 742.77 634.16 735.51 634.25 736.41 634.34 738.82 634.43 740.86 634.52 728.07 634.61 737.22 634.7 733.25 634.79 739.05 634.88 742.21 634.97 738.41 635.06 743.45 635.15 732.19 635.24 735.31 635.33 732.02 635.42 737.44 635.51 737.44 635.6 736 635.69 730.87 635.78 736.86 635.87 735.01 635.96 740.58 636.05 735.86 636.15 742.94 636.24 738.42 636.33 727.41 636.42 736.09 636.51 729.73 636.6 742.16 636.69 744.46 636.78 736.97 636.87 739.78 636.96 729.96 637.05 727.46 637.14 734.2 637.23 736.18 637.32 729.55 637.41 737.76 637.5 738.69 637.59 740.06 637.68 744.25 637.77 740.87 637.86 734.4 637.95 736.94 638.04 739.64 638.13 731.61 638.22 744.08 638.31 741.49 638.4 735.6 638.49 732.96 638.58 745.87 638.67 740.05 638.76 740.5 638.85 745.24 638.94 741.47 639.03 737.46 639.12 740.28 639.21 732.02 639.3 740.22 639.39 728.33 639.48 739.15 639.58 739.95 639.67 729.25 639.76 747.9 639.85 732.03 639.94 743.37 640.03 735.25 640.12 739.88 640.21 735.21 640.3 748.53 640.39 743.94 640.48 747.68 640.57 741.96 640.66 741.66 640.75 739.25 640.84 737.13 640.93 741.22 641.02 739.13 641.11 738.05 641.2 731.73 641.29 737.2 641.38 741.93 641.47 736.45 641.56 740.96 641.65 738.12 641.74 732.7 641.83 733.33 641.92 734.59 642.01 737.07 642.1 737.41 642.19 745.03 642.28 733.37 642.37 728.41 642.46 741.65 642.55 735.72 642.64 737.48 642.73 748.12 642.82 745.84 642.92 741.39 643.01 743.98 643.1 739.08 643.19 743.5 643.28 735.2 643.37 734.88 643.46 735.45 643.55 746.46 643.64 746.49 643.73 735.16 643.82 743.78 643.91 736.83 644 743.09 644.09 735.85 644.18 743.06 644.27 737.24 644.36 736.29 644.45 737.63 644.54 738.53 644.63 734.3 644.72 729.96 644.81 746.1 644.9 735.85 644.99 728.17 645.08 727.51 645.17 727.11 645.26 733.82 645.35 749.04 645.44 728.59 645.53 735.24 645.62 727 645.71 742.54 645.8 738.98 645.89 738.84 645.98 744.14 646.07 745.7 646.16 742.81 646.25 734.45 646.35 730.48 646.44 732.05 646.53 728.7 646.62 746.82 646.71 736.76 646.8 738.51 646.89 738.75 646.98 747.47 647.07 735.04 647.16 743.99 647.25 739.04 647.34 736.52 647.43 727.56 647.52 742.65 647.61 733.73 647.7 735.29 647.79 738.55 647.88 737.98 647.97 743.17 648.06 733.6 648.15 738.23 648.24 738.62 648.33 737.6 648.42 740.89 648.51 735.75 648.6 743.28 648.69 733.25 648.78 729.55 648.87 737.59 648.96 744.3 649.05 735.62 649.14 735.34 649.23 737.13 649.32 739.5 649.41 737.59 649.5 740.39 649.59 730.04 649.68 747.26 649.78 742.08 649.87 734.41 649.96 746.22 650.05 741.39 650.14 752.63 650.23 732.8 650.32 747.55 650.41 739.09 650.5 728.59 650.59 742.78 650.68 737.56 650.77 734.01 650.86 738.04 650.95 728.98 651.04 742.39 651.13 737.89 651.22 737.96 651.31 746.57 651.4 739.57 651.49 736.27 651.58 734.63 651.67 739.52 651.76 745.57 651.85 737.46 651.94 734.58 652.03 745.12 652.12 740.67 652.21 740.53 652.3 750.26 652.39 734.49 652.48 741.87 652.57 731.41 652.66 739.11 652.75 743.58 652.84 746.48 652.93 734.18 653.02 745.09 653.12 744.49 653.21 739.72 653.3 750.23 653.39 740.43 653.48 736.06 653.57 742.79 653.66 730.32 653.75 748.57 653.84 745.65 653.93 738.22 654.02 743.03 654.11 742.62 654.2 749.25 654.29 736.4 654.38 732.68 654.47 729.51 654.56 737.9 654.65 731.26 654.74 738.7 654.83 741.45 654.92 737.24 655.01 734.27 655.1 745.42 655.19 737.99 655.28 740.07 655.37 743.63 655.46 731.39 655.55 733.98 655.64 748.1 655.73 737.73 655.82 732.68 655.91 736.83 656 735.38 656.09 731.48 656.18 735.39 656.27 737.42 656.36 737.46 656.45 735.66 656.55 728.09 656.64 729.05 656.73 741.17 656.82 734.84 656.91 743.25 657 738.5 657.09 729.58 657.18 740.1 657.27 732.07 657.36 738.74 657.45 743.46 657.54 746.77 657.63 736.89 657.72 740.75 657.81 738.46 657.9 740.29 657.99 725.8 658.08 733.99 658.17 737.91 658.26 738.7 658.35 732.36 658.44 740.94 658.53 742.56 658.62 737.27 658.71 735.45 658.8 735.35 658.89 737.9 658.98 743.4 659.07 745.03 659.16 734.47 659.25 732.41 659.34 733.22 659.43 742.74 659.52 738.88 659.61 739.03 659.7 740.71 659.79 740.17 659.88 737.6 659.98 732.76 660.07 735.06 660.16 738.88 660.25 740.41 660.34 736.33 660.43 735.36 660.52 744.87 660.61 735.25 660.7 738.44 660.79 735.22 660.88 732.94 660.97 729.51 661.06 734.68 661.15 733.64 661.24 742.3 661.33 731.95 661.42 736.02 661.51 741.94 661.6 738.2 661.69 741.47 661.78 742.87 661.87 729.92 661.96 736.48 662.05 733.41 662.14 745.32 662.23 737.55 662.32 740.62 662.41 746.54 662.5 735.69 662.59 738.11 662.68 740.12 662.77 736.34 662.86 744.21 662.95 741.47 663.04 736.47 663.13 737.36 663.22 735.1 663.32 734.56 663.41 735.03 663.5 728.25 663.59 738.7 663.68 741.25 663.77 737.08 663.86 734.58 663.95 737.44 664.04 739.36 664.13 739.98 664.22 747.81 664.31 734.13 664.4 740.59 664.49 742.27 664.58 739.1 664.67 737.75 664.76 733.57 664.85 736.07 664.94 743.14 665.03 747.16 665.12 736.37 665.21 741.95 665.3 742.59 665.39 745.31 665.48 741.4 665.57 742.67 665.66 744.99 665.75 734.34 665.84 740.6 665.93 731.37 666.02 730.22 666.11 736.46 666.2 732.65 666.29 743.15 666.38 745.78 666.47 739.17 666.56 740.02 666.65 739.73 666.75 739.7 666.84 741.81 666.93 742.86 667.02 738.49 667.11 736.4 667.2 737.79 667.29 744.43 667.38 737.96 667.47 747.49 667.56 738.62 667.65 746.79 667.74 733.36 667.83 735.69 667.92 741.98 668.01 742 668.1 738.45 668.19 748.76 668.28 738.9 668.37 740.41 668.46 735.86 668.55 746.95 668.64 742.82 668.73 740.63 668.82 729.99 668.91 739.82 669 735.5 669.09 740.01 669.18 742.46 669.27 733.91 669.36 738.71 669.45 741.79 669.54 738.3 669.63 735.57 669.72 731.64 669.81 733.98 669.9 730.94 669.99 742.68 670.08 738.13 670.18 731.6 670.27 737.63 670.36 730.82 670.45 727.49 670.54 744.02 670.63 743.48 670.72 730.1 670.81 734.05 670.9 738.56 670.99 735.8 671.08 733.68 671.17 735.96 671.26 736.85 671.35 735.43 671.44 739.06 671.53 736.53 671.62 733.76 671.71 737.66 671.8 729.26 671.89 745.33 671.98 728.3 672.07 736.69 672.16 738.97 672.25 739.42 672.34 738.57 672.43 744.11 672.52 732.07 672.61 737.13 672.7 738.01 672.79 734.66 672.88 734.14 672.97 744.1 673.06 734.49 673.15 735.48 673.24 736.81 673.33 737.45 673.42 738.98 673.52 737.12 673.61 740.13 673.7 739.04 673.79 740.93 673.88 745.53 673.97 734.48 674.06 746.84 674.15 736.01 674.24 741.94 674.33 738.93 674.42 736.57 674.51 728.48 674.6 746.55 674.69 734.3 674.78 733.95 674.87 743.48 674.96 738.51 675.05 748.53 675.14 747.63 675.23 742.83 675.32 740.52 675.41 743.17 675.5 732.66 675.59 740.36 675.68 740.52 675.77 737.02 675.86 740.55 675.95 731.84 676.04 743.5 676.13 745.22 676.22 732.3 676.31 739.8 676.4 747.1 676.49 741.77 676.58 734.31 676.67 734.25 676.76 743.66 676.85 748.72 676.95 733.93 677.04 739.3 677.13 735.3 677.22 737.28 677.31 740.33 677.4 738.37 677.49 735.13 677.58 748.53 677.67 738 677.76 737.94 677.85 744.55 677.94 739.71 678.03 738.52 678.12 744.18 678.21 733.89 678.3 743.18 678.39 744.31 678.48 742.31 678.57 737.79 678.66 738.08 678.75 729.25 678.84 737.34 678.93 739.52 679.02 742.66 679.11 739.22 679.2 736.35 679.29 733.97 679.38 738.56 679.47 739.95 679.56 745 679.65 738.82 679.74 736.35 679.83 738.4 679.92 736.24 680.01 737.4 680.1 728.07 680.19 729.6 680.28 731.75 680.38 740.11 680.47 737.37 680.56 738.42 680.65 743.98 680.74 732.73 680.83 743.98 680.92 739.71 681.01 734 681.1 745.21 681.19 730.46 681.28 732.28 681.37 737 681.46 739.7 681.55 736.62 681.64 727.71 681.73 736.07 681.82 737.07 681.91 747.22 682 744.46 682.09 738.08 682.18 731.98 682.27 739.22 682.36 731.44 682.45 737.85 682.54 738.56 682.63 734.35 682.72 737.22 682.81 733.98 682.9 733 682.99 743.15 683.08 737.89 683.17 733.47 683.26 731.49 683.35 735.87 683.44 737.91 683.53 739.49 683.62 742.72 683.72 737.57 683.81 729.91 683.9 745.42 683.99 741.71 684.08 739.66 684.17 742.08 684.26 727.69 684.35 733.41 684.44 732.96 684.53 741.85 684.62 730.05 684.71 734.23 684.8 743.26 684.89 738.45 684.98 732.97 685.07 744.64 685.16 728.19 685.25 736.91 685.34 733.84 685.43 737.92 685.52 734.02 685.61 731.27 685.7 736.31 685.79 723.71 685.88 738.19 685.97 734.11 686.06 740.36 686.15 733.54 686.24 739.2 686.33 738.39 686.42 743.06 686.51 726.58 686.6 737.59 686.69 740.5 686.78 730.64 686.87 733.31 686.96 741.27 687.05 728.88 687.15 734.92 687.24 746.49 687.33 733.46 687.42 733.85 687.51 728.03 687.6 732.25 687.69 731.73 687.78 746.44 687.87 743.67 687.96 731.28 688.05 747.4 688.14 741.33 688.23 736.59 688.32 741.55 688.41 739.37 688.5 734.03 688.59 729.25 688.68 733.77 688.77 738.8 688.86 736.96 688.95 734.91 689.04 739.66 689.13 733.16 689.22 742.72 689.31 736.05 689.4 739.19 689.49 733.18 689.58 738.62 689.67 735.19 689.76 730.29 689.85 739.25 689.94 739.22 690.03 743.56 690.12 740.65 690.21 733.78 690.3 735.48 690.39 728.31 690.48 732.82 690.58 744.97 690.67 745.76 690.76 741.78 690.85 739.82 690.94 741.33 691.03 740.92 691.12 729.87 691.21 734.11 691.3 744.57 691.39 744.27 691.48 740.1 691.57 737.06 691.66 736.71 691.75 735.46 691.84 733.49 691.93 728.67 692.02 738.82 692.11 735.71 692.2 737.08 692.29 746.46 692.38 740.18 692.47 733.99 692.56 740.48 692.65 730.25 692.74 742.87 692.83 738.81 692.92 731.48 693.01 740.31 693.1 744.76 693.19 734.94 693.28 731.91 693.37 746.55 693.46 736.39 693.55 743.2 693.64 732.15 693.73 737.64 693.82 732.7 693.92 739.51 694.01 735.26 694.1 733.25 694.19 744.57 694.28 738.39 694.37 726.64 694.46 730.77 694.55 731.46 694.64 729.71 694.73 732.76 694.82 733.17 694.91 735.94 695 732.16 695.09 726.53 695.18 733.3 695.27 740.48 695.36 729.47 695.45 739.41 695.54 738.03 695.63 733.98 695.72 737.71 695.81 732.34 695.9 734.33 695.99 731.55 696.08 739.23 696.17 743.8 696.26 733.07 696.35 742.42 696.44 726.63 696.53 732.2 696.62 731.88 696.71 745.71 696.8 734.34 696.89 741.18 696.98 727.36 697.07 737.36 697.16 739.9 697.25 736.8 697.35 726.88 697.44 737.71 697.53 740.15 697.62 742.53 697.71 737.88 697.8 726.9 697.89 734.77 697.98 740.72 698.07 731.98 698.16 739.2 698.25 734.19 698.34 737.46 698.43 741.04 698.52 733.35 698.61 746.97 698.7 737.95 698.79 739.02 698.88 733.37 698.97 737.43 699.06 735.73 699.15 729.88 699.24 729.42 699.33 738.52 699.42 736.53 699.51 726.89 699.6 726.85 699.69 735.19 699.78 736.59 699.87 740.18 699.96 731.04 700.05 740.17 700.14 735.37 700.23 734.16 700.32 735.74 700.41 741.2 700.5 738.83 700.59 740.69 700.68 733.21 700.78 735.16 700.87 731.03 700.96 734.04 701.05 734.92 701.14 734.78 701.23 740.61 701.32 738.98 701.41 740.49 701.5 737.28 701.59 741.93 701.68 736.63 701.77 740.93 701.86 738.53 701.95 739.55 702.04 735.49 702.13 729.46 702.22 728.11 702.31 745.22 702.4 737.09 702.49 737.87 702.58 735.26 702.67 733.74 702.76 746.11 702.85 730.42 702.94 735.88 703.03 735.82 703.12 730.12 703.21 733.3 703.3 732.54 703.39 733.85 703.48 732.9 703.57 739.28 703.66 729.23 703.75 737.42 703.84 742.83 703.93 739.7 704.02 729.63 704.12 726.02 704.21 740.29 704.3 738.19 704.39 732.95 704.48 742.36 704.57 733.62 704.66 736.2 704.75 730.25 704.84 737.4 704.93 733.69 705.02 733.57 705.11 741.64 705.2 737.49 705.29 728.83 705.38 739.83 705.47 740.89 705.56 732.04 705.65 734.18 705.74 736.26 705.83 731.28 705.92 736.43 706.01 738.89 706.1 732.54 706.19 744.73 706.28 731.26 706.37 732.3 706.46 745.2 706.55 745.23 706.64 735.69 706.73 734.54 706.82 729.63 706.91 741.34 707 737.12 707.09 732.41 707.18 739.09 707.27 744.16 707.36 740.49 707.45 747.43 707.55 743.57 707.64 739.85 707.73 737.74 707.82 740.31 707.91 743.88 708 741.61 708.09 742.49 708.18 738.45 708.27 741.13 708.36 743.7 708.45 736.33 708.54 730.45 708.63 745.83 708.72 739.88 708.81 734.16 708.9 738.13 708.99 735.46 709.08 727.84 709.17 735.82 709.26 729.46 709.35 738.26 709.44 736.7 709.53 743.13 709.62 737.14 709.71 739.21 709.8 735.8 709.89 735.24 709.98 729.7 710.07 741.67 710.16 737.3 710.25 733.7 710.34 737.84 710.43 735.07 710.52 733.15 710.61 737.56 710.7 742.17 710.79 734.71 710.88 728.61 710.98 732.84 711.07 744.72 711.16 731.26 711.25 741.39 711.34 733.52 711.43 738.61 711.52 734.17 711.61 727.34 711.7 733.72 711.79 745.83 711.88 735.25 711.97 738.87 712.06 734.69 712.15 735.81 712.24 738.26 712.33 739.03 712.42 747.1 712.51 737.41 712.6 736.69 712.69 733.71 712.78 730.62 712.87 729.15 712.96 740.55 713.05 727.89 713.14 744.93 713.23 741.79 713.32 736.08 713.41 731.64 713.5 737.53 713.59 737.82 713.68 743.19 713.77 733.65 713.86 734.84 713.95 736.51 714.04 734.9 714.13 732.98 714.22 727.8 714.32 728.31 714.41 732.8 714.5 735.51 714.59 741.79 714.68 746.85 714.77 745.96 714.86 739.59 714.95 747.54 715.04 737.8 715.13 735.91 715.22 748.06 715.31 732.21 715.4 740.59 715.49 736.29 715.58 744.98 715.67 734.31 715.76 741.27 715.85 735.22 715.94 730.82 716.03 738.2 716.12 737.47 716.21 730.67 716.3 732.64 716.39 732.93 716.48 741.92 716.57 738.98 716.66 737.36 716.75 738.52 716.84 734.16 716.93 739.24 717.02 733.67 717.11 729.97 717.2 733.03 717.29 738 717.38 737.05 717.47 741.72 717.56 727.92 717.65 735.5 717.75 738.4 717.84 731.41 717.93 737.81 718.02 734.22 718.11 730.13 718.2 741.75 718.29 728.71 718.38 740.71 718.47 733.4 718.56 730.47 718.65 730.39 718.74 730.86 718.83 730.21 718.92 736.13 719.01 724.91 719.1 740.94 719.19 738.55 719.28 741.32 719.37 728.94 719.46 723.93 719.55 731.31 719.64 733.69 719.73 736.23 719.82 732.2 719.91 734.34 720 735.5 720.09 726.94 720.18 744.33 720.27 729.85 720.36 737.1 720.45 741.16 720.54 731.94 720.63 736.14 720.72 744.52 720.81 734.78 720.9 741.23 720.99 737.73 721.08 737.93 721.18 740.46 721.27 735.37 721.36 736.23 721.45 741.99 721.54 738.48 721.63 740.3 721.72 731.21 721.81 737.12 721.9 743.64 721.99 741.63 722.08 738.76 722.17 734.25 722.26 733.91 722.35 739.44 722.44 744.33 722.53 737.25 722.62 743.89 722.71 735.38 722.8 743.48 722.89 732.94 722.98 739.34 723.07 733.12 723.16 741.72 723.25 740.91 723.34 732.95 723.43 734.31 723.52 735.86 723.61 730.66 723.7 733.36 723.79 734.25 723.88 742.1 723.97 745.21 724.06 735.78 724.15 736.54 724.24 738.74 724.33 734.91 724.42 736.19 724.52 742.14 724.61 738.87 724.7 737.09 724.79 734.55 724.88 745.41 724.97 734.04 725.06 737.67 725.15 731.4 725.24 733.92 725.33 738.01 725.42 735.56 725.51 740.19 725.6 738.74 725.69 731.43 725.78 728.29 725.87 743.51 725.96 735.35 726.05 746.15 726.14 738.41 726.23 734.49 726.32 741.16 726.41 736.86 726.5 737.63 726.59 732.48 726.68 740.02 726.77 742.26 726.86 734.28 726.95 746.08 727.04 733.79 727.13 737.27 727.22 727.39 727.31 725.82 727.4 744.99 727.49 742.4 727.58 740.79 727.67 726.05 727.76 736.33 727.85 737.67 727.95 732.17 728.04 737.26 728.13 731.02 728.22 735.16 728.31 730.3 728.4 734.21 728.49 737.88 728.58 732.27 728.67 735.04 728.76 734.66 728.85 736.49 728.94 740.81 729.03 736.99 729.12 737.46 729.21 727.65 729.3 732.99 729.39 739.49 729.48 730.84 729.57 732.94 729.66 730.43 729.75 742.63 729.84 733.51 729.93 732.38 730.02 739.44 730.11 741.95 730.2 739.13 730.29 741.54 730.38 737.96 730.47 736.23 730.56 734.57 730.65 734.15 730.74 734.09 730.83 739.09 730.92 736.76 731.01 738.06 731.1 740.7 731.19 737.71 731.28 731.14 731.38 733.79 731.47 731.79 731.56 727.88 731.65 738.38 731.74 731.78 731.83 731.03 731.92 732.09 732.01 742.13 732.1 735.62 732.19 741.85 732.28 736.29 732.37 734.08 732.46 739.27 732.55 739.39 732.64 736.92 732.73 731.03 732.82 734.29 732.91 730.35 733 734.84 733.09 736.79 733.18 743.84 733.27 743.55 733.36 739.6 733.45 741.19 733.54 737.11 733.63 745.3 733.72 742.5 733.81 744.67 733.9 737 733.99 737.04 734.08 740.46 734.17 735.99 734.26 736.65 734.35 730.36 734.44 740.5 734.53 736.26 734.62 739.6 734.72 734.54 734.81 726.27 734.9 738.03 734.99 741.02 735.08 728.54 735.17 730.18 735.26 733.35 735.35 733.55 735.44 726.41 735.53 744.19 735.62 740.21 735.71 732.34 735.8 726.61 735.89 737.94 735.98 746.52 736.07 740.78 736.16 742.64 736.25 732.33 736.34 738.35 736.43 729.79 736.52 747.56 736.61 740.58 736.7 727.89 736.79 728.39 736.88 739.88 736.97 738.03 737.06 735.46 737.15 740.26 737.24 747.37 737.33 740.03 737.42 729.14 737.51 737.58 737.6 731.57 737.69 733.54 737.78 739.49 737.87 737.09 737.96 732.23 738.05 737.26 738.15 733.36 738.24 739.99 738.33 735.91 738.42 739.07 738.51 735.37 738.6 740.79 738.69 736.56 738.78 737.12 738.87 734.27 738.96 737.85 739.05 728.51 739.14 747.13 739.23 733.92 739.32 737.82 739.41 734.83 739.5 734.37 739.59 738.62 739.68 733.56 739.77 733.75 739.86 728.86 739.95 730.97 740.04 729.32 740.13 744.73 740.22 727.96 740.31 728.72 740.4 735.5 740.49 742 740.58 726.18 740.67 727.2 740.76 736.12 740.85 737.48 740.94 728.64 741.03 726.53 741.12 730.98 741.21 739.36 741.3 735.63 741.39 739.28 741.48 735.12 741.58 736.17 741.67 739.53 741.76 735.58 741.85 737.46 741.94 731.81 742.03 733.57 742.12 739.42 742.21 735.9 742.3 732.72 742.39 740.09 742.48 739.46 742.57 736.61 742.66 732.66 742.75 741.41 742.84 746.44 742.93 731.82 743.02 728.15 743.11 732.31 743.2 731.86 743.29 730.37 743.38 730.97 743.47 741.66 743.56 741.95 743.65 745.24 743.74 741.33 743.83 735.8 743.92 744.03 744.01 735.38 744.1 736.6 744.19 732.23 744.28 744.36 744.37 742.99 744.46 735.36 744.55 735.81 744.64 737.51 744.73 738.15 744.82 741.7 744.92 738.1 745.01 740.04 745.1 729.96 745.19 735.56 745.28 727.97 745.37 746.42 745.46 744.44 745.55 740.92 745.64 742.93 745.73 747.26 745.82 741.81 745.91 729.1 746 735.69 746.09 726.47 746.18 732.44 746.27 730.18 746.36 736.79 746.45 739.11 746.54 732.88 746.63 736.14 746.72 738.81 746.81 735.99 746.9 735.76 746.99 726.81 747.08 734.25 747.17 740.95 747.26 737.85 747.35 729 747.44 735.18 747.53 737.82 747.62 731.1 747.71 739.44 747.8 731.77 747.89 734.13 747.98 735.36 748.07 746 748.16 734.14 748.25 733 748.35 739.42 748.44 733.59 748.53 736.31 748.62 725.52 748.71 737.04 748.8 735.33 748.89 728.41 748.98 742.07 749.07 733.83 749.16 734.25 749.25 728.66 749.34 727 749.43 732.3 749.52 727.94 749.61 738.49 749.7 740.75 749.79 732.96 749.88 727.88 749.97 733.86 750.06 730.47 750.15 736.47 750.24 736.52 750.33 733.27 750.42 735.84 750.51 741.14 750.6 744.51 750.69 733.02 750.78 738.75 750.87 733.98 750.96 729.56 751.05 742.01 751.14 737.43 751.23 736.29 751.32 737.71 751.41 735.57 751.5 730.68 751.59 745.18 751.68 740.92 751.78 737.47 751.87 741.09 751.96 742.8 752.05 734.86 752.14 739.13 752.23 734.38 752.32 738.97 752.41 734.98 752.5 746.71 752.59 734.4 752.68 739.15 752.77 738.72 752.86 734.76 752.95 741.19 753.04 736.06 753.13 734.21 753.22 736.27 753.31 732.58 753.4 742.45 753.49 739.76 753.58 741.41 753.67 729.37 753.76 737.6 753.85 732.43 753.94 737.05 754.03 743.57 754.12 737.9 754.21 735.87 754.3 742.4 754.39 742.08 754.48 746.35 754.57 727.21 754.66 737.85 754.75 734.28 754.84 731.85 754.93 736.7 755.02 730.26 755.12 726.74 755.21 731.99 755.3 735.04 755.39 745.98 755.48 732.47 755.57 730.21 755.66 726.83 755.75 735.05 755.84 735.57 755.93 738.02 756.02 729.42 756.11 732.87 756.2 727.19 756.29 737.5 756.38 728.35 756.47 726.55 756.56 741.96 756.65 738.65 756.74 737.56 756.83 737.51 756.92 730.45 757.01 741.14 757.1 729.57 757.19 744.78 757.28 736.28 757.37 725.61 757.46 739.33 757.55 745.07 757.64 733.39 757.73 740.44 757.82 733.65 757.91 731.64 758 725.23 758.09 741.77 758.18 733.76 758.27 738 758.36 730.52 758.45 736.15 758.55 742.32 758.64 734.24 758.73 734.12 758.82 729.84 758.91 737.43 759 740.74 759.09 734.32 759.18 735.85 759.27 730.22 759.36 743.4 759.45 732.86 759.54 735.21 759.63 744.67 759.72 734.86 759.81 727.75 759.9 730.96 759.99 734.43 760.08 745.11 760.17 737.44 760.26 735.14 760.35 740.83 760.44 743.31 760.53 732.95 760.62 744.32 760.71 741.97 760.8 739.67 760.89 727.56 760.98 738.51 761.07 744.68 761.16 735.95 761.25 747.53 761.34 737.64 761.43 732.46 761.52 740.53 761.61 738.64 761.7 741.05 761.79 735.65 761.88 743.34 761.98 733.57 762.07 737.13 762.16 729.81 762.25 732.43 762.34 737.86 762.43 733.26 762.52 734.23 762.61 734.92 762.7 737.63 762.79 740.31 762.88 740.62 762.97 742.38 763.06 738.62 763.15 734.77 763.24 729.16 763.33 735.96 763.42 734.08 763.51 729.26 763.6 746.96 763.69 729.12 763.78 740.77 763.87 741.58 763.96 737.64 764.05 749.13 764.14 738.83 764.23 734.5 764.32 747.44 764.41 734.5 764.5 731.33 764.59 733.74 764.68 735.45 764.77 739.07 764.86 740.92 764.95 731.33 765.04 740.76 765.13 748.96 765.22 735.56 765.32 738.83 765.41 742.66 765.5 745.49 765.59 735.97 765.68 734.5 765.77 734.23 765.86 744.71 765.95 743.39 766.04 728.86 766.13 729.04 766.22 732.87 766.31 731.61 766.4 741.44 766.49 740.04 766.58 748.91 766.67 743.07 766.76 739.27 766.85 745.31 766.94 734.44 767.03 731.69 767.12 739.2 767.21 743.29 767.3 729.66 767.39 742.53 767.48 742.43 767.57 735.09 767.66 738.64 767.75 736.6 767.84 738.42 767.93 741.97 768.02 733.77 768.11 743.55 768.2 742.17 768.29 742.56 768.38 727.84 768.47 727.53 768.56 740.8 768.65 733.93 768.75 733.51 768.84 733.28 768.93 730.02 769.02 735.9 769.11 733.61 769.2 733.86 769.29 740.03 769.38 731.28 769.47 743.36 769.56 727.97 769.65 747.8 769.74 730.43 769.83 740.71 769.92 742.56 770.01 737.65 770.1 741.6 770.19 737.02 770.28 728.28 770.37 739.21 770.46 743.14 770.55 734.36 770.64 728.41 770.73 734.29 770.82 739.84 770.91 740.19 771 744.42 771.09 742.19 771.18 742.32 771.27 729.39 771.36 749.36 771.45 739.76 771.54 744 771.63 737.62 771.72 738.34 771.81 739.81 771.9 747.55 771.99 747.48 772.08 742.85 772.18 749.94 772.27 738.09 772.36 742.99 772.45 737.18 772.54 746.51 772.63 739.49 772.72 744.11 772.81 748.05 772.9 725.09 772.99 749.02 773.08 740.24 773.17 736.68 773.26 728.61 773.35 737.17 773.44 728.54 773.53 738.67 773.62 737.53 773.71 747.94 773.8 736.49 773.89 744.11 773.98 744.57 774.07 748.68 774.16 737.23 774.25 742.76 774.34 730.19 774.43 732.17 774.52 736.44 774.61 737.51 774.7 730.79 774.79 734.62 774.88 740.56 774.97 734.38 775.06 736.09 775.15 732.34 775.24 743.9 775.33 745.86 775.42 737.63 775.52 735.88 775.61 745.28 775.7 739.46 775.79 733.47 775.88 729.77 775.97 733.61 776.06 747.38 776.15 733.65 776.24 747.19 776.33 737.33 776.42 735.99 776.51 744.17 776.6 735.84 776.69 739.58 776.78 732.01 776.87 730.66 776.96 733.45 777.05 738.39 777.14 733.31 777.23 726.91 777.32 733.91 777.41 735.47 777.5 734.49 777.59 733.09 777.68 726.15 777.77 744.76 777.86 733.63 777.95 739.14 778.04 743.37 778.13 741.96 778.22 737.45 778.31 736.48 778.4 738.21 778.49 740.99 778.58 739.28 778.67 733.52 778.76 738.38 778.85 738.13 778.95 739.93 779.04 737.19 779.13 743.83 779.22 737.23 779.31 740.78 779.4 736.7 779.49 733.65 779.58 731.62 779.67 735.66 779.76 739.77 779.85 743.69 779.94 736.19 780.03 734.08 780.12 733.72 780.21 743.7 780.3 737.47 780.39 734.44 780.48 741.31 780.57 730.35 780.66 737.78 780.75 737.67 780.84 736.96 780.93 731.43 781.02 743.55 781.11 747.52 781.2 731.86 781.29 739.45 781.38 741.7 781.47 748.53 781.56 736.6 781.65 734.17 781.74 739.38 781.83 748.97 781.92 739.43 782.01 740.6 782.1 748.59 782.19 729.07 782.28 729.18 782.38 743.79 782.47 743.32 782.56 731.91 782.65 742.05 782.74 739.17 782.83 740.34 782.92 735.08 783.01 736.51 783.1 734.24 783.19 739.32 783.28 737.64 783.37 747.61 783.46 741.83 783.55 731.01 783.64 741.37 783.73 747.15 783.82 740.62 783.91 744.75 784 739.01 784.09 742.75 784.18 733.96 784.27 742.97 784.36 731.34 784.45 745.39 784.54 727.94 784.63 729.05 784.72 741.47 784.81 737.17 784.9 738.53 784.99 739.99 785.08 737.18 785.17 732.53 785.26 738.22 785.35 738.5 785.44 739.29 785.53 746.5 785.62 732.13 785.72 736.71 785.81 739.53 785.9 734.77 785.99 730.61 786.08 734.02 786.17 742.47 786.26 735.71 786.35 740.15 786.44 733.23 786.53 739.21 786.62 733.09 786.71 732.2 786.8 737.23 786.89 737.08 786.98 744.67 787.07 728.73 787.16 739.06 787.25 744.75 787.34 743 787.43 733.95 787.52 732.58 787.61 733.26 787.7 737.19 787.79 736.76 787.88 737.77 787.97 744.85 788.06 730.68 788.15 730.37 788.24 729.95 788.33 729.31 788.42 736.2 788.51 738.18 788.6 746.97 788.69 740.21 788.78 737.57 788.87 744.79 788.96 733.51 789.05 739.11 789.15 742.17 789.24 741.56 789.33 739.73 789.42 735.4 789.51 729.94 789.6 736.12 789.69 733.3 789.78 740.21 789.87 735.45 789.96 739.45 790.05 728.11 790.14 741.73 790.23 732.51 790.32 728.83 790.41 729.83 790.5 734.02 790.59 743.09 790.68 740.65 790.77 731.14 790.86 737.77 790.95 737.11 791.04 729.55 791.13 732.33 791.22 727.9 791.31 733.59 791.4 728.18 791.49 734.08 791.58 733.16 791.67 733.6 791.76 733.67 791.85 743.74 791.94 736.07 792.03 739.27 792.12 742.36 792.21 743.22 792.3 741.91 792.39 735.17 792.48 732.01 792.58 733.87 792.67 735.55 792.76 738.26 792.85 738.24 792.94 743.78 793.03 738 793.12 748.56 793.21 744.49 793.3 737.16 793.39 743.86 793.48 729.43 793.57 746.59 793.66 741.34 793.75 741.57 793.84 730.59 793.93 749.41 794.02 738.06 794.11 738.24 794.2 744.67 794.29 737.79 794.38 734.51 794.47 742.34 794.56 733.71 794.65 742.59 794.74 739.27 794.83 744.39 794.92 732.23 795.01 744.8 795.1 739.79 795.19 747.93 795.28 735.17 795.37 747.65 795.46 741.9 795.55 742.1 795.64 734.16 795.73 740.6 795.82 740.97 795.92 733.28 796.01 731.78 796.1 734.05 796.19 745.49 796.28 739.15 796.37 743.56 796.46 739.74 796.55 739.15 796.64 739.75 796.73 736.23 796.82 744.79 796.91 738.9 797 739.42 797.09 731.06 797.18 740.03 797.27 735.31 797.36 735.87 797.45 743.95 797.54 733.09 797.63 737.6 797.72 741.79 797.81 744.7 797.9 736.23 797.99 740.56 798.08 740.77 798.17 733.39 798.26 729.21 798.35 729.57 798.44 742.6 798.53 740.33 798.62 732.99 798.71 736.65 798.8 738.19 798.89 738.06 798.98 739.8 799.07 749.65 799.16 735.67 799.25 740.69 799.35 736.45 799.44 737.04 799.53 735.36 799.62 738.42 799.71 736.67 799.8 741.42 799.89 740.31 799.98 734.49 800.07 748.86 800.16 732.53 800.25 740.06 800.34 748.41 800.43 734.72 800.52 745.23 800.61 745.4 800.7 739.94 800.79 728.51 800.88 745.39 800.97 738.52 801.06 735.22 801.15 744.51 801.24 734.03 801.33 743.92 801.42 735.31 801.51 740.64 801.6 732.19 801.69 735.15 801.78 732.4 801.87 734.03 801.96 738.39 802.05 736.76 802.14 738.67 802.23 744.46 802.32 731.28 802.41 727.65 802.5 735.72 802.59 737.67 802.68 742.29 802.78 742.38 802.87 741.64 802.96 735.15 803.05 739.68 803.14 729.36 803.23 743.98 803.32 739.83 803.41 740.2 803.5 735.91 803.59 737.9 803.68 734.74 803.77 741.68 803.86 732 803.95 743.67 804.04 741.55 804.13 749.22 804.22 739.3 804.31 739.04 804.4 740.35 804.49 739.19 804.58 738.36 804.67 732.91 804.76 732.75 804.85 735.76 804.94 736.64 805.03 732.11 805.12 732.48 805.21 737.29 805.3 748.76 805.39 738.5 805.48 742.93 805.57 744.85 805.66 743.53 805.75 737.04 805.84 736.87 805.93 729.45 806.02 735.92 806.12 741.97 806.21 734.2 806.3 746.96 806.39 747.69 806.48 738.23 806.57 744.91 806.66 732.95 806.75 734.69 806.84 737.93 806.93 739.55 807.02 738.29 807.11 727.97 807.2 748.69 807.29 739.96 807.38 740 807.47 741.8 807.56 739 807.65 736.58 807.74 734.93 807.83 729.39 807.92 745.72 808.01 733.21 808.1 729.61 808.19 734.42 808.28 730.53 808.37 748.72 808.46 740.44 808.55 746.1 808.64 746.03 808.73 741.35 808.82 741.12 808.91 734.06 809 737.28 809.09 734.37 809.18 737.39 809.27 733.42 809.36 743.55 809.45 741.52 809.55 737.09 809.64 729.09 809.73 741.46 809.82 741.99 809.91 737.31 810 730.67 810.09 739.33 810.18 742.26 810.27 727.17 810.36 739.6 810.45 727.16 810.54 737.44 810.63 746.62 810.72 737.73 810.81 739.96 810.9 735.59 810.99 736.9 811.08 747.52 811.17 744.6 811.26 735.9 811.35 735.6 811.44 737.25 811.53 747.02 811.62 738.1 811.71 742.44 811.8 734.32 811.89 729.21 811.98 742.99 812.07 735.68 812.16 732.11 812.25 732.94 812.34 733.12 812.43 733.48 812.52 728.82 812.61 742.94 812.7 738.52 812.79 742.02 812.88 735.35 812.98 739.09 813.07 737.47 813.16 742.83 813.25 741.08 813.34 738.73 813.43 733.63 813.52 730.7 813.61 732.94 813.7 734.11 813.79 734.77 813.88 730.89 813.97 746.15 814.06 739.1 814.15 727.33 814.24 731.55 814.33 730.8 814.42 738.91 814.51 743.44 814.6 732.65 814.69 740.76 814.78 736.18 814.87 743.88 814.96 744.56 815.05 739.7 815.14 741.59 815.23 737.73 815.32 736.23 815.41 732.4 815.5 740.18 815.59 737.85 815.68 736.52 815.77 737.71 815.86 737.05 815.95 732.53 816.04 735.24 816.13 744.29 816.22 737.46 816.32 746.3 816.41 732.62 816.5 731.6 816.59 739.12 816.68 742.72 816.77 735.41 816.86 741.28 816.95 742.81 817.04 743.84 817.13 737.56 817.22 738.22 817.31 729.66 817.4 731.92 817.49 739.61 817.58 745.12 817.67 730.92 817.76 733.06 817.85 732.39 817.94 742.2 818.03 727.77 818.12 732.09 818.21 747.42 818.3 740.93 818.39 730.62 818.48 737.16 818.57 742.25 818.66 740.92 818.75 737.37 818.84 734.61 818.93 742.61 819.02 738.16 819.11 742.32 819.2 740.61 819.29 735.75 819.38 745.79 819.47 735.51 819.56 740.31 819.65 734.92 819.75 736.42 819.84 736.06 819.93 733.57 820.02 738.75 820.11 744.08 820.2 747.1 820.29 745.36 820.38 736.33 820.47 744.86 820.56 739.41 820.65 746.71 820.74 731.02 820.83 744.87 820.92 734.26 821.01 743.41 821.1 734.79 821.19 742.49 821.28 736.03 821.37 727.62 821.46 732.52 821.55 736.1 821.64 737.17 821.73 727.43 821.82 731.91 821.91 734.49 822 737.18 822.09 739.3 822.18 733.77 822.27 729.42 822.36 738.75 822.45 735.29 822.54 742.02 822.63 735 822.72 741.13 822.81 732.94 822.9 739.16 822.99 738.42 823.08 740.35 823.18 733.31 823.27 737.51 823.36 733.97 823.45 737.69 823.54 741.96 823.63 748.31 823.72 738.26 823.81 741.71 823.9 738.13 823.99 743.79 824.08 740.47 824.17 743.19 824.26 739.34 824.35 747.09 824.44 744.01 824.53 728.16 824.62 738.7 824.71 737.89 824.8 727.27 824.89 733.48 824.98 736.06 825.07 734.14 825.16 738.49 825.25 728.73 825.34 741.82 825.43 741.77 825.52 738.99 825.61 735.73 825.7 737.84 825.79 735.14 825.88 744.42 825.97 741.01 826.06 748.64 826.15 736.41 826.24 745.41 826.33 734.9 826.42 736.89 826.52 731.95 826.61 740.08 826.7 736.94 826.79 740.52 826.88 744.92 826.97 736.78 827.06 738.79 827.15 741.38 827.24 736.55 827.33 734.41 827.42 738.89 827.51 739.5 827.6 740.73 827.69 740.88 827.78 733.53 827.87 739.59 827.96 744.43 828.05 735.89 828.14 740.49 828.23 735.12 828.32 739.28 828.41 747.38 828.5 739.42 828.59 733.39 828.68 740.25 828.77 740.01 828.86 744.44 828.95 731.22 829.04 733.42 829.13 738.29 829.22 730.95 829.31 744.12 829.4 727.91 829.49 733.12 829.58 729.95 829.67 733.61 829.76 741.12 829.85 740.14 829.95 741.58 830.04 740.27 830.13 727.67 830.22 739.07 830.31 728.1 830.4 734.75 830.49 735.12 830.58 734.57 830.67 739.65 830.76 733.31 830.85 746.48 830.94 736.7 831.03 743.54 831.12 741.62 831.21 742.45 831.3 737.86 831.39 747.64 831.48 732.06 831.57 739 831.66 736.39 831.75 735.31 831.84 738.31 831.93 732.56 832.02 740.61 832.11 740.29 832.2 736.82 832.29 740.13 832.38 730.79 832.47 726.88 832.56 733.32 832.65 734.76 832.74 746.03 832.83 734.22 832.92 740.59 833.01 740.06 833.1 745.72 833.19 736.38 833.28 739.54 833.38 735.36 833.47 732.04 833.56 731.77 833.65 732.38 833.74 743.12 833.83 736.76 833.92 734.72 834.01 735.69 834.1 732.81 834.19 735.47 834.28 735.58 834.37 738.62 834.46 739.56 834.55 726.6 834.64 736.04 834.73 742.03 834.82 729.63 834.91 733.48 835 736.08" fill="none" stroke="#000" stroke-width="1.45" stroke-linejoin="round" stroke-linecap="round"/>
<line x1="620.6" y1="740" x2="620.6" y2="889" stroke="#000" stroke-width="1.8"/>
<path d="M874.3 731.17 874.41 736.79 874.52 732.36 874.63 735.06 874.74 738.49 874.85 739.18 874.96 741.24 875.07 738.49 875.18 736.63 875.28 736.22 875.39 734.88 875.5 733.86 875.61 741.02 875.72 733.64 875.83 739.47 875.94 733.49 876.05 738.04 876.16 726.77 876.27 733.97 876.38 730.66 876.49 738.53 876.6 737.66 876.71 730.73 876.82 733.05 876.93 736.92 877.04 734.73 877.14 733.31 877.25 736.36 877.36 728.59 877.47 737.94 877.58 734.52 877.69 725.99 877.8 729.96 877.91 732.7 878.02 740.05 878.13 733.43 878.24 728.13 878.35 738.2 878.46 735.23 878.57 733.79 878.68 737.65 878.79 732.96 878.9 733.66 879 738.02 879.11 735.77 879.22 737.93 879.33 733.3 879.44 740.25 879.55 730.2 879.66 730.75 879.77 736.78 879.88 734.24 879.99 736.17 880.1 735.27 880.21 734.57 880.32 731.38 880.43 736.39 880.54 739.42 880.65 732.55 880.75 742.19 880.86 741.23 880.97 732.73 881.08 738.11 881.19 731.88 881.3 735.41 881.41 731.92 881.52 734 881.63 729.34 881.74 734.82 881.85 731.68 881.96 732.49 882.07 728.91 882.18 735.63 882.29 741.23 882.4 734.06 882.51 734.84 882.61 731.83 882.72 734.07 882.83 732.3 882.94 730.24 883.05 732.55 883.16 734.2 883.27 736.87 883.38 734.96 883.49 737.65 883.6 741 883.71 739.65 883.82 735.88 883.93 731.53 884.04 736.07 884.15 736.83 884.26 740.27 884.37 737.48 884.47 743.83 884.58 735.77 884.69 738.72 884.8 733.64 884.91 733.86 885.02 736.5 885.13 738.11 885.24 739.37 885.35 729.68 885.46 740.56 885.57 741.69 885.68 740.86 885.79 739.08 885.9 735.75 886.01 738.08 886.12 741.01 886.23 733.47 886.33 738.37 886.44 737.45 886.55 735.01 886.66 740.8 886.77 728.39 886.88 730.76 886.99 733.83 887.1 731.7 887.21 738.18 887.32 728.81 887.43 729.84 887.54 735.11 887.65 736.99 887.76 730.49 887.87 738.65 887.98 727.88 888.09 737.26 888.19 730.69 888.3 731.5 888.41 739.01 888.52 733.35 888.63 731.15 888.74 734.22 888.85 739.93 888.96 733.94 889.07 730.43 889.18 733.89 889.29 728.49 889.4 730.05 889.51 730.39 889.62 734.24 889.73 730.71 889.84 734.1 889.95 736.67 890.05 737.93 890.16 727.3 890.27 732.85 890.38 728.98 890.49 734.99 890.6 733.67 890.71 733.01 890.82 731.36 890.93 729.79 891.04 727.51 891.15 736.45 891.26 733.22 891.37 734.29 891.48 734.8 891.59 736.17 891.7 740.02 891.81 733.21 891.91 736.02 892.02 727.92 892.13 731.91 892.24 731.08 892.35 731.98 892.46 737.51 892.57 734.19 892.68 734.3 892.79 734.32 892.9 733.59 893.01 733.71 893.12 732.21 893.23 732.82 893.34 733.76 893.45 734.5 893.56 728.69 893.66 735.43 893.77 735.63 893.88 737.18 893.99 732.02 894.1 732.86 894.21 738.4 894.32 732.98 894.43 736.53 894.54 732.95 894.65 730.8 894.76 729.84 894.87 733.18 894.98 733.65 895.09 731.24 895.2 739.88 895.31 735.49 895.42 732.56 895.52 740.01 895.63 737.59 895.74 732.44 895.85 732.01 895.96 734.76 896.07 737.51 896.18 730.66 896.29 739.04 896.4 734.36 896.51 738.22 896.62 734.6 896.73 736.77 896.84 737.18 896.95 739.18 897.06 731.95 897.17 740.72 897.28 730.43 897.38 735.49 897.49 737 897.6 734.82 897.71 737.7 897.82 729.18 897.93 734.71 898.04 738.18 898.15 734.98 898.26 731.5 898.37 735.47 898.48 735.96 898.59 732.03 898.7 739.91 898.81 733.98 898.92 732.02 899.03 735.79 899.14 733.22 899.24 734.59 899.35 735.71 899.46 733.24 899.57 736.25 899.68 734.5 899.79 737.67 899.9 730.76 900.01 734.3 900.12 735.44 900.23 735.48 900.34 727.47 900.45 730.63 900.56 735.23 900.67 735.67 900.78 733.33 900.89 734.01 901 737.8 901.1 732.66 901.21 731.91 901.32 739.37 901.43 736.44 901.54 733.79 901.65 731.84 901.76 739.43 901.87 733.36 901.98 731.36 902.09 738.01 902.2 729.03 902.31 733.32 902.42 735.51 902.53 732.41 902.64 732.15 902.75 735.46 902.86 730.21 902.96 734.4 903.07 737.25 903.18 731.23 903.29 739.08 903.4 733.85 903.51 734.51 903.62 733.23 903.73 736.66 903.84 733.19 903.95 735.63 904.06 739.31 904.17 740.03 904.28 730.63 904.39 739.94 904.5 733.38 904.61 736.07 904.71 734.89 904.82 735.54 904.93 732.93 905.04 732.03 905.15 738.44 905.26 733.01 905.37 735.23 905.48 738.18 905.59 739.02 905.7 736.77 905.81 736.89 905.92 737.37 906.03 734.89 906.14 736.79 906.25 734.95 906.36 734.87 906.47 728.53 906.57 729.97 906.68 736.78 906.79 737.7 906.9 736.79 907.01 735.83 907.12 734.66 907.23 737.28 907.34 734.26 907.45 735.02 907.56 740.21 907.67 730.77 907.78 733.77 907.89 734.98 908 730.38 908.11 732.51 908.22 739.9 908.33 737.73 908.43 736.1 908.54 741.03 908.65 733.21 908.76 742.61 908.87 736.05 908.98 734.53 909.09 740.06 909.2 738.35 909.31 737.39 909.42 736.91 909.53 730.68 909.64 729.85 909.75 737.25 909.86 740.45 909.97 734.67 910.08 737.73 910.19 732.59 910.29 732.39 910.4 736.83 910.51 739.87 910.62 740.1 910.73 741.42 910.84 734.39 910.95 736.33 911.06 739 911.17 732.94 911.28 734.65 911.39 735.9 911.5 735.49 911.61 738.35 911.72 736.56 911.83 734.1 911.94 728.73 912.05 738.8 912.15 739.62 912.26 738.25 912.37 737.4 912.48 737.42 912.59 739.57 912.7 734.06 912.81 736.07 912.92 732.59 913.03 734.51 913.14 732.81 913.25 732.95 913.36 729.27 913.47 735.25 913.58 738.61 913.69 728.39 913.8 739.53 913.91 734.73 914.01 732.41 914.12 735.88 914.23 733.91 914.34 729.62 914.45 739.31 914.56 735.6 914.67 736 914.78 734.04 914.89 734.57 915 732.09 915.11 734.11 915.22 732.11 915.33 737.88 915.44 736.37 915.55 736.39 915.66 738.35 915.76 737.79 915.87 732.47 915.98 739.79 916.09 727.54 916.2 738.38 916.31 726.9 916.42 730.95 916.53 733.61 916.64 731.63 916.75 727.15 916.86 729.72 916.97 735.5 917.08 728.93 917.19 736.84 917.3 739.09 917.41 739.94 917.52 736.92 917.62 735.67 917.73 734.88 917.84 743.36 917.95 740.3 918.06 738.45 918.17 737.29 918.28 739.98 918.39 729.99 918.5 739.16 918.61 734.94 918.72 729.43 918.83 740.23 918.94 734.53 919.05 738.43 919.16 734.66 919.27 735.92 919.38 742.82 919.48 739.02 919.59 739.47 919.7 733.13 919.81 741.06 919.92 735.92 920.03 740.03 920.14 734.93 920.25 739.29 920.36 739.91 920.47 733.61 920.58 735.82 920.69 735.12 920.8 742.37 920.91 739.86 921.02 738.6 921.13 745.24 921.24 741.06 921.34 737.41 921.45 741.2 921.56 739.12 921.67 743.26 921.78 734.99 921.89 744.36 922 736.48 922.11 736.86 922.22 735.4 922.33 736.79 922.44 743.56 922.55 737.49 922.66 733.75 922.77 736.44 922.88 737.52 922.99 739.7 923.1 735.86 923.2 737.45 923.31 743.43 923.42 736.36 923.53 737.15 923.64 732.42 923.75 739.08 923.86 734.87 923.97 742.63 924.08 740.09 924.19 738.29 924.3 734 924.41 734.81 924.52 734.92 924.63 736.38 924.74 734.97 924.85 734.04 924.96 735.78 925.06 735.36 925.17 734.39 925.28 738.26 925.39 738.79 925.5 733.59 925.61 742.17 925.72 736.91 925.83 739.94 925.94 741.73 926.05 731.04 926.16 737.2 926.27 738.15 926.38 738.47 926.49 736.92 926.6 737.57 926.71 729.5 926.82 731.31 926.92 736.46 927.03 727.97 927.14 732.25 927.25 733.19 927.36 735.06 927.47 737.12 927.58 735.18 927.69 731.45 927.8 730.92 927.91 734.88 928.02 735.98 928.13 735.38 928.24 734.82 928.35 735.03 928.46 730.47 928.57 735.14 928.67 737.59 928.78 731.42 928.89 736.81 929 737.61 929.11 742.12 929.22 735.13 929.33 735.06 929.44 732.29 929.55 733.41 929.66 732 929.77 731.57 929.88 739.72 929.99 736.65 930.1 737.97 930.21 731.68 930.32 730.45 930.43 731.29 930.53 742.41 930.64 741 930.75 733.07 930.86 737.54 930.97 737.4 931.08 733.7 931.19 735.05 931.3 740.11 931.41 739.75 931.52 739.75 931.63 737.91 931.74 737.15 931.85 738.82 931.96 736.85 932.07 742.79 932.18 738.03 932.29 739.4 932.39 737.29 932.5 735.05 932.61 736.59 932.72 735.25 932.83 732.95 932.94 737.83 933.05 741.44 933.16 735.69 933.27 734.88 933.38 732.4 933.49 730.3 933.6 737.3 933.71 738.1 933.82 733.79 933.93 736.27 934.04 733.33 934.15 740.93 934.25 736.9 934.36 737.97 934.47 742.29 934.58 729.27 934.69 737.31 934.8 737.45 934.91 735.73 935.02 736.93 935.13 740.68 935.24 734.25 935.35 734.34 935.46 741.73 935.57 738.75 935.68 736.87 935.79 737.96 935.9 735.68 936.01 734.36 936.11 735.29 936.22 737.24 936.33 734.94 936.44 731.31 936.55 735.94 936.66 737.51 936.77 735.55 936.88 737.94 936.99 736.08 937.1 737.95 937.21 735.47 937.32 734.14 937.43 736.6 937.54 737.34 937.65 732.98 937.76 731.53 937.87 738.64 937.97 732.68 938.08 735.69 938.19 732.9 938.3 734.71 938.41 738.14 938.52 739.02 938.63 729.45 938.74 729.23 938.85 726.95 938.96 736.21 939.07 739.42 939.18 735.08 939.29 733.2 939.4 736.59 939.51 730.76 939.62 735.66 939.72 738.09 939.83 737.83 939.94 736.3 940.05 732.77 940.16 733.13 940.27 731.26 940.38 740.28 940.49 738.18 940.6 734.03 940.71 733.63 940.82 735.09 940.93 731.72 941.04 735.13 941.15 735.54 941.26 735.25 941.37 734.08 941.48 726.69 941.58 733.32 941.69 729.55 941.8 728.5 941.91 740.45 942.02 732 942.13 732.97 942.24 732.52 942.35 730.54 942.46 738.46 942.57 727.47 942.68 735.33 942.79 732.23 942.9 738.49 943.01 737.32 943.12 734.82 943.23 729.83 943.34 737.21 943.44 738.11 943.55 737.26 943.66 733.9 943.77 737.16 943.88 732.75 943.99 736.6 944.1 736.76 944.21 735.36 944.32 733.15 944.43 735.35 944.54 733.62 944.65 732.51 944.76 739.43 944.87 735.71 944.98 734.86 945.09 735.38 945.2 738.56 945.3 736.35 945.41 735.24 945.52 738.87 945.63 738.69 945.74 735.39 945.85 734.7 945.96 742.18 946.07 737.05 946.18 741.79 946.29 739.38 946.4 737.13 946.51 736.21 946.62 742.03 946.73 734.39 946.84 734.91 946.95 734.21 947.06 739.18 947.16 733.49 947.27 736.49 947.38 731.9 947.49 737.48 947.6 736.81 947.71 736.61 947.82 733.51 947.93 739.55 948.04 742.44 948.15 734.68 948.26 732.34 948.37 736.78 948.48 734.25 948.59 735.16 948.7 736.67 948.81 730.02 948.92 736.83 949.02 731.18 949.13 731.01 949.24 734.15 949.35 740.16 949.46 733.39 949.57 736.99 949.68 732.6 949.79 737.5 949.9 737.16 950.01 739.73 950.12 737.08 950.23 736.45 950.34 730.09 950.45 737.31 950.56 738.66 950.67 736.82 950.77 736.97 950.88 738.5 950.99 739.35 951.1 734.34 951.21 737.07 951.32 738.54 951.43 738.48 951.54 734.67 951.65 731.83 951.76 739.32 951.87 740.25 951.98 743.42 952.09 739.69 952.2 735.72 952.31 739.86 952.42 737.79 952.53 735.43 952.63 732.9 952.74 731.6 952.85 735.24 952.96 735.81 953.07 737.44 953.18 737.44 953.29 738.73 953.4 743.69 953.51 737.03 953.62 742.17 953.73 735.21 953.84 735.73 953.95 736.21 954.06 732.15 954.17 743.29 954.28 738.79 954.39 739.79 954.49 742.76 954.6 738.72 954.71 742.45 954.82 729.86 954.93 740.15 955.04 736.67 955.15 729.35 955.26 739.31 955.37 735.15 955.48 732.39 955.59 728.41 955.7 739.93 955.81 727.5 955.92 734.6 956.03 739.47 956.14 736.45 956.25 732.49 956.35 733.81 956.46 732.33 956.57 734.83 956.68 733.97 956.79 729.69 956.9 728.62 957.01 737.29 957.12 729.49 957.23 729.9 957.34 740.18 957.45 730.29 957.56 728.7 957.67 729.57 957.78 735.11 957.89 729.64 958 731.76 958.11 725.84 958.21 731.38 958.32 734 958.43 734.15 958.54 739.25 958.65 736.48 958.76 727.98 958.87 729.87 958.98 732.58 959.09 733.94 959.2 734.88 959.31 737.35 959.42 729.99 959.53 728.53 959.64 738.03 959.75 732.08 959.86 728.52 959.97 731.98 960.07 734.11 960.18 731.5 960.29 731.81 960.4 738.94 960.51 731.99 960.62 736.63 960.73 736.29 960.84 734.36 960.95 742.61 961.06 731.3 961.17 743.17 961.28 733.03 961.39 734.69 961.5 736.63 961.61 738.67 961.72 737.27 961.83 733.38 961.93 733.3 962.04 738.27 962.15 739.52 962.26 732.95 962.37 739.02 962.48 737.64 962.59 736.33 962.7 731.63 962.81 731.26 962.92 736.77 963.03 728.39 963.14 733.79 963.25 736.77 963.36 729.61 963.47 740.9 963.58 741.1 963.68 732.17 963.79 735.48 963.9 735.73 964.01 734.24 964.12 734.3 964.23 737.73 964.34 741.3 964.45 735.45 964.56 735.36 964.67 735.73 964.78 732.9 964.89 737.87 965 733.64 965.11 732.1 965.22 737.79 965.33 729.36 965.44 733.27 965.54 733.72 965.65 734.78 965.76 729.75 965.87 731.7 965.98 734.64 966.09 737.07 966.2 734.89 966.31 734.56 966.42 732.45 966.53 735.39 966.64 728.65 966.75 737.8 966.86 738.68 966.97 735.19 967.08 732.17 967.19 739.61 967.3 733.49 967.4 739.97 967.51 734.69 967.62 733.5 967.73 736.22 967.84 734.64 967.95 736.34 968.06 738.42 968.17 736.08 968.28 736.08 968.39 737.21 968.5 738.23 968.61 737.19 968.72 739.52 968.83 739.72 968.94 738.7 969.05 739.7 969.16 737.41 969.26 740.81 969.37 738.55 969.48 740.11 969.59 736.52 969.7 731.87 969.81 735.11 969.92 736.55 970.03 737.18 970.14 735.55 970.25 741 970.36 732.02 970.47 730.05 970.58 735.12 970.69 733.86 970.8 736.27 970.91 738.46 971.02 743.14 971.12 732.52 971.23 733.17 971.34 736.3 971.45 731.16 971.56 733.58 971.67 740.99 971.78 736.81 971.89 736.98 972 740.46 972.11 731.07 972.22 737.1 972.33 736.56 972.44 737.75 972.55 733.77 972.66 735.37 972.77 736.06 972.88 739.02 972.98 734.66 973.09 739.16 973.2 730.16 973.31 738.72 973.42 740.17 973.53 734.73 973.64 736.36 973.75 737.59 973.86 738.24 973.97 741.42 974.08 738.02 974.19 736.84 974.3 736.71 974.41 737.91 974.52 739.39 974.63 737.81 974.73 735.35 974.84 735.91 974.95 734 975.06 733.76 975.17 735.14 975.28 734.99 975.39 739.31 975.5 732.59 975.61 736.95 975.72 732.18 975.83 738.55 975.94 737.07 976.05 740.08 976.16 737.96 976.27 732.9 976.38 736.52 976.49 734.28 976.59 734.37 976.7 732.43 976.81 734.51 976.92 735.79 977.03 736.73 977.14 743.21 977.25 735.8 977.36 736.72 977.47 735.8 977.58 735.24 977.69 734.71 977.8 736.06 977.91 735.56 978.02 738.54 978.13 737.35 978.24 733.25 978.35 735.76 978.45 735.91 978.56 733.9 978.67 733.77 978.78 734.47 978.89 736.71 979 735.85 979.11 733.37 979.22 735.13 979.33 739.68 979.44 732.92 979.55 738.23 979.66 735.14 979.77 743.46 979.88 738.52 979.99 736.9 980.1 736.37 980.21 732.18 980.31 735.02 980.42 743.12 980.53 737.7 980.64 735.53 980.75 736.59 980.86 736.69 980.97 733.93 981.08 737.4 981.19 738.37 981.3 731.96 981.41 736.06 981.52 729.88 981.63 731.41 981.74 739.73 981.85 741.15 981.96 743.47 982.07 733.38 982.17 736.71 982.28 735.91 982.39 740.01 982.5 737.37 982.61 736.38 982.72 738.09 982.83 734.44 982.94 739.03 983.05 734.26 983.16 738.71 983.27 735.7 983.38 735.64 983.49 731.65 983.6 730.24 983.71 729.96 983.82 736.76 983.93 728.46 984.03 739.33 984.14 734.19 984.25 730.58 984.36 735.81 984.47 731.11 984.58 734.97 984.69 733.9 984.8 738.31 984.91 737.39 985.02 737.44 985.13 732.75 985.24 737.98 985.35 734.17 985.46 735.4 985.57 736.55 985.68 736.45 985.78 731.17 985.89 737.28 986 729.95 986.11 736.79 986.22 734.94 986.33 735.76 986.44 732.25 986.55 738.61 986.66 735.25 986.77 737.9 986.88 732.59 986.99 732.97 987.1 735.02 987.21 738.35 987.32 730.96 987.43 733.64 987.54 734.14 987.64 734.95 987.75 733.97 987.86 738.98 987.97 738.2 988.08 736.13 988.19 739 988.3 740.18 988.41 735.34 988.52 735.23 988.63 740.03 988.74 744.03 988.85 730.3 988.96 735.18 989.07 740.1 989.18 735.58 989.29 740.65 989.4 738.54 989.5 734.12 989.61 736.6 989.72 739.34 989.83 735.81 989.94 740.82 990.05 740.07 990.16 738.27 990.27 740.26 990.38 737.81 990.49 739.4 990.6 735.84 990.71 743.25 990.82 738.07 990.93 742.45 991.04 745.74 991.15 743.82 991.26 738.47 991.36 738.85 991.47 738.29 991.58 739.07 991.69 735.24 991.8 732.21 991.91 738.46 992.02 738.14 992.13 743.05 992.24 743.84 992.35 733.82 992.46 734.8 992.57 740.11 992.68 741.29 992.79 737.52 992.9 737.28 993.01 731.48 993.12 743.75 993.22 734.25 993.33 738.33 993.44 738 993.55 734.26 993.66 739.88 993.77 741.77 993.88 737.06 993.99 737.59 994.1 739.19 994.21 740.17 994.32 739.7 994.43 734.38 994.54 734.44 994.65 736.04 994.76 730.3 994.87 732.91 994.98 736.13 995.08 734.43 995.19 733.8 995.3 739.05 995.41 737.05 995.52 739.06 995.63 735.53 995.74 734.68 995.85 733.24 995.96 736.75 996.07 730.58 996.18 733.35 996.29 737.51 996.4 738.37 996.51 735.44 996.62 731.78 996.73 736.86 996.84 732.56 996.94 734.46 997.05 732.33 997.16 741.27 997.27 739.98 997.38 732.35 997.49 730.87 997.6 734.02 997.71 735.79 997.82 737.82 997.93 733.44 998.04 729.81 998.15 734.77 998.26 734.91 998.37 729.04 998.48 733.67 998.59 733.11 998.69 730.93 998.8 734.49 998.91 737.34 999.02 736.9 999.13 731.11 999.24 731.87 999.35 735.75 999.46 732.29 999.57 732.59 999.68 741.56 999.79 727.79 999.9 732.78 1000.01 732.04 1000.12 734.76 1000.23 740.48 1000.34 733.99 1000.45 733.41 1000.55 734.62 1000.66 732.99 1000.77 735.58 1000.88 741.5 1000.99 732.88 1001.1 734.51 1001.21 734.98 1001.32 728.99 1001.43 738 1001.54 736.11 1001.65 730.54 1001.76 735.87 1001.87 734.62 1001.98 734.65 1002.09 741.1 1002.2 735.73 1002.31 731.35 1002.41 740.8 1002.52 738.16 1002.63 738.95 1002.74 733.69 1002.85 734.2 1002.96 734.95 1003.07 737.55 1003.18 737.76 1003.29 742.89 1003.4 743.48 1003.51 738.3 1003.62 737.64 1003.73 743.93 1003.84 738.43 1003.95 741.84 1004.06 737.43 1004.17 739.11 1004.27 738.11 1004.38 736.46 1004.49 739.58 1004.6 735.8 1004.71 737.95 1004.82 739.45 1004.93 744.64 1005.04 731.66 1005.15 738.52 1005.26 739.93 1005.37 736.58 1005.48 740.51 1005.59 739.49 1005.7 739.44 1005.81 736.53 1005.92 737.4 1006.03 737.56 1006.13 735.36 1006.24 738.74 1006.35 734.63 1006.46 734.89 1006.57 733.58 1006.68 741.07 1006.79 736.11 1006.9 735.22 1007.01 740.21 1007.12 736.62 1007.23 738.75 1007.34 736.72 1007.45 738.65 1007.56 738.51 1007.67 730.96 1007.78 742.89 1007.89 741.25 1007.99 733.13 1008.1 740.71 1008.21 736.79 1008.32 737.9 1008.43 741.3 1008.54 740.52 1008.65 740.31 1008.76 743.34 1008.87 740.22 1008.98 735.01 1009.09 732.51 1009.2 739.33 1009.31 731.28 1009.42 735.72 1009.53 735.54 1009.64 734.82 1009.74 741.17 1009.85 737.89 1009.96 736.19 1010.07 739.43 1010.18 735.38 1010.29 740.63 1010.4 743.34 1010.51 736.49 1010.62 736.22 1010.73 740.12 1010.84 730.18 1010.95 732.81 1011.06 733.57 1011.17 731.75 1011.28 736.95 1011.39 737.61 1011.5 736.47 1011.6 736.48 1011.71 739.49 1011.82 740.05 1011.93 740.69 1012.04 736.83 1012.15 737.25 1012.26 741.56 1012.37 738.49 1012.48 741.09 1012.59 735.34 1012.7 736.26 1012.81 734.54 1012.92 736.31 1013.03 737.92 1013.14 734.9 1013.25 742.66 1013.36 732.18 1013.46 739.67 1013.57 733.47 1013.68 737.24 1013.79 733.81 1013.9 736.9 1014.01 736.62 1014.12 733.83 1014.23 732.21 1014.34 733.53 1014.45 736 1014.56 738.46 1014.67 741.46 1014.78 731.32 1014.89 738.07 1015 734.97 1015.11 736.3 1015.22 737.58 1015.32 739.17 1015.43 738 1015.54 736.62 1015.65 741.85 1015.76 737.9 1015.87 737.24 1015.98 740.75 1016.09 733.86 1016.2 733.99 1016.31 741.58 1016.42 736.76 1016.53 732.2 1016.64 740.28 1016.75 741.61 1016.86 735.53 1016.97 734.06 1017.08 738.26 1017.18 739.17 1017.29 736.07 1017.4 734.9 1017.51 739.45 1017.62 739.23 1017.73 732.05 1017.84 733.64 1017.95 735.41 1018.06 734.72 1018.17 737.5 1018.28 738.3 1018.39 742.13 1018.5 734.87 1018.61 737.94 1018.72 730.18 1018.83 732.84 1018.94 738.7 1019.04 730.43 1019.15 738.86 1019.26 734.38 1019.37 735.46 1019.48 735.41 1019.59 731.82 1019.7 732.11 1019.81 732.71 1019.92 733.16 1020.03 738.38 1020.14 731.36 1020.25 732.49 1020.36 728.78 1020.47 734.44 1020.58 734.01 1020.69 737.46 1020.79 740.13 1020.9 735.87 1021.01 732.09 1021.12 735.38 1021.23 735.85 1021.34 735 1021.45 732.01 1021.56 736.35 1021.67 732.12 1021.78 735.99 1021.89 735.87 1022 730.06 1022.11 738.59 1022.22 742.74 1022.33 734.87 1022.44 733.91 1022.55 738.48 1022.65 731.54 1022.76 735.42 1022.87 736.36 1022.98 733.85 1023.09 735.78 1023.2 733.65 1023.31 734.36 1023.42 737.88 1023.53 733.26 1023.64 734.32 1023.75 734.52 1023.86 738.74 1023.97 736.22 1024.08 734.62 1024.19 738.86 1024.3 732.11 1024.41 732.85 1024.51 739.8 1024.62 744.26 1024.73 736.82 1024.84 739.75 1024.95 733.9 1025.06 738.75 1025.17 739.24 1025.28 740.15 1025.39 736.25 1025.5 744.58 1025.61 735.8 1025.72 744 1025.83 735.75 1025.94 741.45 1026.05 743.25 1026.16 745.95 1026.27 738.34 1026.37 733.79 1026.48 741.4 1026.59 736.69 1026.7 735.84 1026.81 737.36 1026.92 736.65 1027.03 742.05 1027.14 740.24 1027.25 741.7 1027.36 742.42 1027.47 737.94 1027.58 740.64 1027.69 742.01 1027.8 743.68 1027.91 739.08 1028.02 737.85 1028.13 735.54 1028.23 737.26 1028.34 738.22 1028.45 738.41 1028.56 733.34 1028.67 736.43 1028.78 736.84 1028.89 735.76 1029 735.91 1029.11 739.21 1029.22 734.85 1029.33 739.62 1029.44 734.7 1029.55 739.19 1029.66 734.89 1029.77 742.23 1029.88 740.6 1029.99 742.59 1030.09 736.04 1030.2 734.67 1030.31 734.59 1030.42 737.72 1030.53 741.68 1030.64 740.39 1030.75 740.33 1030.86 734.75 1030.97 741.73 1031.08 740.45 1031.19 735.94 1031.3 730.59 1031.41 735.04 1031.52 737.39 1031.63 742.47 1031.74 738.3 1031.85 737.65 1031.95 742.93 1032.06 743.25 1032.17 739.55 1032.28 740.11 1032.39 741.99 1032.5 735.92 1032.61 739.42 1032.72 736.56 1032.83 734.74 1032.94 739.8 1033.05 741.75 1033.16 744.08 1033.27 735.86 1033.38 741.44 1033.49 736.8 1033.6 732.45 1033.7 734.88 1033.81 738.5 1033.92 735.11 1034.03 743.17 1034.14 740.8 1034.25 736.31 1034.36 742.54 1034.47 738.77 1034.58 741.31 1034.69 736.17 1034.8 738.63 1034.91 735.45 1035.02 736.23 1035.13 739.85 1035.24 742.42 1035.35 736.99 1035.46 737.78 1035.56 733.88 1035.67 735.98 1035.78 738.15 1035.89 732.55 1036 735.46 1036.11 733.43 1036.22 736.86 1036.33 738.6 1036.44 736.86 1036.55 734.93 1036.66 732.29 1036.77 730.67 1036.88 736.03 1036.99 741.46 1037.1 735.58 1037.21 736.54 1037.32 735.34 1037.42 733.04 1037.53 739.91 1037.64 739.31 1037.75 732.26 1037.86 733.31 1037.97 740.66 1038.08 734.21 1038.19 736.81 1038.3 733.39" fill="none" stroke="#000" stroke-width="0.9" stroke-linejoin="round" stroke-linecap="round"/>
<line x1="893.5" y1="740" x2="893.5" y2="887.5" stroke="#000" stroke-width="1.4"/>
<rect x="826.4" y="812.3" width="7.6" height="57.1" fill="#000"/>
<rect x="749.7" y="872.5" width="76.7" height="7.1" fill="#000"/>
<rect x="948.3" y="872.4" width="81.3" height="7.4" fill="#000"/>
<text transform="translate(753.24 846.22) scale(1.077 1)" font-size="22.91" fill="#000" stroke="#000" stroke-width="0.45" stroke-linejoin="round"><tspan y="0">50 pA</tspan></text>
<text transform="translate(767.98 904.25) scale(1.007 1)" font-size="22.72" fill="#000" stroke="#000" stroke-width="0.45" stroke-linejoin="round"><tspan y="0">1 s</tspan></text>
<text transform="translate(946.16 904.45) scale(1.110 1)" font-size="22.67" fill="#000" stroke="#000" stroke-width="0.45" stroke-linejoin="round"><tspan y="0">200 ms</tspan></text>
<text transform="translate(929.16 823.67) scale(0.974 1)" font-size="40.92" fill="#000" stroke="#000" stroke-width="0.25" stroke-linejoin="round"><tspan font-weight="bold" y="0">RA</tspan></text>
<path d="M600.3 930 603.7 931.6 607 930.4 612 930 620.3 929.6 620.9 929.6 621 1098.9" fill="none" stroke="#000" stroke-width="1.6" stroke-linejoin="round" stroke-linecap="round"/>
<path d="M621.2 1090 621.55 1040 621.91 990 622.26 979.93 622.62 973.81 622.97 970.42 623.33 965.76 623.68 965.28 624.03 965.45 624.39 966.33 624.74 966.63 625.1 965.53 625.45 965.19 625.81 964.04 626.16 962.7 626.51 962.04 626.87 961.6 627.22 961.6 627.58 960.45 627.93 961.06 628.29 960.36 628.64 960.36 628.99 959.66 629.35 960.87 629.7 961.35 630.06 960.03 630.41 960.15 630.76 959.77 631.12 959.67 631.47 960.37 631.83 961.09 632.18 961.57 632.54 959.99 632.89 960.66 633.24 962.1 633.6 964.61 633.95 965.5 634.31 966.12 634.66 966.78 635.02 966.73 635.37 966.46 635.72 966.59 636.08 966.47 636.43 966.91 636.79 966.54 637.14 965.83 637.5 965.35 637.85 964.98 638.2 964.79 638.56 966.12 638.91 966.24 639.27 967.16 639.62 967.23 639.98 967.87 640.33 968.88 640.68 967.44 641.04 967.75 641.39 966.39 641.75 966.98 642.1 966.28 642.46 966.77 642.81 967.07 643.16 967.32 643.52 968.39 643.87 967.24 644.23 966.33 644.58 964.78 644.94 966.46 645.29 967.29 645.64 968.18 646 969.03 646.35 968.84 646.71 967.59 647.06 966.56 647.42 967.51 647.77 969.47 648.12 969.03 648.48 967.87 648.83 966.71 649.19 966.98 649.54 966.66 649.89 966.03 650.25 966.43 650.6 967.24 650.96 967.33 651.31 965.81 651.67 964.27 652.02 963.34 652.37 962.72 652.73 962.72 653.08 962.77 653.44 963.48 653.79 963.12 654.15 962.78 654.5 961.8 654.85 959.73 655.21 959.67 655.56 958.91 655.92 960.44 656.27 959.09 656.63 958.3 656.98 956.05 657.33 956.75 657.69 956.17 658.04 956.63 658.4 954.29 658.75 953.94 659.11 952.47 659.46 952.15 659.81 951.46 660.17 951.35 660.52 952.03 660.88 952.59 661.23 953.73 661.59 952.58 661.94 951.56 662.29 950.66 662.65 951.48 663 950.92 663.36 950.64 663.71 950.72 664.07 951.41 664.42 951.37 664.77 949.9 665.13 949.49 665.48 949.84 665.84 951.01 666.19 950.05 666.54 949.72 666.9 948.73 667.25 949.18 667.61 950.23 667.96 951.04 668.32 951.13 668.67 949.55 669.02 949.42 669.38 949.35 669.73 950.02 670.09 950.39 670.44 950.67 670.8 951.07 671.15 951.21 671.5 951.79 671.86 952.09 672.21 952.4 672.57 953.24 672.92 952.78 673.28 953.07 673.63 952.78 673.98 953.5 674.34 953.19 674.69 953.56 675.05 952.38 675.4 953.16 675.76 953.49 676.11 954.08 676.46 953.1 676.82 951.83 677.17 950.94 677.53 950.15 677.88 948.37 678.24 947.29 678.59 945.89 678.94 946.31 679.3 946.05 679.65 945.82 680.01 946.04 680.36 946.73 680.72 947.36 681.07 947.72 681.42 947.44 681.78 947.95 682.13 948.18 682.49 947.47 682.84 945.95 683.19 944.5 683.55 944.45 683.9 945.28 684.26 945.84 684.61 946.07 684.97 945.1 685.32 944.41 685.67 944.04 686.03 944.47 686.38 942.76 686.74 942.92 687.09 942.97 687.45 944.25 687.8 944.86 688.15 944.91 688.51 945.66 688.86 943.7 689.22 943.6 689.57 943.18 689.93 944.23 690.28 942.28 690.63 941.19 690.99 940.83 691.34 941.36 691.7 943.06 692.05 942.51 692.41 943.74 692.76 943.11 693.11 945.48 693.47 945.01 693.82 945.65 694.18 943.6 694.53 942.82 694.89 942.08 695.24 943.08 695.59 943.4 695.95 943.78 696.3 943.3 696.66 943.59 697.01 943.04 697.37 942.71 697.72 942.28 698.07 942.2 698.43 942.32 698.78 942.19 699.14 940.45 699.49 940.54 699.85 940.52 700.2 942.42 700.55 941.44 700.91 942.05 701.26 941.52 701.62 941.87 701.97 941.68 702.32 942.11 702.68 941.31 703.03 942.18 703.39 942.66 703.74 944.02 704.1 942.32 704.45 942.29 704.8 942.17 705.16 944.26 705.51 943.54 705.87 943.49 706.22 943.16 706.58 942.2 706.93 942.15 707.28 941.52 707.64 941.48 707.99 941.22 708.35 941.55 708.7 943.26 709.06 944.94 709.41 945.46 709.76 944.5 710.12 944.04 710.47 943.77 710.83 944.74 711.18 943.62 711.54 944.61 711.89 945.56 712.24 946.26 712.6 944.42 712.95 942.44 713.31 941.37 713.66 942.23 714.02 941.69 714.37 942.89 714.72 942.04 715.08 943.12 715.43 942.7 715.79 944.09 716.14 944.14 716.5 943.37 716.85 941.93 717.2 941.37 717.56 941.31 717.91 940.95 718.27 940.05 718.62 940.03 718.97 938.94 719.33 940.06 719.68 939.44 720.04 939.37 720.39 938.88 720.75 939.34 721.1 939.94 721.45 938.41 721.81 936.99 722.16 937.13 722.52 939.41 722.87 940.33 723.23 940.13 723.58 939.05 723.93 938.31 724.29 938.76 724.64 937.97 725 938.48 725.35 937.24 725.71 936.83 726.06 936.28 726.41 936.16 726.77 936.61 727.12 937.99 727.48 938.7 727.83 938.56 728.19 937.81 728.54 937.23 728.89 938.22 729.25 938.41 729.6 938.5 729.96 937.72 730.31 937.23 730.67 936.78 731.02 936.05 731.37 935.87 731.73 935.89 732.08 936.54 732.44 937.1 732.79 937.47 733.15 937.8 733.5 938.32 733.85 938.14 734.21 938.62 734.56 936.97 734.92 936.48 735.27 935.66 735.63 936.02 735.98 935.78 736.33 936.42 736.69 937 737.04 937.25 737.4 936.28 737.75 935.66 738.1 935.44 738.46 935.72 738.81 934.88 739.17 934.53 739.52 935.17 739.88 935.57 740.23 936.12 740.58 935.04 740.94 934.95 741.29 936.78 741.65 937.25 742 938.25 742.36 937.51 742.71 938.58 743.06 936.72 743.42 936.69 743.77 935.52 744.13 936.99 744.48 937.28 744.84 937.59 745.19 936.51 745.54 935.98 745.9 935.53 746.25 937.33 746.61 935.92 746.96 936.46 747.32 935.9 747.67 937.63 748.02 937.52 748.38 936.18 748.73 936.24 749.09 936.01 749.44 936.85 749.8 937.05 750.15 937.08 750.5 938.63 750.86 938.76 751.21 938.13 751.57 937.63 751.92 937 752.28 937.71 752.63 937.17 752.98 937.85 753.34 937.4 753.69 937.81 754.05 936.26 754.4 937 754.75 935.96 755.11 936.1 755.46 935.86 755.82 935.92 756.17 937.38 756.53 936.71 756.88 938.38 757.23 938.19 757.59 938.91 757.94 938.29 758.3 937.9 758.65 939.29 759.01 939.19 759.36 938.68 759.71 937.43 760.07 936.89 760.42 937.2 760.78 936.58 761.13 936.44 761.49 936.99 761.84 937.31 762.19 938.1 762.55 937.37 762.9 937.32 763.26 936.54 763.61 937.51 763.97 938.56 764.32 938.78 764.67 938.53 765.03 936.6 765.38 935.85 765.74 935.73 766.09 935.53 766.45 938.03 766.8 938.18 767.15 940.33 767.51 938.52 767.86 937.04 768.22 935.4 768.57 934.89 768.93 936.24 769.28 936.13 769.63 936.15 769.99 936.58 770.34 936.45 770.7 936.55 771.05 936.4 771.41 938.71 771.76 938.06 772.11 935.68 772.47 933.66 772.82 934.81 773.18 936.27 773.53 936.34 773.88 935.39 774.24 935.93 774.59 935.94 774.95 936.31 775.3 935.79 775.66 937.01 776.01 937.51 776.36 939.1 776.72 937.97 777.07 938.22 777.43 935.24 777.78 935.02 778.14 934.6 778.49 935.49 778.84 935.4 779.2 935.08 779.55 934.92 779.91 935.08 780.26 935.49 780.62 936.34 780.97 936.01 781.32 935.84 781.68 935.11 782.03 936.37 782.39 937.6 782.74 938.24 783.1 937.94 783.45 936.69 783.8 936.88 784.16 936.5 784.51 935.88 784.87 936.36 785.22 937.92 785.58 939.13 785.93 938.35 786.28 937.24 786.64 937.92 786.99 937.64 787.35 937.81 787.7 936.87 788.06 935.81 788.41 935.12 788.76 935.38 789.12 936.99 789.47 937.15 789.83 936.01 790.18 935.96 790.53 936.15 790.89 937.29 791.24 938.28 791.6 938.2 791.95 938.56 792.31 937.75 792.66 939.48 793.01 939.11 793.37 940.49 793.72 938.12 794.08 937.05 794.43 935.69 794.79 936.25 795.14 937.85 795.49 938.07 795.85 938.68 796.2 937.35 796.56 936.81 796.91 936.82 797.27 936.95 797.62 936.96 797.97 937.18 798.33 937.51 798.68 937.64 799.04 937.63 799.39 937.93 799.75 936.84 800.1 936.13 800.45 935.85 800.81 936.98 801.16 938.34 801.52 939.03 801.87 938.9 802.23 937.02 802.58 936.82 802.93 936.83 803.29 938.06 803.64 937.72 804 938.22 804.35 936.86 804.71 936.53 805.06 935.92 805.41 935.89 805.77 936.23 806.12 935.95 806.48 936.22 806.83 935.52 807.18 935.68 807.54 934.86 807.89 935.85 808.25 936.15 808.6 937.54 808.96 937.75 809.31 937.65 809.66 937.08 810.02 937.11 810.37 936.68 810.73 936.95 811.08 934.73 811.44 934.61 811.79 934.47 812.14 936.24 812.5 936.89 812.85 937.5 813.21 936.69 813.56 935.95 813.92 935.43 814.27 935.23 814.62 935.28 814.98 935.14 815.33 934.33 815.69 933.53 816.04 933.7 816.4 934.46 816.75 935.89 817.1 935.27 817.46 935.02 817.81 934.89 818.17 934.98 818.52 935.82 818.88 934.96 819.23 934.56 819.58 934.07 819.94 933.95 820.29 934.3 820.65 933.82 821 934.48 821.36 935.05 821.71 935.93 822.06 934.87 822.42 935.1 822.77 933.66 823.13 934.55 823.48 933.79 823.84 935.33 824.19 934.72 824.54 934.3 824.9 934.5 825.25 935.59 825.61 935.22 825.96 934.27 826.31 933.02 826.67 931.97 827.02 932.82 827.38 932.86 827.73 934.49 828.09 933.88 828.44 933.44 828.79 933.93 829.15 933.3 829.5 933.15 829.86 932.75 830.21 933.23 830.57 933.76 830.92 933.47 831.27 934.38 831.63 935.12 831.98 935.12 832.34 933.78 832.69 934.45 833.05 934.13 833.4 933.08" fill="none" stroke="#000" stroke-width="2" stroke-linejoin="round" stroke-linecap="round"/>
<line x1="625.1" y1="930" x2="848" y2="930" stroke="#000" stroke-width="1.8" stroke-dasharray="5.2 2.8"/>
<rect x="826.6" y="1027.2" width="7.2" height="57.6" fill="#000"/>
<text transform="translate(740.94 1061.51) scale(1.046 1)" font-size="23.46" fill="#000" stroke="#000" stroke-width="0.45" stroke-linejoin="round"><tspan y="0">500 pA</tspan></text>
<path d="M875 932.6 880 931.8 886 932.4 893.2 932.1 893.8 932.3" fill="none" stroke="#000" stroke-width="1.4" stroke-linejoin="round" stroke-linecap="round"/>
<line x1="893.8" y1="932.2" x2="894" y2="1097.5" stroke="#000" stroke-width="1.4"/>
<path d="M894 1090.97 894.32 1062.95 894.64 1038.23 894.96 1028.05 895.28 1018.1 895.6 1010.11 895.92 1004.03 896.24 998.04 896.56 996.54 896.88 997.53 897.2 996.13 897.52 994.51 897.84 993.36 898.16 991.23 898.48 990.31 898.8 990.41 899.12 989.34 899.44 987.89 899.76 987.75 900.08 987.64 900.4 986.83 900.72 986.18 901.04 986.55 901.36 985.85 901.68 983.93 902 982.72 902.32 982.48 902.64 981.84 902.96 980.51 903.27 979.63 903.59 979.51 903.91 978.41 904.23 980.09 904.55 981.37 904.87 978.76 905.19 977.3 905.51 977.94 905.83 977.07 906.15 975.21 906.47 976.26 906.79 976.38 907.11 975.75 907.43 975.4 907.75 974.46 908.07 973.58 908.39 973.68 908.71 974.02 909.03 973.66 909.35 973.04 909.67 973.44 909.99 973.54 910.31 972.97 910.63 971.99 910.95 970.39 911.27 971.36 911.59 971.78 911.91 970.6 912.23 971.02 912.55 972.17 912.87 971.56 913.19 970.35 913.51 970.59 913.83 970.91 914.15 970.47 914.47 968.8 914.79 969.07 915.11 969.66 915.43 970.43 915.75 970.43 916.07 969.22 916.39 969.56 916.71 969.49 917.03 971.03 917.35 970.69 917.67 969.72 917.99 969.83 918.31 968.93 918.63 969.35 918.95 969.72 919.27 969.08 919.59 968.22 919.91 968.54 920.23 971.2 920.55 970.81 920.87 969.03 921.18 968.7 921.5 970.41 921.82 969.83 922.14 967.27 922.46 966.93 922.78 967.67 923.1 968.88 923.42 968.67 923.74 968.51 924.06 969.16 924.38 969.97 924.7 969.68 925.02 967.1 925.34 965.77 925.66 967.46 925.98 968.53 926.3 966.72 926.62 967.11 926.94 968.99 927.26 968.95 927.58 967.97 927.9 966.46 928.22 966.49 928.54 966.53 928.86 966.66 929.18 965.92 929.5 967.16 929.82 968.54 930.14 967.18 930.46 965.52 930.78 966.71 931.1 966.53 931.42 965.07 931.74 965.66 932.06 965.84 932.38 966.87 932.7 967.82 933.02 967.69 933.34 966.38 933.66 966.96 933.98 968.38 934.3 968.01 934.62 968.71 934.94 967.51 935.26 965.51 935.58 965.65 935.9 965.7 936.22 966.54 936.54 967.01 936.86 966.32 937.18 966.86 937.5 967.02 937.82 965.91 938.14 965.52 938.46 965.02 938.78 965.22 939.09 965.45 939.41 965.48 939.73 966.21 940.05 966.52 940.37 965.96 940.69 966.81 941.01 966.33 941.33 965.55 941.65 966.24 941.97 965.93 942.29 965.45 942.61 964.74 942.93 965.52 943.25 964.86 943.57 964.47 943.89 964.56 944.21 963.26 944.53 964.14 944.85 964.85 945.17 965.94 945.49 965.12 945.81 963.94 946.13 965.02 946.45 964.96 946.77 964.53 947.09 963.34 947.41 964.01 947.73 965.41 948.05 965.12 948.37 964.75 948.69 965.18 949.01 965.55 949.33 965.16 949.65 964.09 949.97 964.21 950.29 963.98 950.61 963.52 950.93 963.37 951.25 962.95 951.57 963.99 951.89 963.82 952.21 963.87 952.53 963.73 952.85 964.14 953.17 964.3 953.49 964.84 953.81 965.34 954.13 963.66 954.45 962.48 954.77 962.2 955.09 964.09 955.41 963.53 955.73 961.3 956.05 962.22 956.37 963.94 956.69 963.48 957 962.12 957.32 962.18 957.64 962.54 957.96 963.34 958.28 964.6 958.6 963.77 958.92 962.05 959.24 961.36 959.56 960.87 959.88 961.77 960.2 962.07 960.52 962.75 960.84 963.77 961.16 963.08 961.48 964.32 961.8 963.87 962.12 963.73 962.44 965.07 962.76 964.86 963.08 964.98 963.4 964.31 963.72 964.88 964.04 966.53 964.36 965.09 964.68 964.6 965 965.98 965.32 966.13 965.64 966.85 965.96 967.31 966.28 967.2 966.6 968.46 966.92 968.5 967.24 967.9 967.56 968.64 967.88 968.78 968.2 969.12 968.52 970.88 968.84 971.09 969.16 972.17 969.48 972.1 969.8 969.11 970.12 969.54 970.44 970.14 970.76 971.24 971.08 972.2 971.4 970.64 971.72 970.12 972.04 970.48 972.36 972.13 972.68 972.3 973 970.71 973.32 970.84 973.64 970.7 973.96 970.26 974.28 969.46 974.6 969.4 974.91 969.96 975.23 968.95 975.55 968.76 975.87 968.69 976.19 967.48 976.51 968.11 976.83 969.36 977.15 969.88 977.47 969.09 977.79 967.48 978.11 967.15 978.43 967.79 978.75 968.17 979.07 968.51 979.39 968.35 979.71 968.6 980.03 968.21 980.35 967.79 980.67 968.53 980.99 968.43 981.31 968.31 981.63 967.33 981.95 967.49 982.27 967.8 982.59 967.08 982.91 966.71 983.23 967 983.55 967.3 983.87 966.59 984.19 967.24 984.51 967.14 984.83 966.88 985.15 967.42 985.47 967.47 985.79 967.34 986.11 966.19 986.43 966.2 986.75 967.13 987.07 968.16 987.39 969.04 987.71 968.36 988.03 967.76 988.35 965.55 988.67 964.55 988.99 965.42 989.31 966.08 989.63 967.04 989.95 966.95 990.27 966.93 990.59 966.76 990.91 966.27 991.23 965.62 991.55 966.08 991.87 966.4 992.19 966.56 992.51 966.23 992.82 965.34 993.14 965.07 993.46 965.6 993.78 965.52 994.1 963.62 994.42 963.69 994.74 964.8 995.06 965.37 995.38 965.65 995.7 966.52 996.02 967.01 996.34 966.89 996.66 967.64 996.98 967.75 997.3 967.53 997.62 966.64 997.94 966.41 998.26 966.72 998.58 966.99 998.9 966.76 999.22 966.76 999.54 966.88 999.86 967 1000.18 968.15 1000.5 968.52 1000.82 967.57 1001.14 967.7 1001.46 966.95 1001.78 966.29 1002.1 966.55 1002.42 966.52 1002.74 966.74 1003.06 966.77 1003.38 967.14 1003.7 968.02 1004.02 969.89 1004.34 969.71 1004.66 969.07 1004.98 968.89 1005.3 968.26 1005.62 967.9 1005.94 967.3 1006.26 967.01 1006.58 968.31 1006.9 968.61 1007.22 968.42 1007.54 968.19 1007.86 969.45 1008.18 970.93 1008.5 969.51 1008.82 969.9 1009.14 970.35 1009.46 969.93 1009.78 969.58 1010.1 968.68 1010.42 969.69 1010.73 970.47 1011.05 970.13 1011.37 970.33 1011.69 969.93 1012.01 969.05 1012.33 969.24 1012.65 968.46 1012.97 968.31 1013.29 970.14 1013.61 969.98 1013.93 970.47 1014.25 970.43 1014.57 968.65 1014.89 969.26 1015.21 969.84 1015.53 969.89 1015.85 969.63 1016.17 969.62 1016.49 970.12 1016.81 969.97 1017.13 970.52 1017.45 969.92 1017.77 969.25 1018.09 970.45 1018.41 971.35 1018.73 971.14 1019.05 969.72 1019.37 969.43 1019.69 969.9 1020.01 969.61 1020.33 968.91 1020.65 967.83 1020.97 969.41 1021.29 971.22 1021.61 969.72 1021.93 969 1022.25 969.95 1022.57 969.83 1022.89 970.11 1023.21 970.24 1023.53 969.08 1023.85 969.07 1024.17 970.23 1024.49 969.93 1024.81 970.13 1025.13 971.36 1025.45 971.28 1025.77 970.99 1026.09 970.57 1026.41 970.57 1026.73 970.19 1027.05 968.41 1027.37 968.44 1027.69 970.8 1028.01 971.89 1028.33 970.34 1028.64 969.57 1028.96 969.8 1029.28 969.21 1029.6 969.47 1029.92 970.7 1030.24 970.95 1030.56 970.32 1030.88 968.95 1031.2 970.47 1031.52 971.11 1031.84 969.78 1032.16 971.01 1032.48 971.12 1032.8 971.15 1033.12 969.61 1033.44 968.56 1033.76 969.59 1034.08 969.31 1034.4 968.76 1034.72 970.15 1035.04 970.35 1035.36 970.5 1035.68 971.86 1036 970.98 1036.32 969.57 1036.64 969.43 1036.96 969.86 1037.28 969.83 1037.6 969.81" fill="none" stroke="#000" stroke-width="1.3" stroke-linejoin="round" stroke-linecap="round"/>
<text transform="translate(935.54 1043.41) scale(1.042 1)" font-size="37.11" fill="#000" stroke="#000" stroke-width="0.25" stroke-linejoin="round"><tspan font-weight="bold" y="0">Mixed</tspan></text>
<path d="M600.3 1142 603 1140.5 606 1142.8 609 1141 612 1143.5 616 1142 620.3 1143" fill="none" stroke="#000" stroke-width="2" stroke-linejoin="round" stroke-linecap="round"/>
<line x1="620.5" y1="1142.8" x2="620.5" y2="1305.4" stroke="#000" stroke-width="1.6"/>
<path d="M620.6 1303 620.75 1290 620.9 1275 621.06 1262 621.21 1279.94 621.36 1278.47 621.51 1272.19 621.66 1265.19 621.82 1260.79 621.97 1260.99 622.12 1259.96 622.27 1252.21 622.43 1252.36 622.58 1241.37 622.73 1241.84 622.88 1243.19 623.03 1233.19 623.19 1231.65 623.34 1235.78 623.49 1224.1 623.64 1226.94 623.79 1233.3 623.95 1224.92 624.1 1227.27 624.25 1224.62 624.4 1214.11 624.55 1214.51 624.71 1217 624.86 1219.01 625.01 1219.21 625.16 1216.4 625.32 1214.19 625.47 1207.09 625.62 1214.53 625.77 1207.5 625.92 1212.59 626.08 1212.16 626.23 1200.94 626.38 1211.39 626.53 1201.75 626.68 1205.71 626.84 1203.65 626.99 1206.29 627.14 1202.23 627.29 1203.2 627.44 1199.72 627.6 1193.78 627.75 1194.96 627.9 1197.35 628.05 1196.96 628.21 1192.72 628.36 1189.27 628.51 1186.33 628.66 1190.93 628.81 1200.93 628.97 1189.28 629.12 1187.26 629.27 1191.39 629.42 1193.26 629.57 1190.42 629.73 1183.35 629.88 1187.94 630.03 1188.77 630.18 1193.51 630.33 1190.33 630.49 1192.39 630.64 1188.43 630.79 1191.28 630.94 1200.41 631.1 1195.37 631.25 1194.13 631.4 1191.06 631.55 1188.97 631.7 1197.97 631.86 1195.17 632.01 1196.58 632.16 1196.65 632.31 1197.07 632.46 1187.11 632.62 1199.34 632.77 1201.98 632.92 1195.8 633.07 1194.98 633.23 1197.78 633.38 1196.35 633.53 1190.33 633.68 1195.4 633.83 1196.9 633.99 1201.98 634.14 1194.44 634.29 1196.06 634.44 1195.37 634.59 1196.89 634.75 1201.54 634.9 1197.58 635.05 1196.95 635.2 1189.21 635.35 1199.01 635.51 1186.88 635.66 1198.72 635.81 1197.06 635.96 1193.92 636.12 1189.4 636.27 1194.64 636.42 1192.12 636.57 1198.34 636.72 1183.57 636.88 1194.07 637.03 1183.09 637.18 1193.39 637.33 1193.01 637.48 1197.47 637.64 1189.49 637.79 1189.7 637.94 1185.73 638.09 1192.7 638.24 1194.89 638.4 1192.37 638.55 1189.87 638.7 1192.31 638.85 1195.29 639.01 1194.8 639.16 1185.79 639.31 1190.6 639.46 1189.82 639.61 1182.92 639.77 1193.86 639.92 1192.46 640.07 1188.01 640.22 1193.9 640.37 1192.65 640.53 1189.97 640.68 1192.81 640.83 1192.88 640.98 1191.81 641.13 1197.84 641.29 1188.58 641.44 1200.07 641.59 1194.85 641.74 1192.52 641.9 1194.91 642.05 1188.73 642.2 1189.98 642.35 1199.51 642.5 1193.93 642.66 1191.2 642.81 1190.37 642.96 1194.73 643.11 1195.57 643.26 1191.52 643.42 1197.4 643.57 1192.86 643.72 1192.74 643.87 1196.32 644.02 1190 644.18 1186.7 644.33 1191.17 644.48 1193.76 644.63 1189.16 644.79 1192.62 644.94 1193.1 645.09 1186.59 645.24 1189.25 645.39 1188.42 645.55 1191.68 645.7 1191.54 645.85 1189.99 646 1195.1 646.15 1191.92 646.31 1192.41 646.46 1187.82 646.61 1191 646.76 1195.19 646.91 1193.7 647.07 1191.6 647.22 1190.42 647.37 1187.25 647.52 1187.8 647.68 1194.99 647.83 1190.4 647.98 1191.53 648.13 1195.11 648.28 1189.16 648.44 1188.72 648.59 1195.19 648.74 1192.21 648.89 1184.06 649.04 1190.06 649.2 1186.46 649.35 1187.72 649.5 1188.78 649.65 1183.4 649.8 1187.26 649.96 1197.72 650.11 1190.02 650.26 1189.77 650.41 1194.71 650.57 1186.11 650.72 1189.72 650.87 1195.27 651.02 1189.84 651.17 1189.97 651.33 1188.08 651.48 1190.75 651.63 1191.92 651.78 1189.28 651.93 1191.31 652.09 1191.31 652.24 1183.19 652.39 1193.86 652.54 1196.77 652.69 1192.01 652.85 1189.1 653 1186.15 653.15 1188.31 653.3 1195.58 653.46 1195.87 653.61 1187.38 653.76 1196.75 653.91 1189.05 654.06 1190.55 654.22 1192.86 654.37 1195.72 654.52 1191.41 654.67 1194.8 654.82 1192.16 654.98 1196.21 655.13 1187.09 655.28 1191.99 655.43 1194.99 655.58 1197.74 655.74 1185.47 655.89 1192.73 656.04 1187.41 656.19 1196.55 656.35 1192.39 656.5 1196.16 656.65 1197.57 656.8 1198.03 656.95 1194.7 657.11 1198.07 657.26 1205.67 657.41 1192.86 657.56 1196.28 657.71 1192.57 657.87 1197.26 658.02 1190.76 658.17 1195.2 658.32 1187.78 658.48 1194.95 658.63 1202.67 658.78 1189.46 658.93 1191.96 659.08 1198.22 659.24 1191.48 659.39 1187.44 659.54 1188.73 659.69 1195.38 659.84 1198.76 660 1194.9 660.15 1194.44 660.3 1198.4 660.45 1194.89 660.6 1200.15 660.76 1201.75 660.91 1195.46 661.06 1201.88 661.21 1200.23 661.37 1198.24 661.52 1198.33 661.67 1201.78 661.82 1192.82 661.97 1191.08 662.13 1200.94 662.28 1202.58 662.43 1196.42 662.58 1198.04 662.73 1188.28 662.89 1188.84 663.04 1192.16 663.19 1193.7 663.34 1195.92 663.49 1194.12 663.65 1196.42 663.8 1196.04 663.95 1199.17 664.1 1201.57 664.26 1200.62 664.41 1201.71 664.56 1196.67 664.71 1195.23 664.86 1188.84 665.02 1190.57 665.17 1198.68 665.32 1197.24 665.47 1195.6 665.62 1193.63 665.78 1189.31 665.93 1185.71 666.08 1191.37 666.23 1191.51 666.38 1183.72 666.54 1198.48 666.69 1191.45 666.84 1196.25 666.99 1199.79 667.15 1201.2 667.3 1195.58 667.45 1200.16 667.6 1198.8 667.75 1195.35 667.91 1195.69 668.06 1191.11 668.21 1194.06 668.36 1189.84 668.51 1190.89 668.67 1191.47 668.82 1195.31 668.97 1190.49 669.12 1190.8 669.27 1190.69 669.43 1202.89 669.58 1191.9 669.73 1195.54 669.88 1189.2 670.04 1194.57 670.19 1189.4 670.34 1191.4 670.49 1196.31 670.64 1199.41 670.8 1194.15 670.95 1196.14 671.1 1193.95 671.25 1192.38 671.4 1193.62 671.56 1196.65 671.71 1191.68 671.86 1189.49 672.01 1188.82 672.16 1190.98 672.32 1188 672.47 1193.18 672.62 1185.94 672.77 1194.29 672.93 1188.92 673.08 1190.9 673.23 1198.64 673.38 1194.64 673.53 1188.95 673.69 1187.46 673.84 1190.7 673.99 1190.48 674.14 1187.23 674.29 1190.43 674.45 1186.15 674.6 1178.48 674.75 1192 674.9 1186.2 675.05 1191.43 675.21 1187.95 675.36 1187.72 675.51 1184.68 675.66 1189.79 675.82 1188.27 675.97 1189.64 676.12 1188.26 676.27 1187.22 676.42 1183.7 676.58 1185.13 676.73 1187.06 676.88 1175.84 677.03 1180.7 677.18 1183.93 677.34 1185.21 677.49 1185.69 677.64 1186.13 677.79 1176.42 677.94 1178.41 678.1 1175.35 678.25 1174.4 678.4 1175.58 678.55 1178.17 678.71 1181.1 678.86 1172.67 679.01 1178.35 679.16 1174.19 679.31 1183.89 679.47 1184.65 679.62 1177.56 679.77 1176.24 679.92 1180.88 680.07 1182.14 680.23 1175.04 680.38 1177.63 680.53 1179.57 680.68 1174.31 680.84 1182.91 680.99 1178.25 681.14 1176.68 681.29 1171.3 681.44 1179.5 681.6 1169.96 681.75 1172.14 681.9 1172.46 682.05 1173.33 682.2 1167.15 682.36 1170.64 682.51 1175.73 682.66 1173.44 682.81 1172.8 682.96 1176.41 683.12 1174.22 683.27 1177.42 683.42 1173.73 683.57 1170.47 683.73 1180.82 683.88 1167.87 684.03 1169.87 684.18 1170.16 684.33 1183.22 684.49 1174.67 684.64 1178.74 684.79 1169.06 684.94 1169.17 685.09 1173.9 685.25 1171.89 685.4 1173.79 685.55 1175.06 685.7 1172.1 685.85 1172.45 686.01 1172.7 686.16 1171.77 686.31 1173.05 686.46 1173.69 686.62 1167.31 686.77 1171.52 686.92 1174.18 687.07 1169.75 687.22 1169.36 687.38 1175.42 687.53 1173.46 687.68 1177.32 687.83 1173.85 687.98 1166.72 688.14 1164.35 688.29 1165.46 688.44 1170.32 688.59 1156.24 688.74 1167.61 688.9 1172.63 689.05 1169.91 689.2 1169.91 689.35 1167.72 689.51 1162.71 689.66 1170.57 689.81 1165.34 689.96 1168.4 690.11 1166.53 690.27 1169.2 690.42 1166.05 690.57 1166.75 690.72 1165.18 690.87 1165.08 691.03 1167.01 691.18 1167.94 691.33 1165.55 691.48 1161.6 691.63 1163.95 691.79 1169.13 691.94 1163.44 692.09 1164.97 692.24 1160.13 692.4 1162.22 692.55 1161.61 692.7 1163.89 692.85 1164.47 693 1164.4 693.16 1166.64 693.31 1163.82 693.46 1169.02 693.61 1164.84 693.76 1167.43 693.92 1170.03 694.07 1164.6 694.22 1165.34 694.37 1163.43 694.52 1162.53 694.68 1162.53 694.83 1163.35 694.98 1162.62 695.13 1164.52 695.29 1160.45 695.44 1161.67 695.59 1162.28 695.74 1161.71 695.89 1165.39 696.05 1163.69 696.2 1163.87 696.35 1163.12 696.5 1163.51 696.65 1166.08 696.81 1162.96 696.96 1166.05 697.11 1165.25 697.26 1165.21 697.41 1162.16 697.57 1163.41 697.72 1166.93 697.87 1163.86 698.02 1163.48 698.18 1164.01 698.33 1166.31 698.48 1160.57 698.63 1165.06 698.78 1163.36 698.94 1161.35 699.09 1164.8 699.24 1157.18 699.39 1160.47 699.54 1162.85 699.7 1165.78 699.85 1160.56 700 1159.96 700.15 1162.43 700.3 1163.27 700.46 1163.47 700.61 1163.11 700.76 1167.29 700.91 1163.09 701.07 1161.73 701.22 1164.42 701.37 1167.68 701.52 1166.45 701.67 1163.58 701.83 1161.16 701.98 1163.72 702.13 1168.53 702.28 1165.22 702.43 1165.39 702.59 1160.37 702.74 1162.41 702.89 1162.88 703.04 1167.97 703.19 1163.08 703.35 1163.58 703.5 1161.47 703.65 1157.07 703.8 1164.4 703.96 1158.73 704.11 1161 704.26 1159.34 704.41 1161.51 704.56 1162.14 704.72 1162.67 704.87 1167.21 705.02 1162.82 705.17 1164.2 705.32 1166.25 705.48 1163.34 705.63 1163.69 705.78 1167.78 705.93 1165.21 706.09 1162.46 706.24 1164 706.39 1162.31 706.54 1164.56 706.69 1161.12 706.85 1166.32 707 1165.4 707.15 1165.53 707.3 1164.99 707.45 1165.99 707.61 1163.76 707.76 1166.37 707.91 1167.19 708.06 1166.31 708.21 1165.22 708.37 1167.57 708.52 1164.04 708.67 1164.98 708.82 1164.74 708.98 1164.75 709.13 1165.5 709.28 1167.07 709.43 1166.88 709.58 1166.51 709.74 1164.07 709.89 1167.57 710.04 1168.39 710.19 1165.91 710.34 1166.04 710.5 1168.16 710.65 1172.59 710.8 1168.8 710.95 1168.56 711.1 1168.54 711.26 1163.7 711.41 1163.19 711.56 1164.34 711.71 1165.81 711.87 1163.28 712.02 1162.36 712.17 1160.6 712.32 1167.16 712.47 1162.19 712.63 1167.1 712.78 1163.29 712.93 1167.29 713.08 1168.81 713.23 1163.32 713.39 1165.88 713.54 1165.95 713.69 1166.91 713.84 1163 713.99 1166.13 714.15 1162.99 714.3 1160.42 714.45 1164.16 714.6 1165.46 714.76 1163.06 714.91 1163.15 715.06 1165.73 715.21 1166.55 715.36 1161.78 715.52 1165.79 715.67 1167.36 715.82 1160.63 715.97 1163.97 716.12 1162.62 716.28 1162.61 716.43 1165.48 716.58 1158.31 716.73 1161.1 716.88 1161.04 717.04 1163.78 717.19 1167.71 717.34 1162.37 717.49 1164.1 717.65 1164.69 717.8 1167.73 717.95 1164.35 718.1 1162.45 718.25 1162.46 718.41 1163.73 718.56 1161.62 718.71 1157.78 718.86 1163.52 719.01 1161.57 719.17 1161.86 719.32 1162.29 719.47 1163.57 719.62 1159.67 719.77 1162.18 719.93 1162.16 720.08 1165.53 720.23 1159.68 720.38 1161.75 720.54 1167.48 720.69 1161.79 720.84 1164.06 720.99 1162.97 721.14 1160.31 721.3 1163.61 721.45 1164.5 721.6 1163.44 721.75 1161.08 721.9 1162.92 722.06 1166.45 722.21 1162.81 722.36 1162.18 722.51 1165.79 722.66 1162.6 722.82 1159.42 722.97 1161.7 723.12 1165.35 723.27 1163.07 723.43 1163.31 723.58 1164.71 723.73 1163.32 723.88 1162.3 724.03 1165.03 724.19 1163.18 724.34 1164.65 724.49 1163.49 724.64 1162.49 724.79 1160.58 724.95 1162.73 725.1 1165.91 725.25 1159.81 725.4 1163.79 725.55 1162.82 725.71 1160.82 725.86 1161.53 726.01 1164.72 726.16 1164.2 726.32 1164.89 726.47 1163.77 726.62 1168.6 726.77 1161.3 726.92 1165.22 727.08 1166.84 727.23 1164.5 727.38 1168.21 727.53 1163.62 727.68 1164.57 727.84 1166.16 727.99 1163.57 728.14 1164.41 728.29 1166.22 728.45 1162.97 728.6 1164.79 728.75 1167.22 728.9 1163.57 729.05 1165.38 729.21 1166.53 729.36 1163.07 729.51 1165.97 729.66 1166.46 729.81 1162.94 729.97 1163.53 730.12 1161.37 730.27 1161.68 730.42 1163.15 730.57 1162.86 730.73 1162.71 730.88 1161.64 731.03 1164.48 731.18 1164.25 731.34 1161.32 731.49 1163.8 731.64 1167.27 731.79 1161.59 731.94 1166.24 732.1 1169.45 732.25 1163.81 732.4 1165.68 732.55 1159.86 732.7 1166.01 732.86 1164.8 733.01 1165.24 733.16 1163.42 733.31 1163.63 733.46 1164.14 733.62 1163.71 733.77 1161.92 733.92 1163.08 734.07 1164.04 734.23 1164.18 734.38 1163.49 734.53 1163.55 734.68 1165.74 734.83 1162.95 734.99 1163.74 735.14 1161.56 735.29 1160.61 735.44 1161.53 735.59 1161.44 735.75 1165.52 735.9 1160.97 736.05 1163.95 736.2 1164.41 736.35 1163.77 736.51 1162.83 736.66 1164.43 736.81 1164.87 736.96 1161.64 737.12 1165.13 737.27 1163.52 737.42 1159.19 737.57 1161.44 737.72 1164.56 737.88 1165.62 738.03 1162.14 738.18 1164.35 738.33 1164.3 738.48 1160.25 738.64 1161.88 738.79 1164.42 738.94 1161.67 739.09 1162.43 739.24 1165.5 739.4 1164.66 739.55 1164.25 739.7 1162.14 739.85 1167.98 740.01 1161.45 740.16 1164.38 740.31 1167.65 740.46 1164.61 740.61 1163.64 740.77 1163.51 740.92 1168.42 741.07 1167.91 741.22 1162.98 741.37 1163.82 741.53 1168.18 741.68 1170.19 741.83 1164.86 741.98 1167.64 742.13 1162.9 742.29 1163.7 742.44 1163.91 742.59 1166.48 742.74 1164.93 742.9 1166.38 743.05 1162.2 743.2 1167.83 743.35 1162.46 743.5 1168.47 743.66 1164.05 743.81 1160.33 743.96 1164.08 744.11 1161.56 744.26 1165.69 744.42 1163.32 744.57 1166.33 744.72 1161.8 744.87 1162.24 745.02 1163.42 745.18 1162.58 745.33 1160.91 745.48 1164.27 745.63 1166.33 745.79 1163.2 745.94 1163.29 746.09 1162.85 746.24 1165.17 746.39 1164.79 746.55 1166.27 746.7 1167.71 746.85 1165.55 747 1164.96 747.15 1164.86 747.31 1168.25 747.46 1165.68 747.61 1164.17 747.76 1163.81 747.91 1165 748.07 1163 748.22 1160.79 748.37 1164.98 748.52 1164.1 748.68 1165.6 748.83 1165.31 748.98 1163.1 749.13 1161.39 749.28 1164.85 749.44 1164.95 749.59 1160.5 749.74 1162.17 749.89 1163.58 750.04 1163.56 750.2 1164.81 750.35 1163.7 750.5 1163.66 750.65 1167.3 750.81 1161.91 750.96 1165.18 751.11 1162.22 751.26 1162.7 751.41 1160.9 751.57 1162.28 751.72 1161.54 751.87 1163.33 752.02 1160.74 752.17 1163.68 752.33 1165.29 752.48 1166.72 752.63 1165.19 752.78 1171.45 752.93 1166.88 753.09 1169.37 753.24 1162.86 753.39 1164.11 753.54 1163.02 753.7 1162.74 753.85 1161.63 754 1163.36 754.15 1161.34 754.3 1166.02 754.46 1163.65 754.61 1163.58 754.76 1159.49 754.91 1166.94 755.06 1167.08 755.22 1161.19 755.37 1161.2 755.52 1162.66 755.67 1166.34 755.82 1161.26 755.98 1162.03 756.13 1160.46 756.28 1163.96 756.43 1165.3 756.59 1162.53 756.74 1166.21 756.89 1164.8 757.04 1162.39 757.19 1165.02 757.35 1165.46 757.5 1166.04 757.65 1164.68 757.8 1165.22 757.95 1161.53 758.11 1162.13 758.26 1165.03 758.41 1162.05 758.56 1161.82 758.71 1160.95 758.87 1162.59 759.02 1159.12 759.17 1162.21 759.32 1160.73 759.48 1163.51 759.63 1160.89 759.78 1162.83 759.93 1162.29 760.08 1163.29 760.24 1165.4 760.39 1166 760.54 1162.45 760.69 1158.54 760.84 1163.3 761 1163.18 761.15 1161.13 761.3 1164.5 761.45 1167.14 761.6 1164.06 761.76 1163.48 761.91 1165.38 762.06 1161.07 762.21 1166.88 762.37 1160.97 762.52 1161.86 762.67 1165.01 762.82 1162.72 762.97 1160.07 763.13 1163.81 763.28 1165.48 763.43 1160.82 763.58 1165.67 763.73 1164.31 763.89 1166.73 764.04 1164.41 764.19 1164.93 764.34 1164.5 764.49 1165.95 764.65 1166.44 764.8 1164.54 764.95 1162.17 765.1 1162.88 765.26 1166.75 765.41 1160.52 765.56 1162.07 765.71 1162.36 765.86 1166.9 766.02 1163.37 766.17 1165.09 766.32 1165.22 766.47 1166.32 766.62 1167.16 766.78 1162.31 766.93 1161.96 767.08 1160.72 767.23 1164.78 767.38 1162.14 767.54 1164.17 767.69 1163.64 767.84 1160.16 767.99 1160.68 768.15 1161.77 768.3 1168.33 768.45 1165.43 768.6 1166.62 768.75 1162.62 768.91 1169.91 769.06 1165.24 769.21 1162.43 769.36 1163.59 769.51 1164.12 769.67 1164.39 769.82 1161.75 769.97 1164.42 770.12 1162.96 770.27 1163.17 770.43 1162.5 770.58 1164.48 770.73 1166.33 770.88 1164.43 771.04 1164.35 771.19 1169.91 771.34 1166.6 771.49 1165.88 771.64 1161.18 771.8 1165.87 771.95 1160.41 772.1 1165.56 772.25 1164.53 772.4 1163.15 772.56 1161.54 772.71 1163.65 772.86 1162.77 773.01 1160.87 773.16 1167.54 773.32 1161.79 773.47 1163.94 773.62 1163.09 773.77 1167.72 773.93 1161.69 774.08 1166.65 774.23 1165.03 774.38 1157.81 774.53 1161.28 774.69 1162.96 774.84 1163.03 774.99 1165.62 775.14 1167.07 775.29 1168.43 775.45 1165.58 775.6 1169.19 775.75 1168.36 775.9 1169.22 776.06 1167.51 776.21 1167.26 776.36 1166.03 776.51 1167.2 776.66 1166.65 776.82 1163.35 776.97 1160.68 777.12 1167.41 777.27 1167.5 777.42 1166.48 777.58 1168.8 777.73 1166.12 777.88 1166.72 778.03 1166.38 778.18 1169.03 778.34 1169.92 778.49 1166.45 778.64 1164.52 778.79 1168.75 778.95 1168.02 779.1 1167.06 779.25 1163.04 779.4 1166.39 779.55 1165.18 779.71 1162.82 779.86 1164.33 780.01 1162.07 780.16 1164.1 780.31 1162.68 780.47 1163.07 780.62 1167.02 780.77 1163.75 780.92 1165.48 781.07 1167.54 781.23 1163.67 781.38 1164.56 781.53 1163.84 781.68 1163.88 781.84 1162.29 781.99 1166.42 782.14 1164.6 782.29 1161.27 782.44 1164.72 782.6 1162.25 782.75 1160.02 782.9 1163.12 783.05 1161.84 783.2 1159.6 783.36 1161.92 783.51 1160.8 783.66 1160.27 783.81 1160.56 783.96 1159.78 784.12 1161.85 784.27 1160.83 784.42 1160.71 784.57 1154.25 784.73 1158.73 784.88 1162.46 785.03 1158.05 785.18 1159.28 785.33 1158.54 785.49 1155.22 785.64 1160.49 785.79 1164.02 785.94 1163.61 786.09 1160.08 786.25 1159.2 786.4 1160.18 786.55 1162.2 786.7 1160.14 786.85 1162.77 787.01 1161.52 787.16 1159.29 787.31 1160.74 787.46 1164.13 787.62 1163.77 787.77 1163.45 787.92 1166.33 788.07 1164.16 788.22 1164 788.38 1164.61 788.53 1165.52 788.68 1160.54 788.83 1163.47 788.98 1162.62 789.14 1160.84 789.29 1158.86 789.44 1162.79 789.59 1159.05 789.74 1158.13 789.9 1161.43 790.05 1159.14 790.2 1166.8 790.35 1161.63 790.51 1161.87 790.66 1160.87 790.81 1162.16 790.96 1161.38 791.11 1161.32 791.27 1159.28 791.42 1156.86 791.57 1162.53 791.72 1162.67 791.87 1161.48 792.03 1161.35 792.18 1161.8 792.33 1158.86 792.48 1165.92 792.63 1158.28 792.79 1157.67 792.94 1163.35 793.09 1158.8 793.24 1160.83 793.4 1159.14 793.55 1162.16 793.7 1163.5 793.85 1163.4 794 1160.27 794.16 1164.73 794.31 1162.01 794.46 1159.61 794.61 1163.92 794.76 1161.15 794.92 1159.98 795.07 1157.94 795.22 1159.89 795.37 1156.68 795.52 1156.15 795.68 1158.63 795.83 1158.7 795.98 1155.91 796.13 1160.73 796.29 1155.48 796.44 1156.73 796.59 1159.39 796.74 1157.51 796.89 1158.72 797.05 1157.04 797.2 1151.8 797.35 1159.05 797.5 1156.23 797.65 1158.7 797.81 1156.93 797.96 1156.85 798.11 1160.39 798.26 1160.51 798.42 1159.77 798.57 1157.13 798.72 1160.9 798.87 1158.03 799.02 1157.93 799.18 1157.4 799.33 1158.31 799.48 1160.58 799.63 1161.21 799.78 1162.13 799.94 1160.68 800.09 1161.54 800.24 1159.71 800.39 1160.08 800.54 1159.34 800.7 1158.27 800.85 1159.48 801 1159.58 801.15 1157.4 801.31 1154.62 801.46 1157.01 801.61 1158.19 801.76 1158.18 801.91 1156.4 802.07 1156.01 802.22 1154.77 802.37 1158.43 802.52 1157.4 802.67 1160.13 802.83 1156.02 802.98 1161.43 803.13 1157.53 803.28 1156.08 803.43 1156.72 803.59 1158.37 803.74 1158.73 803.89 1153.58 804.04 1156.78 804.2 1158.72 804.35 1160.4 804.5 1160.38 804.65 1158.12 804.8 1159.48 804.96 1158.69 805.11 1159.66 805.26 1162.08 805.41 1159.09 805.56 1158.7 805.72 1161.02 805.87 1160.12 806.02 1155.18 806.17 1155.19 806.32 1152.24 806.48 1158.03 806.63 1156.5 806.78 1155.32 806.93 1155.63 807.09 1153.53 807.24 1158.35 807.39 1154.61 807.54 1157.91 807.69 1156.4 807.85 1154.19 808 1156.3 808.15 1154.79 808.3 1155.56 808.45 1157.74 808.61 1160.4 808.76 1159.58 808.91 1160.62 809.06 1155.88 809.21 1158.79 809.37 1158.35 809.52 1158.17 809.67 1160.23 809.82 1161.62 809.98 1157.71 810.13 1157.63 810.28 1158.13 810.43 1157.99 810.58 1155.68 810.74 1152.72 810.89 1156.02 811.04 1155.41 811.19 1153.17 811.34 1158.49 811.5 1153.64 811.65 1153.24 811.8 1154.84 811.95 1153.25 812.1 1154.16 812.26 1154.38 812.41 1153.98 812.56 1155.45 812.71 1153.44 812.87 1152.21 813.02 1158.49 813.17 1159.75 813.32 1160.19 813.47 1156.8 813.63 1156.98 813.78 1154.06 813.93 1156.59 814.08 1150.57 814.23 1152.41 814.39 1150 814.54 1151.51 814.69 1151.35 814.84 1149.41 814.99 1153.69 815.15 1152.55 815.3 1155.38 815.45 1156.34 815.6 1152.84 815.76 1157.59 815.91 1154.61 816.06 1155.54 816.21 1156.54 816.36 1158.19 816.52 1158.02 816.67 1158.38 816.82 1155.79 816.97 1155.9 817.12 1157.45 817.28 1155.83 817.43 1156.21 817.58 1156.4 817.73 1157.73 817.88 1156.91 818.04 1156.56 818.19 1154.2 818.34 1151.66 818.49 1151.75 818.65 1153.46 818.8 1152.02 818.95 1149.96 819.1 1153.56 819.25 1159.2 819.41 1155.68 819.56 1156.57 819.71 1156.17 819.86 1156.89 820.01 1153.94 820.17 1157.84 820.32 1159.24 820.47 1157.21 820.62 1157.62 820.77 1158.13 820.93 1158.9 821.08 1155.01 821.23 1154.48 821.38 1157.28 821.54 1158.19 821.69 1159.82 821.84 1156.41 821.99 1156.69 822.14 1156.6 822.3 1157.27 822.45 1154.36 822.6 1156.93 822.75 1156.71 822.9 1154.35 823.06 1155.53 823.21 1155.02 823.36 1153.83 823.51 1155.2 823.67 1153.22 823.82 1154.7 823.97 1154.21 824.12 1153.12 824.27 1152.1 824.43 1151.65 824.58 1154.32 824.73 1152.49 824.88 1149.59 825.03 1152.94 825.19 1148.38 825.34 1150.57 825.49 1150.26 825.64 1153.07 825.79 1151.89 825.95 1152.72 826.1 1152.85 826.25 1151.53 826.4 1152.38 826.56 1151.67 826.71 1154.6 826.86 1153.89 827.01 1154.53 827.16 1155.06 827.32 1154.93 827.47 1149.19 827.62 1150.49 827.77 1156.44 827.92 1153.6 828.08 1154.46 828.23 1155.59 828.38 1151.89 828.53 1154.52 828.68 1153.26 828.84 1151.99 828.99 1154.86 829.14 1157.55 829.29 1154.12 829.45 1151.66 829.6 1153.44 829.75 1152.25 829.9 1149.4 830.05 1153.23 830.21 1153.41 830.36 1151.51 830.51 1152.24 830.66 1150.74 830.81 1150.6 830.97 1150.17 831.12 1150.62 831.27 1150.14 831.42 1151.06 831.57 1151.13 831.73 1149.74 831.88 1149.59 832.03 1153.12 832.18 1152 832.34 1156.91 832.49 1153.42 832.64 1157.06 832.79 1153.61 832.94 1153.9 833.1 1154.21 833.25 1152.37 833.4 1150.14" fill="none" stroke="#000" stroke-width="2.2" stroke-linejoin="round" stroke-linecap="round"/>
<line x1="625.1" y1="1143.4" x2="848" y2="1143.4" stroke="#000" stroke-width="1.8" stroke-dasharray="5.2 2.8"/>
<rect x="826.6" y="1220.6" width="7.2" height="60.8" fill="#000"/>
<text transform="translate(740.69 1256.83) scale(1.054 1)" font-size="23.35" fill="#000" stroke="#000" stroke-width="0.45" stroke-linejoin="round"><tspan y="0">200 pA</tspan></text>
<path d="M874.1 1143.2 877 1142 880 1144 883 1143 886 1145.5 889 1143.5 894 1144" fill="none" stroke="#000" stroke-width="1.4" stroke-linejoin="round" stroke-linecap="round"/>
<line x1="894.3" y1="1144" x2="894.6" y2="1304" stroke="#000" stroke-width="1.3"/>
<path d="M894.6 1304 894.73 1304.5 894.86 1303 894.99 1303.82 895.12 1299.92 895.25 1305.83 895.38 1305.12 895.51 1303.52 895.64 1306.34 895.77 1303.09 895.9 1301.66 896.03 1305.94 896.16 1304.16 896.29 1302.12 896.42 1299.62 896.55 1301.81 896.68 1302.25 896.81 1296.42 896.94 1294.28 897.07 1297.58 897.2 1292.68 897.33 1296.91 897.46 1296.96 897.59 1291.24 897.72 1296.72 897.85 1289.57 897.98 1288.29 898.11 1287.6 898.24 1287.1 898.37 1286.31 898.5 1283.57 898.63 1280.44 898.76 1280.41 898.89 1278.18 899.02 1278.88 899.15 1280.35 899.28 1279.86 899.41 1277.7 899.54 1279.45 899.67 1275.63 899.8 1275.75 899.93 1273.92 900.06 1275.02 900.2 1274.44 900.33 1269.17 900.46 1270.43 900.59 1265.95 900.72 1273.61 900.85 1263.51 900.98 1266.76 901.11 1262.02 901.24 1263.95 901.37 1263.47 901.5 1262.58 901.63 1259.25 901.76 1261.62 901.89 1257.33 902.02 1256.23 902.15 1256.78 902.28 1255.94 902.41 1260.39 902.54 1257.98 902.67 1255.59 902.8 1247.81 902.93 1251.68 903.06 1252.67 903.19 1246.29 903.32 1253.13 903.45 1248.11 903.58 1250.35 903.71 1251.72 903.84 1251.16 903.97 1251.47 904.1 1252.55 904.23 1254.11 904.36 1254.51 904.49 1253.7 904.62 1250.94 904.75 1245.21 904.88 1246.96 905.01 1248.46 905.14 1250.68 905.27 1251.17 905.4 1247.39 905.53 1246.27 905.66 1247.52 905.79 1248.35 905.92 1249.77 906.05 1249.1 906.18 1246.57 906.31 1241.7 906.44 1246 906.57 1239.7 906.7 1246.08 906.83 1250.79 906.96 1247.32 907.09 1245.72 907.22 1250.54 907.35 1241.88 907.48 1245.03 907.61 1246.14 907.74 1242.96 907.87 1243.48 908 1246.13 908.13 1243.82 908.26 1240.99 908.39 1242.38 908.52 1243.52 908.65 1240.51 908.78 1239.19 908.91 1241.86 909.04 1239.87 909.17 1240.25 909.3 1236.43 909.43 1238.22 909.56 1237.18 909.69 1234.1 909.82 1241.39 909.95 1237.51 910.08 1237.41 910.21 1239.21 910.34 1240.18 910.47 1239.13 910.6 1235.32 910.73 1237.1 910.86 1234.22 910.99 1234.58 911.13 1235.82 911.26 1237.65 911.39 1233.05 911.52 1237.23 911.65 1235.85 911.78 1232.83 911.91 1241.03 912.04 1233.62 912.17 1236.6 912.3 1233.28 912.43 1233.64 912.56 1234.38 912.69 1231.67 912.82 1230.75 912.95 1233.32 913.08 1233.17 913.21 1235.93 913.34 1230.24 913.47 1225.17 913.6 1225.24 913.73 1229.91 913.86 1226.73 913.99 1225.3 914.12 1230.13 914.25 1223.36 914.38 1223.55 914.51 1227.51 914.64 1229.86 914.77 1228.83 914.9 1222.78 915.03 1227.14 915.16 1223.15 915.29 1226.04 915.42 1217.01 915.55 1221.32 915.68 1225.85 915.81 1224.83 915.94 1226.94 916.07 1216.42 916.2 1228.46 916.33 1226.88 916.46 1229.9 916.59 1222.48 916.72 1224.62 916.85 1222.53 916.98 1220.11 917.11 1221.7 917.24 1221 917.37 1221.96 917.5 1219.36 917.63 1220.49 917.76 1217.84 917.89 1218.45 918.02 1219.59 918.15 1220.11 918.28 1220.56 918.41 1221.83 918.54 1218.34 918.67 1217.82 918.8 1215.98 918.93 1223.21 919.06 1225.39 919.19 1221.75 919.32 1221.49 919.45 1217.98 919.58 1219.77 919.71 1222.1 919.84 1220.18 919.97 1216.2 920.1 1219.37 920.23 1218.55 920.36 1220.74 920.49 1222.66 920.62 1219.26 920.75 1221.14 920.88 1222.32 921.01 1218.04 921.14 1220.02 921.27 1216.8 921.4 1221.78 921.53 1222.87 921.66 1221.81 921.79 1222.33 921.92 1219.66 922.05 1220.12 922.19 1225.93 922.32 1224.84 922.45 1221.7 922.58 1223.63 922.71 1220.97 922.84 1219.58 922.97 1222.57 923.1 1221.39 923.23 1221.36 923.36 1225.59 923.49 1221.58 923.62 1221.27 923.75 1225.3 923.88 1219.56 924.01 1221.05 924.14 1220.15 924.27 1221.77 924.4 1227.96 924.53 1218.18 924.66 1225.44 924.79 1219.45 924.92 1218.46 925.05 1221.3 925.18 1220.98 925.31 1220.18 925.44 1217.36 925.57 1221.84 925.7 1217.37 925.83 1221.45 925.96 1226.05 926.09 1216.71 926.22 1220.7 926.35 1219.87 926.48 1216.61 926.61 1219.53 926.74 1221.03 926.87 1220.91 927 1220.52 927.13 1217.24 927.26 1217.43 927.39 1214.93 927.52 1219.18 927.65 1213.97 927.78 1213.82 927.91 1214.78 928.04 1218.89 928.17 1210.57 928.3 1216.48 928.43 1215.75 928.56 1212.18 928.69 1214.34 928.82 1209.69 928.95 1213.12 929.08 1214 929.21 1211.64 929.34 1213.29 929.47 1213.38 929.6 1214.21 929.73 1213.43 929.86 1214.24 929.99 1212.05 930.12 1212.79 930.25 1211.89 930.38 1214.08 930.51 1209.72 930.64 1208.49 930.77 1207.79 930.9 1208.56 931.03 1204.49 931.16 1206.15 931.29 1211.24 931.42 1213.85 931.55 1212.67 931.68 1207.44 931.81 1211.74 931.94 1208.53 932.07 1205.68 932.2 1209.57 932.33 1207.61 932.46 1207.58 932.59 1206.11 932.72 1208.09 932.85 1205.29 932.98 1205.44 933.12 1204.66 933.25 1208.27 933.38 1207.85 933.51 1208.94 933.64 1205.57 933.77 1204.69 933.9 1204.8 934.03 1205.28 934.16 1204.4 934.29 1207.71 934.42 1204.36 934.55 1196.85 934.68 1201.49 934.81 1203.09 934.94 1202.03 935.07 1201.07 935.2 1200.12 935.33 1204.37 935.46 1198.7 935.59 1202.39 935.72 1202.34 935.85 1202.27 935.98 1205.49 936.11 1198.71 936.24 1199.15 936.37 1200.97 936.5 1201.3 936.63 1201.38 936.76 1198 936.89 1198.41 937.02 1202.85 937.15 1199.54 937.28 1199 937.41 1199.58 937.54 1201.52 937.67 1196.47 937.8 1198.28 937.93 1192.96 938.06 1196.19 938.19 1198 938.32 1199.57 938.45 1195.72 938.58 1193.74 938.71 1195.03 938.84 1191.47 938.97 1194.7 939.1 1196.45 939.23 1197.76 939.36 1199.25 939.49 1196.2 939.62 1194.67 939.75 1196.63 939.88 1195.57 940.01 1198.29 940.14 1197.54 940.27 1190.54 940.4 1193.72 940.53 1199.15 940.66 1196.42 940.79 1193.43 940.92 1186.44 941.05 1195.7 941.18 1195.35 941.31 1194.18 941.44 1196.56 941.57 1194.57 941.7 1194.93 941.83 1191.86 941.96 1191.92 942.09 1192.87 942.22 1190.28 942.35 1188.08 942.48 1187.06 942.61 1190.09 942.74 1187.31 942.87 1187.39 943 1186.77 943.13 1188.35 943.26 1181.91 943.39 1181.9 943.52 1188.21 943.65 1188.4 943.78 1192.9 943.91 1189.52 944.04 1187.73 944.18 1193.14 944.31 1194.76 944.44 1194.96 944.57 1196 944.7 1201.12 944.83 1195.2 944.96 1197.35 945.09 1195.83 945.22 1191.7 945.35 1192.19 945.48 1193.46 945.61 1195.26 945.74 1192.29 945.87 1199.94 946 1197.44 946.13 1197.29 946.26 1198.82 946.39 1201.86 946.52 1200.55 946.65 1199.76 946.78 1200.42 946.91 1203.09 947.04 1206.65 947.17 1196.02 947.3 1202.34 947.43 1202.97 947.56 1201.43 947.69 1208.77 947.82 1204.11 947.95 1199.47 948.08 1204.58 948.21 1201.18 948.34 1205.3 948.47 1203.42 948.6 1205.73 948.73 1201.13 948.86 1203.71 948.99 1206.46 949.12 1201.41 949.25 1199.93 949.38 1200.92 949.51 1202.41 949.64 1201.38 949.77 1203.41 949.9 1205.97 950.03 1201.09 950.16 1200.26 950.29 1201.56 950.42 1199.77 950.55 1201.69 950.68 1202.2 950.81 1197.93 950.94 1201.2 951.07 1201.25 951.2 1196.06 951.33 1199.16 951.46 1196.68 951.59 1201.99 951.72 1200.4 951.85 1202.19 951.98 1205.1 952.11 1204.02 952.24 1203.21 952.37 1203.7 952.5 1201.72 952.63 1202.17 952.76 1206.24 952.89 1200.91 953.02 1201.4 953.15 1200.89 953.28 1200.95 953.41 1201.51 953.54 1197.52 953.67 1199.38 953.8 1199.91 953.93 1200.87 954.06 1201.18 954.19 1201.56 954.32 1201.74 954.45 1199.33 954.58 1198.12 954.71 1198.14 954.84 1202.84 954.97 1204.3 955.11 1199.43 955.24 1197.86 955.37 1199.71 955.5 1200.82 955.63 1199.13 955.76 1199.51 955.89 1201.72 956.02 1201.06 956.15 1199.21 956.28 1197.36 956.41 1199.41 956.54 1202.58 956.67 1195.97 956.8 1203.13 956.93 1200.2 957.06 1203.31 957.19 1198.53 957.32 1198.11 957.45 1196.98 957.58 1200.16 957.71 1200.28 957.84 1199.56 957.97 1200.2 958.1 1200.75 958.23 1198.06 958.36 1202.19 958.49 1195.79 958.62 1198.69 958.75 1200.51 958.88 1199.05 959.01 1199.34 959.14 1195.16 959.27 1198.13 959.4 1198.86 959.53 1196.32 959.66 1200.23 959.79 1196.09 959.92 1196.68 960.05 1196.05 960.18 1199.99 960.31 1196.38 960.44 1199.2 960.57 1199.79 960.7 1197.21 960.83 1199.61 960.96 1202.26 961.09 1193.89 961.22 1193.23 961.35 1201.37 961.48 1194.95 961.61 1203.72 961.74 1198.74 961.87 1191.66 962 1199.6 962.13 1197.44 962.26 1198.2 962.39 1199.7 962.52 1196.46 962.65 1196.58 962.78 1197.74 962.91 1193.35 963.04 1196.17 963.17 1197.84 963.3 1196.45 963.43 1196.99 963.56 1196.56 963.69 1191.65 963.82 1194.74 963.95 1191.94 964.08 1197.03 964.21 1198.64 964.34 1197.13 964.47 1192.75 964.6 1195.91 964.73 1199.61 964.86 1198.72 964.99 1198.84 965.12 1198.32 965.25 1194.35 965.38 1197.25 965.51 1197.2 965.64 1194.97 965.77 1195.42 965.9 1196.05 966.03 1200.66 966.17 1198.61 966.3 1194.96 966.43 1195.55 966.56 1190.56 966.69 1193.65 966.82 1195.89 966.95 1192.63 967.08 1194.97 967.21 1196.88 967.34 1192.63 967.47 1189.12 967.6 1192.58 967.73 1192.59 967.86 1198.48 967.99 1191.52 968.12 1192.07 968.25 1194.13 968.38 1191.01 968.51 1191.97 968.64 1192.52 968.77 1192.1 968.9 1193.29 969.03 1193.13 969.16 1186.08 969.29 1195.01 969.42 1191.12 969.55 1193.81 969.68 1192.54 969.81 1194.51 969.94 1196.42 970.07 1193.35 970.2 1193.24 970.33 1195.32 970.46 1193.85 970.59 1197.68 970.72 1192.81 970.85 1191.85 970.98 1198.23 971.11 1191.95 971.24 1196.26 971.37 1192.02 971.5 1194.8 971.63 1197.05 971.76 1197.27 971.89 1192.46 972.02 1193.99 972.15 1194.8 972.28 1191.58 972.41 1195.53 972.54 1196.19 972.67 1196.94 972.8 1192.36 972.93 1193.81 973.06 1190.05 973.19 1190.92 973.32 1194.32 973.45 1191.06 973.58 1192.16 973.71 1189.73 973.84 1190.3 973.97 1188.79 974.1 1191.6 974.23 1189.7 974.36 1191.64 974.49 1193.34 974.62 1190.44 974.75 1190.84 974.88 1196.24 975.01 1192.24 975.14 1195.1 975.27 1194.48 975.4 1192.7 975.53 1190.9 975.66 1185.9 975.79 1191.11 975.92 1188.53 976.05 1187.64 976.18 1190.84 976.31 1194.36 976.44 1192.79 976.57 1194.22 976.7 1194.03 976.83 1193.88 976.96 1189.09 977.09 1189.19 977.23 1191.81 977.36 1194.27 977.49 1191.42 977.62 1189.14 977.75 1190.37 977.88 1190.48 978.01 1189.91 978.14 1189.11 978.27 1195.39 978.4 1191.48 978.53 1188.73 978.66 1193.17 978.79 1193.98 978.92 1194.99 979.05 1190.8 979.18 1189.24 979.31 1198.48 979.44 1189.6 979.57 1188.51 979.7 1192.56 979.83 1195.01 979.96 1194.29 980.09 1190.32 980.22 1191.81 980.35 1190.64 980.48 1192.6 980.61 1191.43 980.74 1198.39 980.87 1195.18 981 1192.5 981.13 1191.8 981.26 1195.43 981.39 1190.36 981.52 1192.02 981.65 1191.35 981.78 1192.87 981.91 1196.12 982.04 1190.72 982.17 1191.09 982.3 1191.39 982.43 1193.24 982.56 1191.82 982.69 1192.36 982.82 1193.33 982.95 1196.98 983.08 1196.54 983.21 1194.04 983.34 1195.93 983.47 1194.3 983.6 1193.63 983.73 1191.96 983.86 1195.19 983.99 1193.1 984.12 1192.5 984.25 1192.36 984.38 1193.38 984.51 1194.03 984.64 1190.7 984.77 1191.91 984.9 1190.93 985.03 1187.11 985.16 1190.51 985.29 1199.43 985.42 1189.05 985.55 1191.77 985.68 1195 985.81 1194.11 985.94 1194.52 986.07 1192.47 986.2 1192.73 986.33 1192.71 986.46 1192.28 986.59 1195.11 986.72 1196.14 986.85 1196.54 986.98 1199.62 987.11 1196.97 987.24 1203.44 987.37 1196.71 987.5 1193.84 987.63 1192.6 987.76 1196.63 987.89 1197.75 988.02 1197.03 988.16 1194.72 988.29 1198.49 988.42 1195.03 988.55 1194.3 988.68 1195.24 988.81 1195.21 988.94 1195.77 989.07 1191.74 989.2 1193.22 989.33 1198.26 989.46 1194.99 989.59 1198.93 989.72 1197.29 989.85 1197.69 989.98 1199.6 990.11 1195.57 990.24 1196.44 990.37 1197.05 990.5 1197.89 990.63 1192.38 990.76 1195.26 990.89 1198.25 991.02 1197.65 991.15 1199.93 991.28 1201.05 991.41 1195.38 991.54 1196.66 991.67 1199.76 991.8 1197.83 991.93 1194.28 992.06 1197.14 992.19 1197.47 992.32 1195.4 992.45 1196.78 992.58 1200.5 992.71 1200.44 992.84 1195.88 992.97 1196.82 993.1 1198.02 993.23 1198.37 993.36 1197.94 993.49 1196.42 993.62 1198.62 993.75 1193.2 993.88 1196.75 994.01 1198.59 994.14 1198.58 994.27 1198.69 994.4 1200.19 994.53 1198.72 994.66 1197.1 994.79 1201.32 994.92 1196.59 995.05 1203.83 995.18 1193.96 995.31 1199.89 995.44 1194.41 995.57 1193.74 995.7 1196.25 995.83 1192.44 995.96 1198.26 996.09 1199.24 996.22 1196.99 996.35 1198 996.48 1200.37 996.61 1197.9 996.74 1201.68 996.87 1197.19 997 1203.57 997.13 1198.2 997.26 1194.8 997.39 1199.85 997.52 1199.1 997.65 1195.32 997.78 1202.33 997.91 1197.85 998.04 1200.53 998.17 1205.94 998.3 1199.3 998.43 1199.07 998.56 1201.81 998.69 1195.03 998.82 1203.58 998.95 1198.08 999.08 1203 999.22 1203.19 999.35 1197.16 999.48 1197.24 999.61 1203.63 999.74 1198.76 999.87 1202.55 1000 1204.26 1000.13 1205.48 1000.26 1203.35 1000.39 1201.27 1000.52 1204.5 1000.65 1204.05 1000.78 1204.71 1000.91 1199.62 1001.04 1206.3 1001.17 1203.96 1001.3 1201.91 1001.43 1204.63 1001.56 1204.1 1001.69 1199.08 1001.82 1201.94 1001.95 1203.96 1002.08 1203.63 1002.21 1203.81 1002.34 1201.56 1002.47 1200.88 1002.6 1202.12 1002.73 1203.55 1002.86 1203.23 1002.99 1204.71 1003.12 1202.37 1003.25 1202.62 1003.38 1202.32 1003.51 1203.09 1003.64 1201.88 1003.77 1203.76 1003.9 1203.11 1004.03 1207.19 1004.16 1202.31 1004.29 1202.42 1004.42 1206.9 1004.55 1210.25 1004.68 1206.33 1004.81 1204.63 1004.94 1208.91 1005.07 1204.14 1005.2 1206.37 1005.33 1204.79 1005.46 1201.18 1005.59 1205.15 1005.72 1203.95 1005.85 1201.93 1005.98 1203.4 1006.11 1200.96 1006.24 1203.37 1006.37 1204.74 1006.5 1206.67 1006.63 1201.63 1006.76 1206.99 1006.89 1203.44 1007.02 1200.91 1007.15 1207.65 1007.28 1208.02 1007.41 1203.53 1007.54 1207.12 1007.67 1204.02 1007.8 1205.51 1007.93 1207.92 1008.06 1206.1 1008.19 1203.08 1008.32 1199.55 1008.45 1200.39 1008.58 1201.76 1008.71 1201.54 1008.84 1203.82 1008.97 1204.47 1009.1 1207.11 1009.23 1205.8 1009.36 1200.15 1009.49 1208.08 1009.62 1202.65 1009.75 1201.85 1009.88 1199.08 1010.01 1203.37 1010.15 1208.51 1010.28 1202.88 1010.41 1204.36 1010.54 1204.66 1010.67 1205.05 1010.8 1200.88 1010.93 1200.3 1011.06 1204.44 1011.19 1204.86 1011.32 1200.78 1011.45 1203.14 1011.58 1203.8 1011.71 1202.22 1011.84 1199.31 1011.97 1204.92 1012.1 1202.64 1012.23 1200.97 1012.36 1199.55 1012.49 1196.94 1012.62 1199.86 1012.75 1201.44 1012.88 1198.89 1013.01 1203.82 1013.14 1197.74 1013.27 1204.64 1013.4 1199.83 1013.53 1199.27 1013.66 1200.11 1013.79 1201.69 1013.92 1203.19 1014.05 1198.27 1014.18 1202.96 1014.31 1199.93 1014.44 1196.77 1014.57 1196.11 1014.7 1201.27 1014.83 1195.43 1014.96 1197.55 1015.09 1198.42 1015.22 1202 1015.35 1193.83 1015.48 1199.7 1015.61 1200.07 1015.74 1195.93 1015.87 1198.36 1016 1198.76 1016.13 1200.69 1016.26 1198.69 1016.39 1197.69 1016.52 1200.14 1016.65 1201.42 1016.78 1195.25 1016.91 1197.88 1017.04 1196.94 1017.17 1197.8 1017.3 1199.36 1017.43 1195.7 1017.56 1192.72 1017.69 1196.13 1017.82 1193.83 1017.95 1200.77 1018.08 1199.91 1018.21 1193.63 1018.34 1196.04 1018.47 1191.62 1018.6 1195.01 1018.73 1194.49 1018.86 1200.71 1018.99 1196.92 1019.12 1196.35 1019.25 1198.62 1019.38 1195.39 1019.51 1198.36 1019.64 1195.78 1019.77 1195.64 1019.9 1200.27 1020.03 1189.91 1020.16 1197.67 1020.29 1194.39 1020.42 1197.98 1020.55 1194.54 1020.68 1195.42 1020.81 1192.62 1020.94 1199.11 1021.07 1194.52 1021.21 1193.11 1021.34 1188.36 1021.47 1191.7 1021.6 1196.94 1021.73 1192.35 1021.86 1191.08 1021.99 1193.81 1022.12 1193.12 1022.25 1193.62 1022.38 1192.37 1022.51 1197.41 1022.64 1190.56 1022.77 1191.68 1022.9 1193.6 1023.03 1195.73 1023.16 1197.81 1023.29 1193.95 1023.42 1195.79 1023.55 1194.44 1023.68 1199.99 1023.81 1190.89 1023.94 1195.05 1024.07 1192.13 1024.2 1192.15 1024.33 1193.58 1024.46 1195.36 1024.59 1191.08 1024.72 1192.45 1024.85 1190.84 1024.98 1186.52 1025.11 1197.21 1025.24 1192.83 1025.37 1191.86 1025.5 1189.94 1025.63 1191.12 1025.76 1192.43 1025.89 1194.12 1026.02 1191.5 1026.15 1191.91 1026.28 1189.43 1026.41 1191.04 1026.54 1192.51 1026.67 1188.17 1026.8 1191.64 1026.93 1193.65 1027.06 1197.73 1027.19 1189.11 1027.32 1190.04 1027.45 1194.19 1027.58 1186.29 1027.71 1197.24 1027.84 1191.62 1027.97 1192.46 1028.1 1192.26 1028.23 1186.95 1028.36 1192.21 1028.49 1189.03 1028.62 1191.02 1028.75 1192.81 1028.88 1193.86 1029.01 1195.23 1029.14 1192.57 1029.27 1195.56 1029.4 1193.97 1029.53 1191.92 1029.66 1194.92 1029.79 1192.21 1029.92 1194.99 1030.05 1192.42 1030.18 1193.43 1030.31 1196.32 1030.44 1189.81 1030.57 1196.14 1030.7 1193.27 1030.83 1195.91 1030.96 1195.68 1031.09 1192.6 1031.22 1196.36 1031.35 1198.23 1031.48 1192.98 1031.61 1195.6 1031.74 1199.3 1031.87 1189.08 1032 1193.94 1032.14 1198.84 1032.27 1194.07 1032.4 1195.26 1032.53 1194.12 1032.66 1189.98 1032.79 1198.87 1032.92 1198.36 1033.05 1198.79 1033.18 1196.8 1033.31 1192.57 1033.44 1190.16 1033.57 1194.34 1033.7 1196.96 1033.83 1194.79 1033.96 1195.31 1034.09 1199.08 1034.22 1193.73 1034.35 1194.13 1034.48 1197.5 1034.61 1194.05 1034.74 1192.63 1034.87 1192.58 1035 1194.97 1035.13 1191.2 1035.26 1191.94 1035.39 1193.21 1035.52 1189.94 1035.65 1190.95 1035.78 1193.23 1035.91 1193.19 1036.04 1191.11 1036.17 1191.61 1036.3 1194.49 1036.43 1191.67 1036.56 1192.09 1036.69 1191.4 1036.82 1190.31 1036.95 1193.3 1037.08 1190.15 1037.21 1186.5 1037.34 1194.67 1037.47 1189.05 1037.6 1189.43" fill="none" stroke="#000" stroke-width="1.2" stroke-linejoin="round" stroke-linecap="round"/>
<text transform="translate(937.82 1272.9)" font-size="38.35" fill="#000" stroke="#000" stroke-width="0.25" stroke-linejoin="round"><tspan font-weight="bold" y="0">SA</tspan></text>
<line x1="1210.1" y1="751" x2="1210.1" y2="1196" stroke="#000" stroke-width="4"/>
<line x1="1197.9" y1="1194" x2="1210.1" y2="1194" stroke="#000" stroke-width="4"/>
<text transform="translate(1172.04 1204.92) scale(0.987 1)" font-size="32" fill="#000" stroke="#000" stroke-width="0.25" stroke-linejoin="round"><tspan font-weight="bold" y="0">0</tspan></text>
<line x1="1197.9" y1="1110.1" x2="1210.1" y2="1110.1" stroke="#000" stroke-width="4"/>
<text transform="translate(1156.94 1121.02) scale(0.916 1)" font-size="32" fill="#000" stroke="#000" stroke-width="0.25" stroke-linejoin="round"><tspan font-weight="bold" y="0">20</tspan></text>
<line x1="1197.9" y1="1026.2" x2="1210.1" y2="1026.2" stroke="#000" stroke-width="4"/>
<text transform="translate(1157.52 1037.12) scale(0.899 1)" font-size="32" fill="#000" stroke="#000" stroke-width="0.25" stroke-linejoin="round"><tspan font-weight="bold" y="0">40</tspan></text>
<line x1="1197.9" y1="942.3" x2="1210.1" y2="942.3" stroke="#000" stroke-width="4"/>
<text transform="translate(1156.88 953.22) scale(0.918 1)" font-size="32" fill="#000" stroke="#000" stroke-width="0.25" stroke-linejoin="round"><tspan font-weight="bold" y="0">60</tspan></text>
<line x1="1197.9" y1="858.4" x2="1210.1" y2="858.4" stroke="#000" stroke-width="4"/>
<text transform="translate(1157.03 869.32) scale(0.914 1)" font-size="32" fill="#000" stroke="#000" stroke-width="0.25" stroke-linejoin="round"><tspan font-weight="bold" y="0">80</tspan></text>
<line x1="1197.9" y1="774.5" x2="1210.1" y2="774.5" stroke="#000" stroke-width="4"/>
<text transform="translate(1138.17 785.42) scale(0.964 1)" font-size="32" fill="#000" stroke="#000" stroke-width="0.25" stroke-linejoin="round"><tspan font-weight="bold" y="0">100</tspan></text>
<line x1="1198.8" y1="1194" x2="1349.3" y2="1194" stroke="#000" stroke-width="4"/>
<line x1="1365.1" y1="1194" x2="1566.3" y2="1194" stroke="#000" stroke-width="4"/>
<line x1="1238.9" y1="1194" x2="1238.9" y2="1205.9" stroke="#000" stroke-width="4"/>
<line x1="1297.9" y1="1194" x2="1297.9" y2="1205.9" stroke="#000" stroke-width="4"/>
<line x1="1415.8" y1="1194" x2="1415.8" y2="1205.9" stroke="#000" stroke-width="4"/>
<line x1="1475.2" y1="1194" x2="1475.2" y2="1205.9" stroke="#000" stroke-width="4"/>
<line x1="1534.1" y1="1194" x2="1534.1" y2="1205.9" stroke="#000" stroke-width="4"/>
<rect x="1220.9" y="778.7" width="37.4" height="415.3" fill="#fff" stroke="#000" stroke-width="4" stroke-linejoin="round"/>
<rect x="1220.9" y="1164.63" width="37.4" height="29.37" fill="#e0292b" stroke="#000" stroke-width="4"/>
<rect x="1220.9" y="1139.46" width="37.4" height="25.17" fill="#ece22f" stroke="#000" stroke-width="4"/>
<rect x="1220.9" y="1042.98" width="37.4" height="96.48" fill="#4157a8" stroke="#000" stroke-width="4"/>
<rect x="1279.8" y="778.7" width="37.4" height="415.3" fill="#fff" stroke="#000" stroke-width="4" stroke-linejoin="round"/>
<rect x="1279.8" y="1147.86" width="37.4" height="46.14" fill="#ece22f" stroke="#000" stroke-width="4"/>
<rect x="1279.8" y="1055.57" width="37.4" height="92.29" fill="#4157a8" stroke="#000" stroke-width="4"/>
<rect x="1397.6" y="778.7" width="38" height="415.3" fill="#fff" stroke="#000" stroke-width="4" stroke-linejoin="round"/>
<rect x="1397.6" y="1101.71" width="38" height="92.29" fill="#e0292b" stroke="#000" stroke-width="4"/>
<rect x="1397.6" y="1051.37" width="38" height="50.34" fill="#ece22f" stroke="#000" stroke-width="4"/>
<rect x="1397.6" y="992.64" width="38" height="58.73" fill="#4157a8" stroke="#000" stroke-width="4"/>
<rect x="1456.6" y="778.7" width="38.2" height="415.3" fill="#fff" stroke="#000" stroke-width="4" stroke-linejoin="round"/>
<rect x="1456.6" y="1072.35" width="38.2" height="121.65" fill="#4157a8" stroke="#000" stroke-width="4"/>
<rect x="1515.6" y="778.7" width="38.1" height="415.3" fill="#fff" stroke="#000" stroke-width="4" stroke-linejoin="round"/>
<rect x="1515.6" y="1168.83" width="38.1" height="25.17" fill="#ece22f" stroke="#000" stroke-width="4"/>
<rect x="1515.6" y="1038.79" width="38.1" height="130.04" fill="#4157a8" stroke="#000" stroke-width="4"/>
<text transform="translate(1252.41 726.7) scale(1.021 1)" font-size="38.35" fill="#000" stroke="#000" stroke-width="0.45" stroke-linejoin="round"><tspan y="0">B6</tspan></text>
<text transform="translate(1395.65 727.8) scale(1.007 1)" font-size="38.2" fill="#000" stroke="#000" stroke-width="0.45" stroke-linejoin="round"><tspan y="0">Albino-B6</tspan></text>
<text transform="translate(1398.25 768.7) scale(0.971 1)" font-size="33.03" fill="#000" stroke="#000" stroke-width="1" stroke-linejoin="round"><tspan font-weight="bold" y="0">##</tspan></text>
<text transform="translate(1468.03 780.26) scale(1.009 1)" font-size="41.66" fill="#000" stroke="#000" stroke-width="0.2" stroke-linejoin="round"><tspan font-weight="bold" y="0">*</tspan></text>
<text transform="translate(1526.03 780.76) scale(1.009 1)" font-size="41.66" fill="#000" stroke="#000" stroke-width="0.2" stroke-linejoin="round"><tspan font-weight="bold" y="0">*</tspan></text>
<text transform="translate(1117.85 1182.42) rotate(-90) scale(0.994 1)" font-size="36.74" fill="#000" stroke="#000" stroke-width="0.25" stroke-linejoin="round"><tspan font-weight="bold" y="0">Mechano-sensitivity (%)</tspan></text>
<text transform="translate(1205.7 1272.31) rotate(-45)" font-size="33.3" fill="#000" stroke="#000" stroke-width="0.25" stroke-linejoin="round"><tspan font-weight="bold" y="0">Ctrl</tspan></text>
<text transform="translate(1272.22 1264.44) rotate(-45)" font-size="33.3" fill="#000" stroke="#000" stroke-width="0.25" stroke-linejoin="round"><tspan font-weight="bold" y="0">DA</tspan></text>
<text transform="translate(1383.15 1272.31) rotate(-45)" font-size="33.3" fill="#000" stroke="#000" stroke-width="0.25" stroke-linejoin="round"><tspan font-weight="bold" y="0">Ctrl</tspan></text>
<text transform="translate(1449.02 1264.44) rotate(-45)" font-size="33.3" fill="#000" stroke="#000" stroke-width="0.25" stroke-linejoin="round"><tspan font-weight="bold" y="0">DA</tspan></text>
<text transform="translate(1495.33 1278.59) rotate(-45)" font-size="33.3" fill="#000" stroke="#000" stroke-width="0.25" stroke-linejoin="round"><tspan font-weight="bold" y="0">SKF</tspan></text>
<rect x="1105.6" y="1287.3" width="47" height="22.2" fill="#e0292b" stroke="#000" stroke-width="3.4" rx="1"/>
<rect x="1252.5" y="1287.3" width="46.2" height="22.2" fill="#ece22f" stroke="#000" stroke-width="3.4" rx="1"/>
<rect x="1446.3" y="1287.3" width="46.3" height="22.2" fill="#4157a8" stroke="#000" stroke-width="3.4" rx="1"/>
<text transform="translate(1179.75 1310.18) scale(0.925 1)" font-size="36.56" fill="#000" stroke="#000" stroke-width="0.45" stroke-linejoin="round"><tspan y="0">RA</tspan></text>
<text transform="translate(1325.38 1309.84) scale(0.996 1)" font-size="34.79" fill="#000" stroke="#000" stroke-width="0.45" stroke-linejoin="round"><tspan y="0">Mixed</tspan></text>
<text transform="translate(1519.23 1310.34) scale(1.018 1)" font-size="34.53" fill="#000" stroke="#000" stroke-width="0.45" stroke-linejoin="round"><tspan y="0">SA</tspan></text>
<text transform="translate(1237.65 605.31) rotate(-45)" font-size="33.3" fill="#000" stroke="#000" stroke-width="0.25" stroke-linejoin="round"><tspan font-weight="bold" y="0">Ctrl</tspan></text>
<text transform="translate(1297.52 597.99) rotate(-45)" font-size="33.3" fill="#000" stroke="#000" stroke-width="0.25" stroke-linejoin="round"><tspan font-weight="bold" y="0">DA</tspan></text>
<text transform="translate(1395.35 605.31) rotate(-45)" font-size="33.3" fill="#000" stroke="#000" stroke-width="0.25" stroke-linejoin="round"><tspan font-weight="bold" y="0">Ctrl</tspan></text>
<text transform="translate(1455.17 597.99) rotate(-45)" font-size="33.3" fill="#000" stroke="#000" stroke-width="0.25" stroke-linejoin="round"><tspan font-weight="bold" y="0">DA</tspan></text>
<text transform="translate(1493.63 610.79) rotate(-45)" font-size="33.3" fill="#000" stroke="#000" stroke-width="0.25" stroke-linejoin="round"><tspan font-weight="bold" y="0">SKF</tspan></text>
</svg>
</body></html>
